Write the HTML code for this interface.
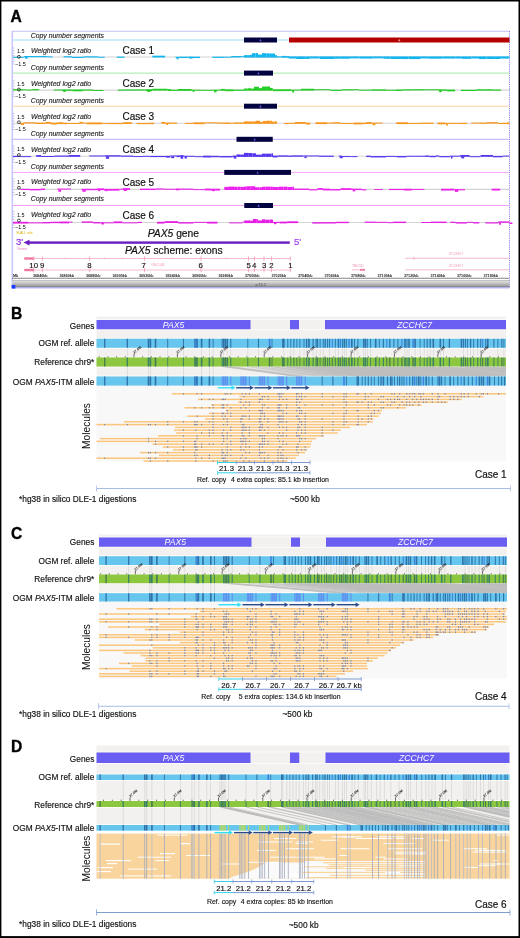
<!DOCTYPE html>
<html><head><meta charset="utf-8"><style>
html,body{margin:0;padding:0;background:#fff;}
body{width:520px;height:938px;overflow:hidden;position:relative;}
svg{display:block;font-family:"Liberation Sans",sans-serif;will-change:transform;}
.frame{position:absolute;left:0;top:0;width:520px;height:938px;box-sizing:border-box;border-style:solid;border-color:#000;border-width:1.5px 1.5px 2px 1.5px;pointer-events:none;}
</style></head><body>
<svg width="520" height="938" viewBox="0 0 520 938" font-family="Liberation Sans, sans-serif">
<rect x="0" y="0" width="520" height="938" fill="#fff"/>
<text x="10.60" y="22.30" font-size="15.6" fill="#000" text-anchor="start" font-weight="bold" stroke="#000" stroke-width="0.35">A</text>
<line x1="12.50" y1="31.30" x2="509.50" y2="31.30" stroke="#c4c4f4" stroke-width="1" />
<line x1="509.50" y1="31.00" x2="509.50" y2="288.00" stroke="#7a7af0" stroke-width="0.9" stroke-dasharray="1.2,1"/>
<rect x="11.50" y="31.00" width="1.60" height="257.00" fill="#c8c8ff" />
<text x="30.70" y="37.70" font-size="6.9" fill="#222" text-anchor="start" font-weight="normal" font-style="italic"  stroke="#222" stroke-width="0.124">Copy number segments</text>
<line x1="13.00" y1="40.00" x2="509.50" y2="40.00" stroke="#9fdcf7" stroke-width="1" />
<rect x="244.00" y="37.50" width="33.00" height="5.00" fill="#03033f" />
<path d="M259.30,41.20 L261.70,41.20 L260.50,38.80 Z" fill="#6a5ae0"/>
<rect x="289.00" y="37.50" width="220.50" height="5.00" fill="#b50000" />
<path d="M398.05,41.20 L400.45,41.20 L399.25,38.80 Z" fill="#e89a9a"/>
<text x="16.90" y="53.20" font-size="5.4" fill="#000" text-anchor="start" font-weight="normal" >1.5</text>
<text x="31.00" y="53.40" font-size="7" fill="#222" text-anchor="start" font-weight="normal" font-style="italic"  stroke="#222" stroke-width="0.126">Weighted log2 ratio</text>
<text x="122.50" y="53.80" font-size="10" fill="#111" text-anchor="start" font-weight="normal"  stroke="#111" stroke-width="0.180">Case 1</text>
<text x="15.00" y="65.50" font-size="5.4" fill="#000" text-anchor="start" font-weight="normal" >−1.5</text>
<line x1="12.60" y1="48.00" x2="14.40" y2="48.00" stroke="#b0b0d8" stroke-width="0.8" />
<line x1="12.60" y1="50.50" x2="14.40" y2="50.50" stroke="#b0b0d8" stroke-width="0.8" />
<line x1="12.60" y1="53.00" x2="14.40" y2="53.00" stroke="#b0b0d8" stroke-width="0.8" />
<line x1="12.60" y1="55.50" x2="14.40" y2="55.50" stroke="#b0b0d8" stroke-width="0.8" />
<line x1="12.60" y1="59.00" x2="14.40" y2="59.00" stroke="#b0b0d8" stroke-width="0.8" />
<line x1="12.60" y1="61.50" x2="14.40" y2="61.50" stroke="#b0b0d8" stroke-width="0.8" />
<line x1="12.60" y1="64.00" x2="14.40" y2="64.00" stroke="#b0b0d8" stroke-width="0.8" />
<line x1="13.00" y1="57.00" x2="509.50" y2="57.00" stroke="#d4d4d4" stroke-width="1.1" />
<rect x="13.00" y="56.77" width="11.10" height="1.00" fill="#12b5ee" />
<rect x="24.10" y="56.00" width="13.09" height="1.20" fill="#12b5ee" />
<rect x="25.10" y="57.00" width="2.44" height="1.75" fill="#12b5ee" />
<rect x="37.19" y="55.96" width="10.07" height="1.20" fill="#12b5ee" />
<rect x="47.25" y="56.40" width="5.37" height="1.00" fill="#12b5ee" />
<rect x="63.65" y="56.14" width="3.02" height="1.20" fill="#12b5ee" />
<rect x="66.67" y="56.23" width="5.16" height="1.20" fill="#12b5ee" />
<rect x="71.83" y="56.80" width="11.81" height="1.20" fill="#12b5ee" />
<rect x="83.64" y="56.28" width="14.62" height="1.20" fill="#12b5ee" />
<rect x="98.26" y="56.79" width="6.43" height="1.00" fill="#12b5ee" />
<rect x="116.89" y="56.58" width="7.62" height="1.20" fill="#12b5ee" />
<rect x="152.34" y="55.67" width="12.75" height="1.80" fill="#12b5ee" />
<rect x="175.61" y="56.81" width="3.61" height="1.20" fill="#12b5ee" />
<rect x="176.61" y="57.00" width="1.99" height="2.32" fill="#12b5ee" />
<rect x="179.22" y="56.65" width="9.01" height="1.40" fill="#12b5ee" />
<rect x="188.23" y="56.57" width="4.40" height="1.40" fill="#12b5ee" />
<rect x="189.23" y="57.00" width="3.39" height="1.59" fill="#12b5ee" />
<rect x="192.63" y="56.68" width="7.43" height="1.40" fill="#12b5ee" />
<rect x="212.20" y="56.67" width="11.92" height="1.20" fill="#12b5ee" />
<rect x="224.11" y="56.70" width="7.02" height="1.00" fill="#12b5ee" />
<rect x="231.13" y="56.06" width="9.94" height="1.40" fill="#12b5ee" />
<rect x="241.07" y="56.10" width="2.93" height="1.00" fill="#12b5ee" />
<rect x="277.00" y="56.32" width="4.73" height="1.20" fill="#12b5ee" />
<rect x="281.73" y="55.92" width="4.94" height="1.80" fill="#12b5ee" />
<rect x="286.67" y="56.12" width="2.33" height="1.80" fill="#12b5ee" />
<rect x="289.00" y="56.40" width="7.13" height="2.12" fill="#12b5ee" />
<rect x="296.13" y="56.40" width="9.11" height="2.62" fill="#12b5ee" />
<rect x="305.24" y="56.40" width="4.46" height="2.56" fill="#12b5ee" />
<rect x="309.70" y="56.40" width="9.91" height="2.04" fill="#12b5ee" />
<rect x="319.62" y="56.40" width="15.18" height="2.59" fill="#12b5ee" />
<rect x="334.80" y="56.40" width="5.34" height="2.29" fill="#12b5ee" />
<rect x="340.14" y="56.40" width="9.70" height="2.34" fill="#12b5ee" />
<rect x="349.84" y="56.40" width="9.54" height="1.95" fill="#12b5ee" />
<rect x="359.38" y="56.40" width="13.34" height="2.18" fill="#12b5ee" />
<rect x="372.71" y="56.40" width="10.64" height="1.93" fill="#12b5ee" />
<rect x="383.35" y="56.40" width="6.97" height="2.35" fill="#12b5ee" />
<rect x="390.32" y="56.40" width="11.69" height="2.57" fill="#12b5ee" />
<rect x="402.01" y="56.40" width="6.44" height="2.68" fill="#12b5ee" />
<rect x="408.46" y="56.40" width="12.31" height="2.67" fill="#12b5ee" />
<rect x="420.76" y="56.40" width="7.42" height="2.04" fill="#12b5ee" />
<rect x="428.18" y="56.40" width="14.07" height="2.28" fill="#12b5ee" />
<rect x="442.26" y="56.40" width="13.06" height="2.16" fill="#12b5ee" />
<rect x="455.32" y="56.40" width="6.56" height="2.13" fill="#12b5ee" />
<rect x="461.87" y="56.40" width="9.50" height="2.44" fill="#12b5ee" />
<rect x="471.38" y="56.40" width="7.64" height="2.12" fill="#12b5ee" />
<rect x="479.01" y="56.40" width="7.49" height="2.65" fill="#12b5ee" />
<rect x="486.51" y="56.40" width="8.31" height="2.64" fill="#12b5ee" />
<rect x="494.82" y="56.40" width="5.24" height="2.59" fill="#12b5ee" />
<rect x="500.06" y="56.40" width="8.85" height="2.19" fill="#12b5ee" />
<rect x="508.91" y="56.40" width="0.59" height="2.01" fill="#12b5ee" />
<rect x="244.00" y="55.15" width="5.93" height="2.45" fill="#12b5ee" />
<rect x="249.93" y="54.82" width="2.07" height="2.78" fill="#12b5ee" />
<rect x="252.00" y="53.21" width="3.49" height="4.39" fill="#12b5ee" />
<rect x="255.49" y="53.04" width="2.51" height="4.56" fill="#12b5ee" />
<rect x="258.00" y="54.58" width="4.00" height="3.02" fill="#12b5ee" />
<rect x="262.00" y="53.18" width="4.31" height="4.42" fill="#12b5ee" />
<rect x="266.31" y="53.37" width="3.56" height="4.23" fill="#12b5ee" />
<rect x="269.87" y="53.51" width="5.13" height="4.09" fill="#12b5ee" />
<rect x="275.00" y="55.15" width="2.00" height="2.45" fill="#12b5ee" />
<circle cx="18.9" cy="56.80" r="1.45" fill="none" stroke="#222" stroke-width="0.8"/>
<text x="30.70" y="70.44" font-size="6.9" fill="#222" text-anchor="start" font-weight="normal" font-style="italic"  stroke="#222" stroke-width="0.124">Copy number segments</text>
<line x1="13.00" y1="73.10" x2="509.50" y2="73.10" stroke="#a6eaa6" stroke-width="1" />
<rect x="244.00" y="70.60" width="29.00" height="5.00" fill="#03033f" />
<path d="M257.30,74.30 L259.70,74.30 L258.50,71.90 Z" fill="#6a5ae0"/>
<text x="16.90" y="85.94" font-size="5.4" fill="#000" text-anchor="start" font-weight="normal" >1.5</text>
<text x="31.00" y="86.14" font-size="7" fill="#222" text-anchor="start" font-weight="normal" font-style="italic"  stroke="#222" stroke-width="0.126">Weighted log2 ratio</text>
<text x="122.50" y="86.90" font-size="10" fill="#111" text-anchor="start" font-weight="normal"  stroke="#111" stroke-width="0.180">Case 2</text>
<text x="15.00" y="98.24" font-size="5.4" fill="#000" text-anchor="start" font-weight="normal" >−1.5</text>
<line x1="12.60" y1="80.74" x2="14.40" y2="80.74" stroke="#b0b0d8" stroke-width="0.8" />
<line x1="12.60" y1="83.24" x2="14.40" y2="83.24" stroke="#b0b0d8" stroke-width="0.8" />
<line x1="12.60" y1="85.74" x2="14.40" y2="85.74" stroke="#b0b0d8" stroke-width="0.8" />
<line x1="12.60" y1="88.24" x2="14.40" y2="88.24" stroke="#b0b0d8" stroke-width="0.8" />
<line x1="12.60" y1="91.74" x2="14.40" y2="91.74" stroke="#b0b0d8" stroke-width="0.8" />
<line x1="12.60" y1="94.24" x2="14.40" y2="94.24" stroke="#b0b0d8" stroke-width="0.8" />
<line x1="12.60" y1="96.74" x2="14.40" y2="96.74" stroke="#b0b0d8" stroke-width="0.8" />
<line x1="13.00" y1="90.10" x2="509.50" y2="90.10" stroke="#d4d4d4" stroke-width="1.1" />
<rect x="13.00" y="89.21" width="10.62" height="1.20" fill="#22cc22" />
<rect x="23.62" y="89.35" width="3.54" height="1.00" fill="#22cc22" />
<rect x="27.17" y="89.58" width="4.44" height="1.00" fill="#22cc22" />
<rect x="31.61" y="89.11" width="7.56" height="1.20" fill="#22cc22" />
<rect x="53.91" y="89.52" width="8.27" height="1.00" fill="#22cc22" />
<rect x="62.18" y="89.44" width="10.11" height="1.40" fill="#22cc22" />
<rect x="63.18" y="90.10" width="2.59" height="1.84" fill="#22cc22" />
<rect x="72.30" y="89.49" width="10.55" height="1.80" fill="#22cc22" />
<rect x="82.85" y="89.47" width="10.33" height="1.20" fill="#22cc22" />
<rect x="93.18" y="90.02" width="10.33" height="1.00" fill="#22cc22" />
<rect x="118.13" y="89.60" width="4.40" height="1.20" fill="#22cc22" />
<rect x="122.53" y="89.44" width="14.39" height="1.20" fill="#22cc22" />
<rect x="136.92" y="89.40" width="9.23" height="1.20" fill="#22cc22" />
<rect x="146.16" y="89.20" width="6.38" height="1.80" fill="#22cc22" />
<rect x="147.16" y="90.10" width="3.39" height="1.81" fill="#22cc22" />
<rect x="152.54" y="88.77" width="15.08" height="1.80" fill="#22cc22" />
<rect x="167.62" y="89.10" width="3.52" height="1.80" fill="#22cc22" />
<rect x="171.14" y="89.75" width="6.56" height="1.20" fill="#22cc22" />
<rect x="177.70" y="89.01" width="13.97" height="1.80" fill="#22cc22" />
<rect x="191.67" y="89.69" width="9.17" height="1.00" fill="#22cc22" />
<rect x="192.67" y="90.10" width="1.75" height="1.78" fill="#22cc22" />
<rect x="200.84" y="89.81" width="12.20" height="1.00" fill="#22cc22" />
<rect x="213.04" y="89.68" width="7.69" height="1.00" fill="#22cc22" />
<rect x="214.04" y="90.10" width="2.61" height="2.19" fill="#22cc22" />
<rect x="220.74" y="88.92" width="4.40" height="1.80" fill="#22cc22" />
<rect x="225.14" y="89.39" width="8.56" height="1.80" fill="#22cc22" />
<rect x="233.70" y="89.66" width="10.30" height="1.20" fill="#22cc22" />
<rect x="273.00" y="89.33" width="13.13" height="1.80" fill="#22cc22" />
<rect x="286.13" y="89.24" width="4.85" height="1.80" fill="#22cc22" />
<rect x="290.98" y="89.64" width="9.99" height="1.00" fill="#22cc22" />
<rect x="291.98" y="90.10" width="1.96" height="2.32" fill="#22cc22" />
<rect x="300.98" y="88.77" width="13.29" height="1.80" fill="#22cc22" />
<rect x="314.27" y="89.19" width="15.98" height="1.00" fill="#22cc22" />
<rect x="330.25" y="89.69" width="11.39" height="1.20" fill="#22cc22" />
<rect x="341.64" y="89.21" width="12.18" height="1.20" fill="#22cc22" />
<rect x="353.82" y="89.19" width="5.10" height="1.00" fill="#22cc22" />
<rect x="358.91" y="89.66" width="12.69" height="1.00" fill="#22cc22" />
<rect x="371.60" y="89.34" width="14.42" height="1.40" fill="#22cc22" />
<rect x="386.02" y="89.74" width="9.36" height="1.00" fill="#22cc22" />
<rect x="395.39" y="89.56" width="6.83" height="1.40" fill="#22cc22" />
<rect x="402.22" y="89.29" width="10.21" height="1.20" fill="#22cc22" />
<rect x="412.43" y="89.17" width="12.76" height="1.20" fill="#22cc22" />
<rect x="425.19" y="89.27" width="8.89" height="1.00" fill="#22cc22" />
<rect x="434.08" y="89.23" width="4.11" height="1.00" fill="#22cc22" />
<rect x="438.19" y="89.37" width="8.90" height="1.40" fill="#22cc22" />
<rect x="439.19" y="90.10" width="2.56" height="2.04" fill="#22cc22" />
<rect x="447.09" y="89.60" width="8.00" height="1.80" fill="#22cc22" />
<rect x="460.99" y="89.79" width="15.65" height="1.20" fill="#22cc22" />
<rect x="476.63" y="89.21" width="7.89" height="1.40" fill="#22cc22" />
<rect x="484.52" y="89.27" width="7.92" height="1.40" fill="#22cc22" />
<rect x="492.43" y="89.52" width="8.63" height="1.20" fill="#22cc22" />
<rect x="509.21" y="88.79" width="0.29" height="1.80" fill="#22cc22" />
<rect x="244.00" y="88.54" width="3.72" height="2.16" fill="#22cc22" />
<rect x="247.72" y="88.28" width="3.55" height="2.42" fill="#22cc22" />
<rect x="251.27" y="88.59" width="2.73" height="2.11" fill="#22cc22" />
<rect x="254.00" y="86.75" width="4.12" height="3.95" fill="#22cc22" />
<rect x="258.12" y="86.81" width="0.88" height="3.89" fill="#22cc22" />
<rect x="259.00" y="88.12" width="3.00" height="2.58" fill="#22cc22" />
<rect x="262.00" y="86.57" width="4.14" height="4.13" fill="#22cc22" />
<rect x="266.14" y="86.44" width="2.89" height="4.26" fill="#22cc22" />
<rect x="269.03" y="86.51" width="0.97" height="4.19" fill="#22cc22" />
<rect x="270.00" y="87.90" width="2.62" height="2.80" fill="#22cc22" />
<rect x="272.62" y="87.97" width="0.38" height="2.73" fill="#22cc22" />
<circle cx="18.9" cy="89.54" r="1.45" fill="none" stroke="#222" stroke-width="0.8"/>
<text x="30.70" y="103.18" font-size="6.9" fill="#222" text-anchor="start" font-weight="normal" font-style="italic"  stroke="#222" stroke-width="0.124">Copy number segments</text>
<line x1="13.00" y1="106.20" x2="509.50" y2="106.20" stroke="#fad2a0" stroke-width="1" />
<rect x="244.00" y="103.70" width="33.00" height="5.00" fill="#03033f" />
<path d="M259.30,107.40 L261.70,107.40 L260.50,105.00 Z" fill="#6a5ae0"/>
<text x="16.90" y="118.68" font-size="5.4" fill="#000" text-anchor="start" font-weight="normal" >1.5</text>
<text x="31.00" y="118.88" font-size="7" fill="#222" text-anchor="start" font-weight="normal" font-style="italic"  stroke="#222" stroke-width="0.126">Weighted log2 ratio</text>
<text x="122.50" y="120.00" font-size="10" fill="#111" text-anchor="start" font-weight="normal"  stroke="#111" stroke-width="0.180">Case 3</text>
<text x="15.00" y="130.98" font-size="5.4" fill="#000" text-anchor="start" font-weight="normal" >−1.5</text>
<line x1="12.60" y1="113.48" x2="14.40" y2="113.48" stroke="#b0b0d8" stroke-width="0.8" />
<line x1="12.60" y1="115.98" x2="14.40" y2="115.98" stroke="#b0b0d8" stroke-width="0.8" />
<line x1="12.60" y1="118.48" x2="14.40" y2="118.48" stroke="#b0b0d8" stroke-width="0.8" />
<line x1="12.60" y1="120.98" x2="14.40" y2="120.98" stroke="#b0b0d8" stroke-width="0.8" />
<line x1="12.60" y1="124.48" x2="14.40" y2="124.48" stroke="#b0b0d8" stroke-width="0.8" />
<line x1="12.60" y1="126.98" x2="14.40" y2="126.98" stroke="#b0b0d8" stroke-width="0.8" />
<line x1="12.60" y1="129.48" x2="14.40" y2="129.48" stroke="#b0b0d8" stroke-width="0.8" />
<line x1="13.00" y1="123.20" x2="509.50" y2="123.20" stroke="#d4d4d4" stroke-width="1.1" />
<rect x="20.11" y="122.91" width="3.28" height="1.20" fill="#f7961a" />
<rect x="21.11" y="123.20" width="2.84" height="1.79" fill="#f7961a" />
<rect x="23.39" y="122.30" width="11.77" height="1.20" fill="#f7961a" />
<rect x="35.16" y="122.61" width="10.47" height="1.40" fill="#f7961a" />
<rect x="45.63" y="121.91" width="5.40" height="1.80" fill="#f7961a" />
<rect x="51.03" y="122.70" width="6.13" height="1.80" fill="#f7961a" />
<rect x="57.16" y="122.26" width="6.52" height="1.80" fill="#f7961a" />
<rect x="63.68" y="122.80" width="3.43" height="1.40" fill="#f7961a" />
<rect x="67.11" y="122.97" width="12.31" height="1.00" fill="#f7961a" />
<rect x="79.42" y="121.90" width="3.70" height="1.80" fill="#f7961a" />
<rect x="83.12" y="122.65" width="3.62" height="1.00" fill="#f7961a" />
<rect x="86.74" y="122.48" width="15.35" height="1.80" fill="#f7961a" />
<rect x="102.10" y="122.96" width="6.04" height="1.00" fill="#f7961a" />
<rect x="108.13" y="122.92" width="14.98" height="1.20" fill="#f7961a" />
<rect x="123.11" y="122.23" width="8.74" height="1.80" fill="#f7961a" />
<rect x="136.57" y="122.95" width="12.83" height="1.20" fill="#f7961a" />
<rect x="149.40" y="122.75" width="4.80" height="1.40" fill="#f7961a" />
<rect x="161.27" y="121.93" width="4.07" height="1.80" fill="#f7961a" />
<rect x="165.34" y="122.59" width="11.66" height="1.20" fill="#f7961a" />
<rect x="166.34" y="123.20" width="1.90" height="1.79" fill="#f7961a" />
<rect x="184.86" y="122.93" width="8.47" height="1.00" fill="#f7961a" />
<rect x="193.33" y="122.37" width="11.50" height="1.80" fill="#f7961a" />
<rect x="204.83" y="122.27" width="11.94" height="1.00" fill="#f7961a" />
<rect x="216.77" y="122.49" width="6.48" height="1.20" fill="#f7961a" />
<rect x="223.25" y="122.50" width="6.98" height="1.40" fill="#f7961a" />
<rect x="230.23" y="122.75" width="3.83" height="1.00" fill="#f7961a" />
<rect x="234.06" y="122.44" width="9.94" height="1.40" fill="#f7961a" />
<rect x="284.29" y="122.90" width="10.60" height="1.00" fill="#f7961a" />
<rect x="294.89" y="121.98" width="10.88" height="1.80" fill="#f7961a" />
<rect x="305.77" y="122.67" width="4.54" height="1.80" fill="#f7961a" />
<rect x="315.54" y="122.28" width="11.68" height="1.80" fill="#f7961a" />
<rect x="327.22" y="122.63" width="4.35" height="1.00" fill="#f7961a" />
<rect x="331.57" y="122.26" width="3.01" height="1.40" fill="#f7961a" />
<rect x="334.58" y="122.23" width="5.80" height="1.40" fill="#f7961a" />
<rect x="340.38" y="122.98" width="13.21" height="1.00" fill="#f7961a" />
<rect x="353.59" y="122.60" width="8.21" height="1.80" fill="#f7961a" />
<rect x="361.80" y="122.73" width="4.22" height="1.40" fill="#f7961a" />
<rect x="366.02" y="122.14" width="5.59" height="1.80" fill="#f7961a" />
<rect x="371.61" y="122.59" width="11.10" height="1.00" fill="#f7961a" />
<rect x="372.61" y="123.20" width="2.71" height="2.12" fill="#f7961a" />
<rect x="396.29" y="122.31" width="11.81" height="1.80" fill="#f7961a" />
<rect x="408.10" y="122.96" width="11.98" height="1.00" fill="#f7961a" />
<rect x="420.08" y="122.68" width="13.38" height="1.20" fill="#f7961a" />
<rect x="437.47" y="122.53" width="7.63" height="1.80" fill="#f7961a" />
<rect x="445.10" y="122.89" width="15.08" height="1.00" fill="#f7961a" />
<rect x="446.10" y="123.20" width="1.68" height="2.46" fill="#f7961a" />
<rect x="460.18" y="122.87" width="6.91" height="1.20" fill="#f7961a" />
<rect x="471.28" y="122.63" width="7.45" height="1.00" fill="#f7961a" />
<rect x="478.72" y="122.63" width="7.91" height="1.20" fill="#f7961a" />
<rect x="486.64" y="122.15" width="10.98" height="1.40" fill="#f7961a" />
<rect x="497.61" y="122.97" width="4.30" height="1.00" fill="#f7961a" />
<rect x="501.91" y="122.84" width="5.18" height="1.20" fill="#f7961a" />
<rect x="507.09" y="122.43" width="2.41" height="1.80" fill="#f7961a" />
<rect x="244.00" y="121.39" width="3.99" height="2.41" fill="#f7961a" />
<rect x="247.99" y="121.50" width="5.67" height="2.30" fill="#f7961a" />
<rect x="253.66" y="121.35" width="2.34" height="2.45" fill="#f7961a" />
<rect x="256.00" y="120.76" width="4.00" height="3.04" fill="#f7961a" />
<rect x="260.00" y="121.89" width="2.61" height="1.91" fill="#f7961a" />
<rect x="262.61" y="121.65" width="0.39" height="2.15" fill="#f7961a" />
<rect x="263.00" y="120.95" width="3.14" height="2.85" fill="#f7961a" />
<rect x="266.14" y="120.73" width="4.58" height="3.07" fill="#f7961a" />
<rect x="270.72" y="120.69" width="1.28" height="3.11" fill="#f7961a" />
<rect x="272.00" y="121.61" width="2.71" height="2.19" fill="#f7961a" />
<rect x="274.71" y="121.37" width="2.29" height="2.43" fill="#f7961a" />
<circle cx="18.9" cy="122.28" r="1.45" fill="none" stroke="#222" stroke-width="0.8"/>
<text x="30.70" y="135.92" font-size="6.9" fill="#222" text-anchor="start" font-weight="normal" font-style="italic"  stroke="#222" stroke-width="0.124">Copy number segments</text>
<line x1="13.00" y1="139.30" x2="509.50" y2="139.30" stroke="#beb0fa" stroke-width="1" />
<rect x="236.50" y="136.80" width="36.25" height="5.00" fill="#03033f" />
<path d="M253.43,140.50 L255.82,140.50 L254.62,138.10 Z" fill="#6a5ae0"/>
<text x="16.90" y="151.42" font-size="5.4" fill="#000" text-anchor="start" font-weight="normal" >1.5</text>
<text x="31.00" y="151.62" font-size="7" fill="#222" text-anchor="start" font-weight="normal" font-style="italic"  stroke="#222" stroke-width="0.126">Weighted log2 ratio</text>
<text x="122.50" y="153.10" font-size="10" fill="#111" text-anchor="start" font-weight="normal"  stroke="#111" stroke-width="0.180">Case 4</text>
<text x="15.00" y="163.72" font-size="5.4" fill="#000" text-anchor="start" font-weight="normal" >−1.5</text>
<line x1="12.60" y1="146.22" x2="14.40" y2="146.22" stroke="#b0b0d8" stroke-width="0.8" />
<line x1="12.60" y1="148.72" x2="14.40" y2="148.72" stroke="#b0b0d8" stroke-width="0.8" />
<line x1="12.60" y1="151.22" x2="14.40" y2="151.22" stroke="#b0b0d8" stroke-width="0.8" />
<line x1="12.60" y1="153.72" x2="14.40" y2="153.72" stroke="#b0b0d8" stroke-width="0.8" />
<line x1="12.60" y1="157.22" x2="14.40" y2="157.22" stroke="#b0b0d8" stroke-width="0.8" />
<line x1="12.60" y1="159.72" x2="14.40" y2="159.72" stroke="#b0b0d8" stroke-width="0.8" />
<line x1="12.60" y1="162.22" x2="14.40" y2="162.22" stroke="#b0b0d8" stroke-width="0.8" />
<line x1="13.00" y1="156.30" x2="509.50" y2="156.30" stroke="#d4d4d4" stroke-width="1.1" />
<rect x="13.00" y="155.83" width="7.14" height="1.20" fill="#5836f0" />
<rect x="20.14" y="156.11" width="11.00" height="1.00" fill="#5836f0" />
<rect x="36.17" y="155.04" width="4.98" height="1.80" fill="#5836f0" />
<rect x="41.15" y="155.99" width="13.61" height="1.00" fill="#5836f0" />
<rect x="54.76" y="155.54" width="13.58" height="1.20" fill="#5836f0" />
<rect x="68.35" y="155.03" width="11.85" height="1.80" fill="#5836f0" />
<rect x="89.25" y="155.47" width="15.74" height="1.00" fill="#5836f0" />
<rect x="105.00" y="155.21" width="15.52" height="1.40" fill="#5836f0" />
<rect x="106.00" y="156.30" width="3.12" height="2.50" fill="#5836f0" />
<rect x="120.51" y="155.56" width="12.76" height="1.20" fill="#5836f0" />
<rect x="133.27" y="156.06" width="9.48" height="1.00" fill="#5836f0" />
<rect x="142.76" y="155.82" width="7.38" height="1.00" fill="#5836f0" />
<rect x="150.14" y="155.90" width="15.82" height="1.20" fill="#5836f0" />
<rect x="165.96" y="155.84" width="4.25" height="1.80" fill="#5836f0" />
<rect x="170.20" y="155.47" width="6.19" height="1.00" fill="#5836f0" />
<rect x="171.20" y="156.30" width="3.03" height="1.86" fill="#5836f0" />
<rect x="176.39" y="155.36" width="3.21" height="1.80" fill="#5836f0" />
<rect x="179.60" y="155.12" width="4.02" height="1.80" fill="#5836f0" />
<rect x="180.60" y="156.30" width="2.54" height="2.46" fill="#5836f0" />
<rect x="183.62" y="155.77" width="10.78" height="1.00" fill="#5836f0" />
<rect x="184.62" y="156.30" width="2.29" height="2.28" fill="#5836f0" />
<rect x="194.40" y="156.16" width="8.65" height="1.00" fill="#5836f0" />
<rect x="203.05" y="155.68" width="8.48" height="1.80" fill="#5836f0" />
<rect x="211.53" y="155.83" width="7.92" height="1.40" fill="#5836f0" />
<rect x="219.45" y="156.02" width="13.15" height="1.40" fill="#5836f0" />
<rect x="232.61" y="155.57" width="3.89" height="1.40" fill="#5836f0" />
<rect x="233.61" y="156.30" width="2.77" height="2.27" fill="#5836f0" />
<rect x="272.75" y="155.62" width="4.94" height="1.80" fill="#5836f0" />
<rect x="277.69" y="155.36" width="10.79" height="1.40" fill="#5836f0" />
<rect x="288.48" y="155.54" width="3.40" height="1.40" fill="#5836f0" />
<rect x="291.88" y="155.34" width="11.50" height="1.40" fill="#5836f0" />
<rect x="303.38" y="155.43" width="15.67" height="1.00" fill="#5836f0" />
<rect x="304.38" y="156.30" width="2.30" height="1.80" fill="#5836f0" />
<rect x="319.06" y="155.65" width="14.78" height="1.20" fill="#5836f0" />
<rect x="338.67" y="155.56" width="3.16" height="1.00" fill="#5836f0" />
<rect x="339.67" y="156.30" width="3.04" height="1.92" fill="#5836f0" />
<rect x="341.83" y="156.06" width="9.55" height="1.00" fill="#5836f0" />
<rect x="351.39" y="156.15" width="6.10" height="1.00" fill="#5836f0" />
<rect x="366.20" y="155.66" width="4.60" height="1.40" fill="#5836f0" />
<rect x="370.81" y="156.04" width="15.18" height="1.40" fill="#5836f0" />
<rect x="385.99" y="155.93" width="10.68" height="1.00" fill="#5836f0" />
<rect x="396.67" y="155.98" width="9.87" height="1.40" fill="#5836f0" />
<rect x="406.55" y="155.76" width="7.85" height="1.00" fill="#5836f0" />
<rect x="414.40" y="155.76" width="10.36" height="1.00" fill="#5836f0" />
<rect x="424.75" y="155.49" width="4.52" height="1.40" fill="#5836f0" />
<rect x="429.27" y="155.82" width="6.58" height="1.40" fill="#5836f0" />
<rect x="435.86" y="155.40" width="3.32" height="1.20" fill="#5836f0" />
<rect x="439.18" y="156.07" width="10.70" height="1.20" fill="#5836f0" />
<rect x="449.88" y="155.67" width="10.35" height="1.00" fill="#5836f0" />
<rect x="450.88" y="156.30" width="1.59" height="2.32" fill="#5836f0" />
<rect x="460.23" y="154.99" width="9.43" height="1.80" fill="#5836f0" />
<rect x="461.23" y="156.30" width="2.94" height="2.11" fill="#5836f0" />
<rect x="469.66" y="156.20" width="10.96" height="1.00" fill="#5836f0" />
<rect x="480.61" y="154.99" width="12.35" height="1.80" fill="#5836f0" />
<rect x="492.96" y="155.91" width="9.82" height="1.40" fill="#5836f0" />
<rect x="502.78" y="155.62" width="6.72" height="1.00" fill="#5836f0" />
<rect x="236.50" y="154.42" width="3.63" height="2.48" fill="#5836f0" />
<rect x="240.13" y="154.56" width="3.87" height="2.34" fill="#5836f0" />
<rect x="244.00" y="152.88" width="4.80" height="4.02" fill="#5836f0" />
<rect x="248.80" y="153.04" width="3.60" height="3.86" fill="#5836f0" />
<rect x="252.40" y="153.27" width="3.60" height="3.63" fill="#5836f0" />
<rect x="256.00" y="154.63" width="5.98" height="2.27" fill="#5836f0" />
<rect x="261.98" y="154.69" width="0.02" height="2.21" fill="#5836f0" />
<rect x="262.00" y="153.65" width="3.88" height="3.25" fill="#5836f0" />
<rect x="265.88" y="153.67" width="5.70" height="3.23" fill="#5836f0" />
<rect x="271.58" y="153.28" width="1.42" height="3.62" fill="#5836f0" />
<circle cx="18.9" cy="155.02" r="1.45" fill="none" stroke="#222" stroke-width="0.8"/>
<text x="30.70" y="168.66" font-size="6.9" fill="#222" text-anchor="start" font-weight="normal" font-style="italic"  stroke="#222" stroke-width="0.124">Copy number segments</text>
<line x1="13.00" y1="172.40" x2="509.50" y2="172.40" stroke="#f6a6f6" stroke-width="1" />
<rect x="224.25" y="169.90" width="66.75" height="5.00" fill="#03033f" />
<path d="M256.43,173.60 L258.82,173.60 L257.62,171.20 Z" fill="#6a5ae0"/>
<text x="16.90" y="184.16" font-size="5.4" fill="#000" text-anchor="start" font-weight="normal" >1.5</text>
<text x="31.00" y="184.36" font-size="7" fill="#222" text-anchor="start" font-weight="normal" font-style="italic"  stroke="#222" stroke-width="0.126">Weighted log2 ratio</text>
<text x="122.50" y="186.20" font-size="10" fill="#111" text-anchor="start" font-weight="normal"  stroke="#111" stroke-width="0.180">Case 5</text>
<text x="15.00" y="196.46" font-size="5.4" fill="#000" text-anchor="start" font-weight="normal" >−1.5</text>
<line x1="12.60" y1="178.96" x2="14.40" y2="178.96" stroke="#b0b0d8" stroke-width="0.8" />
<line x1="12.60" y1="181.46" x2="14.40" y2="181.46" stroke="#b0b0d8" stroke-width="0.8" />
<line x1="12.60" y1="183.96" x2="14.40" y2="183.96" stroke="#b0b0d8" stroke-width="0.8" />
<line x1="12.60" y1="186.46" x2="14.40" y2="186.46" stroke="#b0b0d8" stroke-width="0.8" />
<line x1="12.60" y1="189.96" x2="14.40" y2="189.96" stroke="#b0b0d8" stroke-width="0.8" />
<line x1="12.60" y1="192.46" x2="14.40" y2="192.46" stroke="#b0b0d8" stroke-width="0.8" />
<line x1="12.60" y1="194.96" x2="14.40" y2="194.96" stroke="#b0b0d8" stroke-width="0.8" />
<line x1="13.00" y1="189.40" x2="509.50" y2="189.40" stroke="#d4d4d4" stroke-width="1.1" />
<rect x="20.47" y="188.80" width="8.64" height="1.20" fill="#ee22ee" />
<rect x="29.11" y="188.96" width="11.61" height="1.40" fill="#ee22ee" />
<rect x="40.72" y="188.57" width="4.40" height="1.40" fill="#ee22ee" />
<rect x="57.35" y="188.55" width="13.57" height="1.00" fill="#ee22ee" />
<rect x="58.35" y="189.40" width="2.76" height="2.34" fill="#ee22ee" />
<rect x="81.49" y="188.82" width="15.64" height="1.40" fill="#ee22ee" />
<rect x="82.49" y="189.40" width="3.22" height="2.38" fill="#ee22ee" />
<rect x="97.13" y="188.35" width="7.06" height="1.80" fill="#ee22ee" />
<rect x="98.13" y="189.40" width="2.10" height="1.68" fill="#ee22ee" />
<rect x="104.18" y="188.86" width="15.26" height="1.80" fill="#ee22ee" />
<rect x="105.18" y="189.40" width="2.33" height="1.73" fill="#ee22ee" />
<rect x="119.45" y="188.71" width="3.35" height="1.00" fill="#ee22ee" />
<rect x="122.80" y="188.12" width="7.20" height="1.80" fill="#ee22ee" />
<rect x="123.80" y="189.40" width="3.04" height="1.61" fill="#ee22ee" />
<rect x="139.99" y="188.64" width="15.83" height="1.40" fill="#ee22ee" />
<rect x="155.82" y="188.39" width="8.90" height="1.20" fill="#ee22ee" />
<rect x="164.72" y="188.74" width="11.24" height="1.00" fill="#ee22ee" />
<rect x="175.96" y="188.47" width="3.70" height="1.80" fill="#ee22ee" />
<rect x="179.66" y="188.58" width="13.37" height="1.20" fill="#ee22ee" />
<rect x="193.03" y="189.13" width="6.33" height="1.00" fill="#ee22ee" />
<rect x="199.36" y="189.11" width="5.64" height="1.00" fill="#ee22ee" />
<rect x="205.00" y="188.63" width="6.04" height="1.80" fill="#ee22ee" />
<rect x="211.04" y="188.77" width="9.03" height="1.80" fill="#ee22ee" />
<rect x="212.04" y="189.40" width="2.66" height="1.75" fill="#ee22ee" />
<rect x="294.00" y="188.55" width="14.95" height="1.40" fill="#ee22ee" />
<rect x="308.95" y="189.23" width="8.46" height="1.20" fill="#ee22ee" />
<rect x="317.41" y="188.08" width="5.53" height="1.80" fill="#ee22ee" />
<rect x="322.94" y="188.65" width="7.06" height="1.80" fill="#ee22ee" />
<rect x="330.01" y="189.07" width="10.69" height="1.40" fill="#ee22ee" />
<rect x="340.70" y="188.19" width="10.99" height="1.80" fill="#ee22ee" />
<rect x="351.68" y="188.67" width="10.01" height="1.40" fill="#ee22ee" />
<rect x="352.68" y="189.40" width="2.57" height="1.98" fill="#ee22ee" />
<rect x="361.69" y="189.23" width="4.55" height="1.20" fill="#ee22ee" />
<rect x="374.44" y="189.03" width="8.43" height="1.00" fill="#ee22ee" />
<rect x="388.93" y="188.87" width="15.10" height="1.20" fill="#ee22ee" />
<rect x="404.03" y="188.73" width="7.85" height="1.80" fill="#ee22ee" />
<rect x="411.88" y="188.93" width="12.45" height="1.00" fill="#ee22ee" />
<rect x="441.02" y="188.77" width="8.96" height="1.80" fill="#ee22ee" />
<rect x="449.98" y="188.68" width="3.97" height="1.80" fill="#ee22ee" />
<rect x="453.95" y="189.12" width="10.98" height="1.20" fill="#ee22ee" />
<rect x="454.95" y="189.40" width="3.27" height="2.49" fill="#ee22ee" />
<rect x="491.63" y="188.71" width="8.57" height="1.80" fill="#ee22ee" />
<rect x="224.25" y="186.96" width="3.84" height="3.04" fill="#ee22ee" />
<rect x="228.09" y="186.60" width="2.96" height="3.40" fill="#ee22ee" />
<rect x="231.06" y="186.57" width="3.02" height="3.43" fill="#ee22ee" />
<rect x="234.07" y="186.79" width="3.46" height="3.21" fill="#ee22ee" />
<rect x="237.53" y="186.71" width="3.20" height="3.29" fill="#ee22ee" />
<rect x="240.73" y="186.92" width="3.27" height="3.08" fill="#ee22ee" />
<rect x="244.00" y="186.53" width="2.82" height="3.47" fill="#ee22ee" />
<rect x="246.82" y="186.24" width="3.98" height="3.76" fill="#ee22ee" />
<rect x="250.80" y="186.20" width="4.20" height="3.80" fill="#ee22ee" />
<rect x="255.00" y="187.24" width="4.46" height="2.76" fill="#ee22ee" />
<rect x="259.46" y="187.28" width="2.54" height="2.72" fill="#ee22ee" />
<rect x="262.00" y="186.76" width="3.21" height="3.24" fill="#ee22ee" />
<rect x="265.21" y="186.62" width="5.01" height="3.38" fill="#ee22ee" />
<rect x="270.22" y="186.64" width="2.66" height="3.36" fill="#ee22ee" />
<rect x="272.88" y="186.97" width="5.89" height="3.03" fill="#ee22ee" />
<rect x="278.77" y="186.70" width="4.72" height="3.30" fill="#ee22ee" />
<rect x="283.49" y="186.64" width="4.02" height="3.36" fill="#ee22ee" />
<rect x="287.50" y="186.96" width="4.70" height="3.04" fill="#ee22ee" />
<rect x="292.20" y="186.70" width="1.80" height="3.30" fill="#ee22ee" />
<circle cx="18.9" cy="187.76" r="1.45" fill="none" stroke="#222" stroke-width="0.8"/>
<text x="30.70" y="201.40" font-size="6.9" fill="#222" text-anchor="start" font-weight="normal" font-style="italic"  stroke="#222" stroke-width="0.124">Copy number segments</text>
<line x1="13.00" y1="205.50" x2="509.50" y2="205.50" stroke="#f3a3f3" stroke-width="1" />
<rect x="244.25" y="203.00" width="28.75" height="5.00" fill="#03033f" />
<path d="M257.43,206.70 L259.82,206.70 L258.62,204.30 Z" fill="#6a5ae0"/>
<text x="16.90" y="216.90" font-size="5.4" fill="#000" text-anchor="start" font-weight="normal" >1.5</text>
<text x="31.00" y="217.10" font-size="7" fill="#222" text-anchor="start" font-weight="normal" font-style="italic"  stroke="#222" stroke-width="0.126">Weighted log2 ratio</text>
<text x="122.50" y="219.30" font-size="10" fill="#111" text-anchor="start" font-weight="normal"  stroke="#111" stroke-width="0.180">Case 6</text>
<text x="15.00" y="229.20" font-size="5.4" fill="#000" text-anchor="start" font-weight="normal" >−1.5</text>
<line x1="12.60" y1="211.70" x2="14.40" y2="211.70" stroke="#b0b0d8" stroke-width="0.8" />
<line x1="12.60" y1="214.20" x2="14.40" y2="214.20" stroke="#b0b0d8" stroke-width="0.8" />
<line x1="12.60" y1="216.70" x2="14.40" y2="216.70" stroke="#b0b0d8" stroke-width="0.8" />
<line x1="12.60" y1="219.20" x2="14.40" y2="219.20" stroke="#b0b0d8" stroke-width="0.8" />
<line x1="12.60" y1="222.70" x2="14.40" y2="222.70" stroke="#b0b0d8" stroke-width="0.8" />
<line x1="12.60" y1="225.20" x2="14.40" y2="225.20" stroke="#b0b0d8" stroke-width="0.8" />
<line x1="12.60" y1="227.70" x2="14.40" y2="227.70" stroke="#b0b0d8" stroke-width="0.8" />
<line x1="13.00" y1="222.50" x2="509.50" y2="222.50" stroke="#d4d4d4" stroke-width="1.1" />
<rect x="13.00" y="221.78" width="15.33" height="1.80" fill="#e41ee4" />
<rect x="28.33" y="222.38" width="13.84" height="1.00" fill="#e41ee4" />
<rect x="42.17" y="222.00" width="7.78" height="1.40" fill="#e41ee4" />
<rect x="49.95" y="221.76" width="9.21" height="1.40" fill="#e41ee4" />
<rect x="59.16" y="221.53" width="9.98" height="1.80" fill="#e41ee4" />
<rect x="69.14" y="221.65" width="3.21" height="1.00" fill="#e41ee4" />
<rect x="81.64" y="221.42" width="11.51" height="1.40" fill="#e41ee4" />
<rect x="93.16" y="222.05" width="7.17" height="1.40" fill="#e41ee4" />
<rect x="100.33" y="222.35" width="13.13" height="1.00" fill="#e41ee4" />
<rect x="101.33" y="222.50" width="2.53" height="1.97" fill="#e41ee4" />
<rect x="113.46" y="221.40" width="8.76" height="1.80" fill="#e41ee4" />
<rect x="122.22" y="222.34" width="15.61" height="1.00" fill="#e41ee4" />
<rect x="137.83" y="221.82" width="3.95" height="1.20" fill="#e41ee4" />
<rect x="157.06" y="221.76" width="7.45" height="1.80" fill="#e41ee4" />
<rect x="164.51" y="221.18" width="13.79" height="1.80" fill="#e41ee4" />
<rect x="178.30" y="222.15" width="15.10" height="1.40" fill="#e41ee4" />
<rect x="193.40" y="221.86" width="13.69" height="1.00" fill="#e41ee4" />
<rect x="207.09" y="221.74" width="10.41" height="1.80" fill="#e41ee4" />
<rect x="229.30" y="222.40" width="13.22" height="1.00" fill="#e41ee4" />
<rect x="242.53" y="221.59" width="1.72" height="1.00" fill="#e41ee4" />
<rect x="273.00" y="221.84" width="6.83" height="1.20" fill="#e41ee4" />
<rect x="274.00" y="222.50" width="2.41" height="1.66" fill="#e41ee4" />
<rect x="279.83" y="221.61" width="7.32" height="1.80" fill="#e41ee4" />
<rect x="287.15" y="221.31" width="11.05" height="1.80" fill="#e41ee4" />
<rect x="312.25" y="222.18" width="8.69" height="1.40" fill="#e41ee4" />
<rect x="320.94" y="222.12" width="15.22" height="1.40" fill="#e41ee4" />
<rect x="336.16" y="221.76" width="12.72" height="1.40" fill="#e41ee4" />
<rect x="364.67" y="221.63" width="11.89" height="1.20" fill="#e41ee4" />
<rect x="376.55" y="221.81" width="10.98" height="1.00" fill="#e41ee4" />
<rect x="387.53" y="222.17" width="5.52" height="1.00" fill="#e41ee4" />
<rect x="393.05" y="221.65" width="13.12" height="1.40" fill="#e41ee4" />
<rect x="421.31" y="222.02" width="9.49" height="1.00" fill="#e41ee4" />
<rect x="430.81" y="221.63" width="15.90" height="1.40" fill="#e41ee4" />
<rect x="450.13" y="221.73" width="5.49" height="1.20" fill="#e41ee4" />
<rect x="455.62" y="222.16" width="11.25" height="1.40" fill="#e41ee4" />
<rect x="466.87" y="221.79" width="6.32" height="1.00" fill="#e41ee4" />
<rect x="473.19" y="222.10" width="6.13" height="1.40" fill="#e41ee4" />
<rect x="485.34" y="222.30" width="12.71" height="1.20" fill="#e41ee4" />
<rect x="498.05" y="221.38" width="10.45" height="1.40" fill="#e41ee4" />
<rect x="499.05" y="222.50" width="1.79" height="2.24" fill="#e41ee4" />
<rect x="508.50" y="221.37" width="1.00" height="1.80" fill="#e41ee4" />
<rect x="509.50" y="222.50" width="2.89" height="1.50" fill="#e41ee4" />
<rect x="244.25" y="220.49" width="5.81" height="2.61" fill="#e41ee4" />
<rect x="250.06" y="220.62" width="2.94" height="2.48" fill="#e41ee4" />
<rect x="253.00" y="218.93" width="3.25" height="4.17" fill="#e41ee4" />
<rect x="256.25" y="219.12" width="1.75" height="3.98" fill="#e41ee4" />
<rect x="258.00" y="220.45" width="4.00" height="2.65" fill="#e41ee4" />
<rect x="262.00" y="219.29" width="3.20" height="3.81" fill="#e41ee4" />
<rect x="265.20" y="219.71" width="4.47" height="3.39" fill="#e41ee4" />
<rect x="269.67" y="219.56" width="3.33" height="3.54" fill="#e41ee4" />
<rect x="273.00" y="219.64" width="0.00" height="3.46" fill="#e41ee4" />
<circle cx="18.9" cy="220.50" r="1.45" fill="none" stroke="#222" stroke-width="0.8"/>
<text x="16.50" y="233.50" font-size="3.5" fill="#e0b000" text-anchor="start" font-weight="normal" >B-ALL seit</text>
<text x="16.00" y="245.20" font-size="9.5" fill="#8a2be2" text-anchor="start" font-weight="normal"  stroke="#8a2be2" stroke-width="0.171">3'</text>
<text x="17.00" y="250.00" font-size="3.5" fill="#e080c0" text-anchor="start" font-weight="normal" >Genes</text>
<path d="M23.5,242.6 L29.5,239.8 L29.5,245.4 Z" fill="#6a1fc0"/>
<rect x="28.00" y="241.40" width="261.80" height="2.40" fill="#6a1fc0" />
<text x="294.00" y="245.20" font-size="9.5" fill="#a040f0" text-anchor="start" font-weight="normal"  stroke="#a040f0" stroke-width="0.171">5'</text>
<text x="147.70" y="237.20" font-size="10.3" fill="#111" text-anchor="start" font-weight="normal"  stroke="#111" stroke-width="0.185"><tspan font-style="italic">PAX5</tspan> gene</text>
<text x="125.00" y="254.30" font-size="10.3" fill="#111" text-anchor="start" font-weight="normal"  stroke="#111" stroke-width="0.185"><tspan font-style="italic">PAX5</tspan> scheme: exons</text>
<line x1="24.00" y1="258.50" x2="291.00" y2="258.50" stroke="#f6b4cc" stroke-width="0.9" />
<line x1="24.00" y1="270.00" x2="291.00" y2="270.00" stroke="#f6b4cc" stroke-width="0.9" />
<rect x="24.30" y="257.30" width="9.50" height="2.40" fill="#f07aa2" />
<rect x="24.30" y="268.80" width="9.50" height="2.40" fill="#f07aa2" />
<line x1="33.80" y1="256.30" x2="33.80" y2="260.70" stroke="#f08cb0" stroke-width="0.7" />
<line x1="33.80" y1="260.70" x2="33.80" y2="268.00" stroke="#fbd8e4" stroke-width="0.6" />
<line x1="33.80" y1="268.00" x2="33.80" y2="272.20" stroke="#f08cb0" stroke-width="0.7" />
<line x1="42.30" y1="256.30" x2="42.30" y2="260.70" stroke="#f08cb0" stroke-width="0.7" />
<line x1="42.30" y1="260.70" x2="42.30" y2="268.00" stroke="#fbd8e4" stroke-width="0.6" />
<line x1="42.30" y1="268.00" x2="42.30" y2="272.20" stroke="#f08cb0" stroke-width="0.7" />
<line x1="89.70" y1="256.30" x2="89.70" y2="260.70" stroke="#f08cb0" stroke-width="0.7" />
<line x1="89.70" y1="260.70" x2="89.70" y2="268.00" stroke="#fbd8e4" stroke-width="0.6" />
<line x1="89.70" y1="268.00" x2="89.70" y2="272.20" stroke="#f08cb0" stroke-width="0.7" />
<line x1="144.50" y1="256.30" x2="144.50" y2="260.70" stroke="#f08cb0" stroke-width="0.7" />
<line x1="144.50" y1="260.70" x2="144.50" y2="268.00" stroke="#fbd8e4" stroke-width="0.6" />
<line x1="144.50" y1="268.00" x2="144.50" y2="272.20" stroke="#f08cb0" stroke-width="0.7" />
<line x1="201.00" y1="256.30" x2="201.00" y2="260.70" stroke="#f08cb0" stroke-width="0.7" />
<line x1="201.00" y1="260.70" x2="201.00" y2="268.00" stroke="#fbd8e4" stroke-width="0.6" />
<line x1="201.00" y1="268.00" x2="201.00" y2="272.20" stroke="#f08cb0" stroke-width="0.7" />
<line x1="248.50" y1="256.30" x2="248.50" y2="260.70" stroke="#f08cb0" stroke-width="0.7" />
<line x1="248.50" y1="260.70" x2="248.50" y2="268.00" stroke="#fbd8e4" stroke-width="0.6" />
<line x1="248.50" y1="268.00" x2="248.50" y2="272.20" stroke="#f08cb0" stroke-width="0.7" />
<line x1="254.50" y1="256.30" x2="254.50" y2="260.70" stroke="#f08cb0" stroke-width="0.7" />
<line x1="254.50" y1="260.70" x2="254.50" y2="268.00" stroke="#fbd8e4" stroke-width="0.6" />
<line x1="254.50" y1="268.00" x2="254.50" y2="272.20" stroke="#f08cb0" stroke-width="0.7" />
<line x1="264.00" y1="256.30" x2="264.00" y2="260.70" stroke="#f08cb0" stroke-width="0.7" />
<line x1="264.00" y1="260.70" x2="264.00" y2="268.00" stroke="#fbd8e4" stroke-width="0.6" />
<line x1="264.00" y1="268.00" x2="264.00" y2="272.20" stroke="#f08cb0" stroke-width="0.7" />
<line x1="271.50" y1="256.30" x2="271.50" y2="260.70" stroke="#f08cb0" stroke-width="0.7" />
<line x1="271.50" y1="260.70" x2="271.50" y2="268.00" stroke="#fbd8e4" stroke-width="0.6" />
<line x1="271.50" y1="268.00" x2="271.50" y2="272.20" stroke="#f08cb0" stroke-width="0.7" />
<line x1="290.30" y1="256.30" x2="290.30" y2="260.70" stroke="#f08cb0" stroke-width="0.7" />
<line x1="290.30" y1="260.70" x2="290.30" y2="268.00" stroke="#fbd8e4" stroke-width="0.6" />
<line x1="290.30" y1="268.00" x2="290.30" y2="272.20" stroke="#f08cb0" stroke-width="0.7" />
<text x="151.50" y="266.00" font-size="3.2" fill="#f4a0bc" text-anchor="start" font-weight="normal" >PAX5-AS</text>
<line x1="65.40" y1="257.30" x2="65.40" y2="259.70" stroke="#f6b4cc" stroke-width="0.6" />
<line x1="104.70" y1="257.30" x2="104.70" y2="259.70" stroke="#f6b4cc" stroke-width="0.6" />
<line x1="122.00" y1="257.30" x2="122.00" y2="259.70" stroke="#f6b4cc" stroke-width="0.6" />
<line x1="172.00" y1="257.30" x2="172.00" y2="259.70" stroke="#f6b4cc" stroke-width="0.6" />
<line x1="226.00" y1="257.30" x2="226.00" y2="259.70" stroke="#f6b4cc" stroke-width="0.6" />
<text x="29.30" y="267.50" font-size="7.8" fill="#111" text-anchor="start" font-weight="normal"  stroke="#111" stroke-width="0.140">10</text>
<text x="39.90" y="267.50" font-size="7.8" fill="#111" text-anchor="start" font-weight="normal"  stroke="#111" stroke-width="0.140">9</text>
<text x="87.30" y="267.50" font-size="7.8" fill="#111" text-anchor="start" font-weight="normal"  stroke="#111" stroke-width="0.140">8</text>
<text x="141.50" y="267.50" font-size="7.8" fill="#111" text-anchor="start" font-weight="normal"  stroke="#111" stroke-width="0.140">7</text>
<text x="198.60" y="267.50" font-size="7.8" fill="#111" text-anchor="start" font-weight="normal"  stroke="#111" stroke-width="0.140">6</text>
<text x="246.60" y="267.50" font-size="7.8" fill="#111" text-anchor="start" font-weight="normal"  stroke="#111" stroke-width="0.140">5</text>
<text x="251.90" y="267.50" font-size="7.8" fill="#111" text-anchor="start" font-weight="normal"  stroke="#111" stroke-width="0.140">4</text>
<text x="262.10" y="267.50" font-size="7.8" fill="#111" text-anchor="start" font-weight="normal"  stroke="#111" stroke-width="0.140">3</text>
<text x="269.20" y="267.50" font-size="7.8" fill="#111" text-anchor="start" font-weight="normal"  stroke="#111" stroke-width="0.140">2</text>
<text x="288.20" y="267.50" font-size="7.8" fill="#111" text-anchor="start" font-weight="normal"  stroke="#111" stroke-width="0.140">1</text>
<text x="449.00" y="255.00" font-size="3.5" fill="#f090b0" text-anchor="start" font-weight="normal" >ZCCHC7</text>
<text x="449.00" y="266.50" font-size="3.5" fill="#f090b0" text-anchor="start" font-weight="normal" >ZCCHC7</text>
<text x="352.00" y="266.50" font-size="3.5" fill="#f090b0" text-anchor="start" font-weight="normal" >TBC1D</text>
<line x1="405.00" y1="258.30" x2="509.00" y2="258.30" stroke="#f4a8c0" stroke-width="0.8" />
<line x1="414.00" y1="256.80" x2="414.00" y2="259.80" stroke="#f090b0" stroke-width="0.7" />
<line x1="405.00" y1="269.80" x2="509.00" y2="269.80" stroke="#f4a8c0" stroke-width="0.8" />
<line x1="352.00" y1="269.80" x2="365.00" y2="269.80" stroke="#f4a8c0" stroke-width="0.8" />
<rect x="360.00" y="268.90" width="5.00" height="1.90" fill="#f080a8" />
<text x="13.00" y="277.00" font-size="3.7" fill="#222" text-anchor="start" font-weight="bold" >Mb</text>
<text x="33.00" y="277.00" font-size="3.7" fill="#222" text-anchor="start" font-weight="bold" >36840kb</text>
<text x="59.50" y="277.00" font-size="3.7" fill="#222" text-anchor="start" font-weight="bold" >36860kb</text>
<text x="86.00" y="277.00" font-size="3.7" fill="#222" text-anchor="start" font-weight="bold" >36880kb</text>
<text x="112.50" y="277.00" font-size="3.7" fill="#222" text-anchor="start" font-weight="bold" >36900kb</text>
<text x="139.00" y="277.00" font-size="3.7" fill="#222" text-anchor="start" font-weight="bold" >36920kb</text>
<text x="165.50" y="277.00" font-size="3.7" fill="#222" text-anchor="start" font-weight="bold" >36940kb</text>
<text x="192.00" y="277.00" font-size="3.7" fill="#222" text-anchor="start" font-weight="bold" >36960kb</text>
<text x="218.50" y="277.00" font-size="3.7" fill="#222" text-anchor="start" font-weight="bold" >36980kb</text>
<text x="245.00" y="277.00" font-size="3.7" fill="#222" text-anchor="start" font-weight="bold" >37000kb</text>
<text x="271.50" y="277.00" font-size="3.7" fill="#222" text-anchor="start" font-weight="bold" >37020kb</text>
<text x="298.00" y="277.00" font-size="3.7" fill="#222" text-anchor="start" font-weight="bold" >37040kb</text>
<text x="324.50" y="277.00" font-size="3.7" fill="#222" text-anchor="start" font-weight="bold" >37060kb</text>
<text x="351.00" y="277.00" font-size="3.7" fill="#222" text-anchor="start" font-weight="bold" >37080kb</text>
<text x="377.50" y="277.00" font-size="3.7" fill="#222" text-anchor="start" font-weight="bold" >37100kb</text>
<text x="404.00" y="277.00" font-size="3.7" fill="#222" text-anchor="start" font-weight="bold" >37120kb</text>
<text x="430.50" y="277.00" font-size="3.7" fill="#222" text-anchor="start" font-weight="bold" >37140kb</text>
<text x="457.00" y="277.00" font-size="3.7" fill="#222" text-anchor="start" font-weight="bold" >37160kb</text>
<text x="483.50" y="277.00" font-size="3.7" fill="#222" text-anchor="start" font-weight="bold" >37180kb</text>
<line x1="12.50" y1="278.30" x2="509.00" y2="278.30" stroke="#222" stroke-width="1.1" stroke-dasharray="1.1,0.9"/>
<defs><linearGradient id="gbar" x1="0" y1="280.5" x2="0" y2="287.5" gradientUnits="userSpaceOnUse"><stop offset="0" stop-color="#8a8a8a"/><stop offset="0.1" stop-color="#dadada"/><stop offset="0.3" stop-color="#d0d0d0"/><stop offset="0.5" stop-color="#b6b6b6"/><stop offset="0.78" stop-color="#a4a4a4"/><stop offset="0.9" stop-color="#7c7c7c"/><stop offset="1" stop-color="#9a9a9a"/></linearGradient></defs>
<rect x="12.50" y="280.50" width="497.00" height="7.00" fill="url(#gbar)" />
<rect x="12.50" y="287.20" width="497.00" height="1.20" fill="#a8a8f2" />
<rect x="11.60" y="285.00" width="3.80" height="3.60" fill="#1a3cff" />
<text x="255.50" y="286.20" font-size="4.3" fill="#555" text-anchor="start" font-weight="normal" >p13.2</text>
<text x="10.90" y="318.90" font-size="15.6" fill="#000" text-anchor="start" font-weight="bold" stroke="#000" stroke-width="0.35">B</text>
<rect x="96.50" y="316.50" width="409.50" height="69.25" fill="#f3f1ef" />
<rect x="126.95" y="347.75" width="0.70" height="9.75" fill="#d6d6d6" />
<rect x="148.15" y="347.75" width="0.70" height="9.75" fill="#d6d6d6" />
<rect x="150.05" y="347.75" width="0.70" height="9.75" fill="#d6d6d6" />
<rect x="167.35" y="347.75" width="0.70" height="9.75" fill="#d6d6d6" />
<rect x="183.05" y="347.75" width="0.70" height="9.75" fill="#d6d6d6" />
<rect x="201.25" y="347.75" width="0.70" height="9.75" fill="#d6d6d6" />
<rect x="209.05" y="347.75" width="0.70" height="9.75" fill="#d6d6d6" />
<rect x="212.75" y="347.75" width="0.70" height="9.75" fill="#d6d6d6" />
<rect x="223.25" y="347.75" width="0.70" height="9.75" fill="#d6d6d6" />
<rect x="226.85" y="347.75" width="0.70" height="9.75" fill="#d6d6d6" />
<rect x="230.45" y="347.75" width="0.70" height="9.75" fill="#d6d6d6" />
<rect x="247.45" y="347.75" width="0.70" height="9.75" fill="#d6d6d6" />
<rect x="258.15" y="347.75" width="0.70" height="9.75" fill="#d6d6d6" />
<rect x="283.45" y="347.75" width="0.70" height="9.75" fill="#d6d6d6" />
<rect x="290.45" y="347.75" width="0.70" height="9.75" fill="#d6d6d6" />
<rect x="293.55" y="347.75" width="0.70" height="9.75" fill="#d6d6d6" />
<rect x="299.55" y="347.75" width="0.70" height="9.75" fill="#d6d6d6" />
<rect x="303.65" y="347.75" width="0.70" height="9.75" fill="#d6d6d6" />
<rect x="306.25" y="347.75" width="0.70" height="9.75" fill="#d6d6d6" />
<rect x="312.75" y="347.75" width="0.70" height="9.75" fill="#d6d6d6" />
<rect x="315.75" y="347.75" width="0.70" height="9.75" fill="#d6d6d6" />
<rect x="319.75" y="347.75" width="0.70" height="9.75" fill="#d6d6d6" />
<rect x="322.85" y="347.75" width="0.70" height="9.75" fill="#d6d6d6" />
<rect x="329.25" y="347.75" width="0.70" height="9.75" fill="#d6d6d6" />
<rect x="334.95" y="347.75" width="0.70" height="9.75" fill="#d6d6d6" />
<rect x="337.95" y="347.75" width="0.70" height="9.75" fill="#d6d6d6" />
<rect x="342.05" y="347.75" width="0.70" height="9.75" fill="#d6d6d6" />
<rect x="344.05" y="347.75" width="0.70" height="9.75" fill="#d6d6d6" />
<rect x="346.05" y="347.75" width="0.70" height="9.75" fill="#d6d6d6" />
<rect x="354.15" y="347.75" width="0.70" height="9.75" fill="#d6d6d6" />
<rect x="357.55" y="347.75" width="0.70" height="9.75" fill="#d6d6d6" />
<rect x="363.25" y="347.75" width="0.70" height="9.75" fill="#d6d6d6" />
<rect x="364.85" y="347.75" width="0.70" height="9.75" fill="#d6d6d6" />
<rect x="366.85" y="347.75" width="0.70" height="9.75" fill="#d6d6d6" />
<rect x="370.25" y="347.75" width="0.70" height="9.75" fill="#d6d6d6" />
<rect x="404.65" y="347.75" width="0.70" height="9.75" fill="#d6d6d6" />
<rect x="406.65" y="347.75" width="0.70" height="9.75" fill="#d6d6d6" />
<rect x="408.65" y="347.75" width="0.70" height="9.75" fill="#d6d6d6" />
<rect x="414.75" y="347.75" width="0.70" height="9.75" fill="#d6d6d6" />
<rect x="419.75" y="347.75" width="0.70" height="9.75" fill="#d6d6d6" />
<rect x="423.85" y="347.75" width="0.70" height="9.75" fill="#d6d6d6" />
<rect x="426.85" y="347.75" width="0.70" height="9.75" fill="#d6d6d6" />
<rect x="429.85" y="347.75" width="0.70" height="9.75" fill="#d6d6d6" />
<rect x="432.95" y="347.75" width="0.70" height="9.75" fill="#d6d6d6" />
<rect x="439.95" y="347.75" width="0.70" height="9.75" fill="#d6d6d6" />
<rect x="443.05" y="347.75" width="0.70" height="9.75" fill="#d6d6d6" />
<rect x="463.25" y="347.75" width="0.70" height="9.75" fill="#d6d6d6" />
<rect x="467.25" y="347.75" width="0.70" height="9.75" fill="#d6d6d6" />
<rect x="470.25" y="347.75" width="0.70" height="9.75" fill="#d6d6d6" />
<rect x="473.35" y="347.75" width="0.70" height="9.75" fill="#d6d6d6" />
<rect x="477.35" y="347.75" width="0.70" height="9.75" fill="#d6d6d6" />
<rect x="480.35" y="347.75" width="0.70" height="9.75" fill="#d6d6d6" />
<rect x="497.55" y="347.75" width="0.70" height="9.75" fill="#d6d6d6" />
<rect x="503.55" y="347.75" width="0.70" height="9.75" fill="#d6d6d6" />
<rect x="96.50" y="319.00" width="409.50" height="0.90" fill="#fdfcfb" />
<rect x="96.50" y="329.35" width="409.50" height="0.90" fill="#fdfcfb" />
<rect x="96.50" y="337.75" width="409.50" height="0.90" fill="#fdfcfb" />
<rect x="96.50" y="347.85" width="409.50" height="0.90" fill="#fdfcfb" />
<rect x="96.50" y="356.50" width="409.50" height="0.90" fill="#fdfcfb" />
<rect x="96.50" y="366.60" width="409.50" height="0.90" fill="#fdfcfb" />
<rect x="96.50" y="375.50" width="409.50" height="0.90" fill="#fdfcfb" />
<rect x="96.50" y="385.85" width="409.50" height="0.90" fill="#fdfcfb" />
<rect x="96.50" y="320.00" width="154.00" height="9.25" fill="#6a5ef2" />
<rect x="290.00" y="320.00" width="9.00" height="9.25" fill="#6a5ef2" />
<rect x="325.00" y="320.00" width="181.00" height="9.25" fill="#6a5ef2" />
<text x="173.50" y="327.73" font-size="8.6" fill="#fff" text-anchor="middle" font-weight="normal" font-style="italic" >PAX5</text>
<text x="414.50" y="327.73" font-size="8.6" fill="#fff" text-anchor="middle" font-weight="normal" font-style="italic" >ZCCHC7</text>
<rect x="96.50" y="338.75" width="409.50" height="9.00" fill="#66c6ee" />
<rect x="104.05" y="338.75" width="1.30" height="9.00" fill="#2f72aa" />
<rect x="126.65" y="338.75" width="1.30" height="9.00" fill="#2f72aa" />
<rect x="147.70" y="338.75" width="1.60" height="9.00" fill="#2f72aa" />
<rect x="149.60" y="338.75" width="1.60" height="9.00" fill="#2f72aa" />
<rect x="154.70" y="338.75" width="1.60" height="9.00" fill="#2f72aa" />
<rect x="167.25" y="338.75" width="0.90" height="9.00" fill="#2f72aa" />
<rect x="182.90" y="338.75" width="1.00" height="9.00" fill="#2f72aa" />
<rect x="194.25" y="338.75" width="0.90" height="9.00" fill="#2f72aa" />
<rect x="195.15" y="338.75" width="1.30" height="9.00" fill="#3f7fe0" />
<rect x="196.20" y="338.75" width="1.60" height="9.00" fill="#2f72aa" />
<rect x="200.80" y="338.75" width="1.60" height="9.00" fill="#2f72aa" />
<rect x="208.60" y="338.75" width="1.60" height="9.00" fill="#2f72aa" />
<rect x="212.65" y="338.75" width="0.90" height="9.00" fill="#2f72aa" />
<rect x="221.70" y="338.75" width="1.00" height="9.00" fill="#2f72aa" />
<rect x="222.95" y="338.75" width="1.30" height="9.00" fill="#2f72aa" />
<rect x="224.40" y="338.75" width="1.60" height="9.00" fill="#2f72aa" />
<rect x="226.40" y="338.75" width="1.60" height="9.00" fill="#2f72aa" />
<rect x="230.25" y="338.75" width="1.10" height="9.00" fill="#2f72aa" />
<rect x="247.35" y="338.75" width="0.90" height="9.00" fill="#2f72aa" />
<rect x="257.95" y="338.75" width="1.10" height="9.00" fill="#2f72aa" />
<rect x="268.80" y="338.75" width="1.60" height="9.00" fill="#3f7fe0" />
<rect x="271.55" y="338.75" width="0.90" height="9.00" fill="#2f72aa" />
<rect x="282.15" y="338.75" width="1.10" height="9.00" fill="#2f72aa" />
<rect x="283.00" y="338.75" width="1.60" height="9.00" fill="#2f72aa" />
<rect x="287.35" y="338.75" width="0.90" height="9.00" fill="#2f72aa" />
<rect x="290.35" y="338.75" width="0.90" height="9.00" fill="#2f72aa" />
<rect x="293.35" y="338.75" width="1.10" height="9.00" fill="#2f72aa" />
<rect x="296.45" y="338.75" width="0.90" height="9.00" fill="#2f72aa" />
<rect x="299.45" y="338.75" width="0.90" height="9.00" fill="#2f72aa" />
<rect x="303.55" y="338.75" width="0.90" height="9.00" fill="#2f72aa" />
<rect x="305.95" y="338.75" width="1.30" height="9.00" fill="#2f72aa" />
<rect x="308.20" y="338.75" width="1.60" height="9.00" fill="#2f72aa" />
<rect x="312.55" y="338.75" width="1.10" height="9.00" fill="#2f72aa" />
<rect x="315.55" y="338.75" width="1.10" height="9.00" fill="#2f72aa" />
<rect x="316.85" y="338.75" width="1.30" height="9.00" fill="#2f72aa" />
<rect x="319.65" y="338.75" width="0.90" height="9.00" fill="#2f72aa" />
<rect x="322.75" y="338.75" width="0.90" height="9.00" fill="#2f72aa" />
<rect x="324.55" y="338.75" width="1.30" height="9.00" fill="#2f72aa" />
<rect x="327.10" y="338.75" width="1.00" height="9.00" fill="#2f72aa" />
<rect x="329.10" y="338.75" width="1.00" height="9.00" fill="#2f72aa" />
<rect x="331.80" y="338.75" width="1.00" height="9.00" fill="#3f7fe0" />
<rect x="334.80" y="338.75" width="1.00" height="9.00" fill="#2f72aa" />
<rect x="337.65" y="338.75" width="1.30" height="9.00" fill="#2f72aa" />
<rect x="339.65" y="338.75" width="1.30" height="9.00" fill="#3f7fe0" />
<rect x="341.95" y="338.75" width="0.90" height="9.00" fill="#2f72aa" />
<rect x="343.60" y="338.75" width="1.60" height="9.00" fill="#2f72aa" />
<rect x="345.95" y="338.75" width="0.90" height="9.00" fill="#2f72aa" />
<rect x="348.35" y="338.75" width="1.30" height="9.00" fill="#3f7fe0" />
<rect x="351.00" y="338.75" width="1.60" height="9.00" fill="#2f72aa" />
<rect x="354.05" y="338.75" width="0.90" height="9.00" fill="#2f72aa" />
<rect x="357.40" y="338.75" width="1.00" height="9.00" fill="#2f72aa" />
<rect x="363.05" y="338.75" width="1.10" height="9.00" fill="#2f72aa" />
<rect x="364.40" y="338.75" width="1.60" height="9.00" fill="#2f72aa" />
<rect x="366.65" y="338.75" width="1.10" height="9.00" fill="#2f72aa" />
<rect x="370.15" y="338.75" width="0.90" height="9.00" fill="#2f72aa" />
<rect x="374.90" y="338.75" width="1.60" height="9.00" fill="#2f72aa" />
<rect x="378.85" y="338.75" width="0.90" height="9.00" fill="#2f72aa" />
<rect x="382.85" y="338.75" width="1.10" height="9.00" fill="#2f72aa" />
<rect x="386.30" y="338.75" width="1.00" height="9.00" fill="#3f7fe0" />
<rect x="389.15" y="338.75" width="1.30" height="9.00" fill="#2f72aa" />
<rect x="393.40" y="338.75" width="1.00" height="9.00" fill="#2f72aa" />
<rect x="397.40" y="338.75" width="1.00" height="9.00" fill="#2f72aa" />
<rect x="401.35" y="338.75" width="1.10" height="9.00" fill="#3f7fe0" />
<rect x="404.20" y="338.75" width="1.60" height="9.00" fill="#2f72aa" />
<rect x="406.50" y="338.75" width="1.00" height="9.00" fill="#2f72aa" />
<rect x="408.20" y="338.75" width="1.60" height="9.00" fill="#2f72aa" />
<rect x="412.45" y="338.75" width="1.30" height="9.00" fill="#3f7fe0" />
<rect x="414.30" y="338.75" width="1.60" height="9.00" fill="#2f72aa" />
<rect x="419.65" y="338.75" width="0.90" height="9.00" fill="#2f72aa" />
<rect x="423.75" y="338.75" width="0.90" height="9.00" fill="#2f72aa" />
<rect x="426.65" y="338.75" width="1.10" height="9.00" fill="#2f72aa" />
<rect x="429.55" y="338.75" width="1.30" height="9.00" fill="#2f72aa" />
<rect x="432.50" y="338.75" width="1.60" height="9.00" fill="#2f72aa" />
<rect x="439.50" y="338.75" width="1.60" height="9.00" fill="#2f72aa" />
<rect x="442.95" y="338.75" width="0.90" height="9.00" fill="#2f72aa" />
<rect x="448.75" y="338.75" width="1.30" height="9.00" fill="#2f72aa" />
<rect x="460.70" y="338.75" width="1.60" height="9.00" fill="#2f72aa" />
<rect x="463.05" y="338.75" width="1.10" height="9.00" fill="#2f72aa" />
<rect x="465.10" y="338.75" width="1.00" height="9.00" fill="#2f72aa" />
<rect x="467.15" y="338.75" width="0.90" height="9.00" fill="#2f72aa" />
<rect x="469.95" y="338.75" width="1.30" height="9.00" fill="#2f72aa" />
<rect x="473.25" y="338.75" width="0.90" height="9.00" fill="#2f72aa" />
<rect x="477.15" y="338.75" width="1.10" height="9.00" fill="#2f72aa" />
<rect x="480.20" y="338.75" width="1.00" height="9.00" fill="#2f72aa" />
<rect x="482.20" y="338.75" width="1.00" height="9.00" fill="#3f7fe0" />
<rect x="485.25" y="338.75" width="1.10" height="9.00" fill="#2f72aa" />
<rect x="487.00" y="338.75" width="1.60" height="9.00" fill="#2f72aa" />
<rect x="493.40" y="338.75" width="1.00" height="9.00" fill="#2f72aa" />
<rect x="497.45" y="338.75" width="0.90" height="9.00" fill="#2f72aa" />
<rect x="501.35" y="338.75" width="1.10" height="9.00" fill="#2f72aa" />
<rect x="503.45" y="338.75" width="0.90" height="9.00" fill="#2f72aa" />
<line x1="99.28" y1="356.20" x2="99.28" y2="357.50" stroke="#333" stroke-width="0.7" />
<line x1="107.96" y1="356.20" x2="107.96" y2="357.50" stroke="#333" stroke-width="0.7" />
<line x1="116.64" y1="356.20" x2="116.64" y2="357.50" stroke="#333" stroke-width="0.7" />
<line x1="125.32" y1="356.20" x2="125.32" y2="357.50" stroke="#333" stroke-width="0.7" />
<line x1="134.00" y1="354.00" x2="134.00" y2="357.50" stroke="#333" stroke-width="0.7" />
<text x="134.20" y="353.90" font-size="3.5" fill="#222" font-weight="bold" transform="rotate(-40 134.20 353.90)">37.0M</text>
<line x1="142.68" y1="356.20" x2="142.68" y2="357.50" stroke="#333" stroke-width="0.7" />
<line x1="151.36" y1="356.20" x2="151.36" y2="357.50" stroke="#333" stroke-width="0.7" />
<line x1="160.04" y1="356.20" x2="160.04" y2="357.50" stroke="#333" stroke-width="0.7" />
<line x1="168.72" y1="356.20" x2="168.72" y2="357.50" stroke="#333" stroke-width="0.7" />
<line x1="177.40" y1="354.00" x2="177.40" y2="357.50" stroke="#333" stroke-width="0.7" />
<text x="177.60" y="353.90" font-size="3.5" fill="#222" font-weight="bold" transform="rotate(-40 177.60 353.90)">37.0M</text>
<line x1="186.08" y1="356.20" x2="186.08" y2="357.50" stroke="#333" stroke-width="0.7" />
<line x1="194.76" y1="356.20" x2="194.76" y2="357.50" stroke="#333" stroke-width="0.7" />
<line x1="203.44" y1="356.20" x2="203.44" y2="357.50" stroke="#333" stroke-width="0.7" />
<line x1="212.12" y1="356.20" x2="212.12" y2="357.50" stroke="#333" stroke-width="0.7" />
<line x1="220.80" y1="354.00" x2="220.80" y2="357.50" stroke="#333" stroke-width="0.7" />
<text x="221.00" y="353.90" font-size="3.5" fill="#222" font-weight="bold" transform="rotate(-40 221.00 353.90)">37.0M</text>
<line x1="229.48" y1="356.20" x2="229.48" y2="357.50" stroke="#333" stroke-width="0.7" />
<line x1="238.16" y1="356.20" x2="238.16" y2="357.50" stroke="#333" stroke-width="0.7" />
<line x1="246.84" y1="356.20" x2="246.84" y2="357.50" stroke="#333" stroke-width="0.7" />
<line x1="255.52" y1="356.20" x2="255.52" y2="357.50" stroke="#333" stroke-width="0.7" />
<line x1="264.20" y1="354.00" x2="264.20" y2="357.50" stroke="#333" stroke-width="0.7" />
<text x="264.40" y="353.90" font-size="3.5" fill="#222" font-weight="bold" transform="rotate(-40 264.40 353.90)">37.0M</text>
<line x1="272.88" y1="356.20" x2="272.88" y2="357.50" stroke="#333" stroke-width="0.7" />
<line x1="281.56" y1="356.20" x2="281.56" y2="357.50" stroke="#333" stroke-width="0.7" />
<line x1="290.24" y1="356.20" x2="290.24" y2="357.50" stroke="#333" stroke-width="0.7" />
<line x1="298.92" y1="356.20" x2="298.92" y2="357.50" stroke="#333" stroke-width="0.7" />
<line x1="307.60" y1="354.00" x2="307.60" y2="357.50" stroke="#333" stroke-width="0.7" />
<text x="307.80" y="353.90" font-size="3.5" fill="#222" font-weight="bold" transform="rotate(-40 307.80 353.90)">37.0M</text>
<line x1="316.28" y1="356.20" x2="316.28" y2="357.50" stroke="#333" stroke-width="0.7" />
<line x1="324.96" y1="356.20" x2="324.96" y2="357.50" stroke="#333" stroke-width="0.7" />
<line x1="333.64" y1="356.20" x2="333.64" y2="357.50" stroke="#333" stroke-width="0.7" />
<line x1="342.32" y1="356.20" x2="342.32" y2="357.50" stroke="#333" stroke-width="0.7" />
<line x1="351.00" y1="354.00" x2="351.00" y2="357.50" stroke="#333" stroke-width="0.7" />
<text x="351.20" y="353.90" font-size="3.5" fill="#222" font-weight="bold" transform="rotate(-40 351.20 353.90)">37.0M</text>
<line x1="359.68" y1="356.20" x2="359.68" y2="357.50" stroke="#333" stroke-width="0.7" />
<line x1="368.36" y1="356.20" x2="368.36" y2="357.50" stroke="#333" stroke-width="0.7" />
<line x1="377.04" y1="356.20" x2="377.04" y2="357.50" stroke="#333" stroke-width="0.7" />
<line x1="385.72" y1="356.20" x2="385.72" y2="357.50" stroke="#333" stroke-width="0.7" />
<line x1="394.40" y1="354.00" x2="394.40" y2="357.50" stroke="#333" stroke-width="0.7" />
<text x="394.60" y="353.90" font-size="3.5" fill="#222" font-weight="bold" transform="rotate(-40 394.60 353.90)">37.0M</text>
<line x1="403.08" y1="356.20" x2="403.08" y2="357.50" stroke="#333" stroke-width="0.7" />
<line x1="411.76" y1="356.20" x2="411.76" y2="357.50" stroke="#333" stroke-width="0.7" />
<line x1="420.44" y1="356.20" x2="420.44" y2="357.50" stroke="#333" stroke-width="0.7" />
<line x1="429.12" y1="356.20" x2="429.12" y2="357.50" stroke="#333" stroke-width="0.7" />
<line x1="437.80" y1="354.00" x2="437.80" y2="357.50" stroke="#333" stroke-width="0.7" />
<text x="438.00" y="353.90" font-size="3.5" fill="#222" font-weight="bold" transform="rotate(-40 438.00 353.90)">37.0M</text>
<line x1="446.48" y1="356.20" x2="446.48" y2="357.50" stroke="#333" stroke-width="0.7" />
<line x1="455.16" y1="356.20" x2="455.16" y2="357.50" stroke="#333" stroke-width="0.7" />
<line x1="463.84" y1="356.20" x2="463.84" y2="357.50" stroke="#333" stroke-width="0.7" />
<line x1="472.52" y1="356.20" x2="472.52" y2="357.50" stroke="#333" stroke-width="0.7" />
<line x1="481.20" y1="354.00" x2="481.20" y2="357.50" stroke="#333" stroke-width="0.7" />
<text x="481.40" y="353.90" font-size="3.5" fill="#222" font-weight="bold" transform="rotate(-40 481.40 353.90)">37.0M</text>
<line x1="489.88" y1="356.20" x2="489.88" y2="357.50" stroke="#333" stroke-width="0.7" />
<line x1="498.56" y1="356.20" x2="498.56" y2="357.50" stroke="#333" stroke-width="0.7" />
<rect x="96.50" y="357.50" width="409.50" height="9.00" fill="#8dc63f" />
<rect x="104.05" y="357.50" width="1.30" height="9.00" fill="#467a50" />
<rect x="126.65" y="357.50" width="1.30" height="9.00" fill="#3a8264" />
<rect x="147.70" y="357.50" width="1.60" height="9.00" fill="#3a8264" />
<rect x="149.60" y="357.50" width="1.60" height="9.00" fill="#3a8264" />
<rect x="154.70" y="357.50" width="1.60" height="9.00" fill="#467a50" />
<rect x="167.25" y="357.50" width="0.90" height="9.00" fill="#3a8264" />
<rect x="182.90" y="357.50" width="1.00" height="9.00" fill="#3a8264" />
<rect x="194.25" y="357.50" width="0.90" height="9.00" fill="#3a8264" />
<rect x="195.15" y="357.50" width="1.30" height="9.00" fill="#467a50" />
<rect x="196.20" y="357.50" width="1.60" height="9.00" fill="#3a8264" />
<rect x="200.80" y="357.50" width="1.60" height="9.00" fill="#3a8264" />
<rect x="208.60" y="357.50" width="1.60" height="9.00" fill="#3a8264" />
<rect x="212.65" y="357.50" width="0.90" height="9.00" fill="#3a8264" />
<rect x="221.70" y="357.50" width="1.00" height="9.00" fill="#3a8264" />
<rect x="222.95" y="357.50" width="1.30" height="9.00" fill="#3a8264" />
<rect x="224.40" y="357.50" width="1.60" height="9.00" fill="#467a50" />
<rect x="226.40" y="357.50" width="1.60" height="9.00" fill="#3a8264" />
<rect x="230.25" y="357.50" width="1.10" height="9.00" fill="#3a8264" />
<rect x="247.35" y="357.50" width="0.90" height="9.00" fill="#3a8264" />
<rect x="257.95" y="357.50" width="1.10" height="9.00" fill="#3a8264" />
<rect x="268.80" y="357.50" width="1.60" height="9.00" fill="#467a50" />
<rect x="271.55" y="357.50" width="0.90" height="9.00" fill="#467a50" />
<rect x="282.15" y="357.50" width="1.10" height="9.00" fill="#467a50" />
<rect x="283.00" y="357.50" width="1.60" height="9.00" fill="#3a8264" />
<rect x="287.35" y="357.50" width="0.90" height="9.00" fill="#3a8264" />
<rect x="290.35" y="357.50" width="0.90" height="9.00" fill="#3a8264" />
<rect x="293.35" y="357.50" width="1.10" height="9.00" fill="#3a8264" />
<rect x="296.45" y="357.50" width="0.90" height="9.00" fill="#467a50" />
<rect x="299.45" y="357.50" width="0.90" height="9.00" fill="#3a8264" />
<rect x="303.55" y="357.50" width="0.90" height="9.00" fill="#3a8264" />
<rect x="305.95" y="357.50" width="1.30" height="9.00" fill="#3a8264" />
<rect x="308.20" y="357.50" width="1.60" height="9.00" fill="#3a8264" />
<rect x="312.55" y="357.50" width="1.10" height="9.00" fill="#3a8264" />
<rect x="315.55" y="357.50" width="1.10" height="9.00" fill="#3a8264" />
<rect x="316.85" y="357.50" width="1.30" height="9.00" fill="#467a50" />
<rect x="319.65" y="357.50" width="0.90" height="9.00" fill="#3a8264" />
<rect x="322.75" y="357.50" width="0.90" height="9.00" fill="#3a8264" />
<rect x="324.55" y="357.50" width="1.30" height="9.00" fill="#467a50" />
<rect x="327.10" y="357.50" width="1.00" height="9.00" fill="#3a8264" />
<rect x="329.10" y="357.50" width="1.00" height="9.00" fill="#3a8264" />
<rect x="331.80" y="357.50" width="1.00" height="9.00" fill="#467a50" />
<rect x="334.80" y="357.50" width="1.00" height="9.00" fill="#3a8264" />
<rect x="337.65" y="357.50" width="1.30" height="9.00" fill="#3a8264" />
<rect x="339.65" y="357.50" width="1.30" height="9.00" fill="#467a50" />
<rect x="341.95" y="357.50" width="0.90" height="9.00" fill="#3a8264" />
<rect x="343.60" y="357.50" width="1.60" height="9.00" fill="#3a8264" />
<rect x="345.95" y="357.50" width="0.90" height="9.00" fill="#3a8264" />
<rect x="348.35" y="357.50" width="1.30" height="9.00" fill="#467a50" />
<rect x="351.00" y="357.50" width="1.60" height="9.00" fill="#3a8264" />
<rect x="354.05" y="357.50" width="0.90" height="9.00" fill="#3a8264" />
<rect x="357.40" y="357.50" width="1.00" height="9.00" fill="#3a8264" />
<rect x="363.05" y="357.50" width="1.10" height="9.00" fill="#3a8264" />
<rect x="364.40" y="357.50" width="1.60" height="9.00" fill="#3a8264" />
<rect x="366.65" y="357.50" width="1.10" height="9.00" fill="#3a8264" />
<rect x="370.15" y="357.50" width="0.90" height="9.00" fill="#3a8264" />
<rect x="374.90" y="357.50" width="1.60" height="9.00" fill="#3a8264" />
<rect x="378.85" y="357.50" width="0.90" height="9.00" fill="#3a8264" />
<rect x="382.85" y="357.50" width="1.10" height="9.00" fill="#3a8264" />
<rect x="386.30" y="357.50" width="1.00" height="9.00" fill="#467a50" />
<rect x="389.15" y="357.50" width="1.30" height="9.00" fill="#467a50" />
<rect x="393.40" y="357.50" width="1.00" height="9.00" fill="#467a50" />
<rect x="397.40" y="357.50" width="1.00" height="9.00" fill="#3a8264" />
<rect x="401.35" y="357.50" width="1.10" height="9.00" fill="#467a50" />
<rect x="404.20" y="357.50" width="1.60" height="9.00" fill="#3a8264" />
<rect x="406.50" y="357.50" width="1.00" height="9.00" fill="#3a8264" />
<rect x="408.20" y="357.50" width="1.60" height="9.00" fill="#3a8264" />
<rect x="412.45" y="357.50" width="1.30" height="9.00" fill="#467a50" />
<rect x="414.30" y="357.50" width="1.60" height="9.00" fill="#3a8264" />
<rect x="419.65" y="357.50" width="0.90" height="9.00" fill="#3a8264" />
<rect x="423.75" y="357.50" width="0.90" height="9.00" fill="#3a8264" />
<rect x="426.65" y="357.50" width="1.10" height="9.00" fill="#3a8264" />
<rect x="429.55" y="357.50" width="1.30" height="9.00" fill="#3a8264" />
<rect x="432.50" y="357.50" width="1.60" height="9.00" fill="#3a8264" />
<rect x="439.50" y="357.50" width="1.60" height="9.00" fill="#3a8264" />
<rect x="442.95" y="357.50" width="0.90" height="9.00" fill="#3a8264" />
<rect x="448.75" y="357.50" width="1.30" height="9.00" fill="#3a8264" />
<rect x="460.70" y="357.50" width="1.60" height="9.00" fill="#3a8264" />
<rect x="463.05" y="357.50" width="1.10" height="9.00" fill="#3a8264" />
<rect x="465.10" y="357.50" width="1.00" height="9.00" fill="#467a50" />
<rect x="467.15" y="357.50" width="0.90" height="9.00" fill="#3a8264" />
<rect x="469.95" y="357.50" width="1.30" height="9.00" fill="#3a8264" />
<rect x="473.25" y="357.50" width="0.90" height="9.00" fill="#3a8264" />
<rect x="477.15" y="357.50" width="1.10" height="9.00" fill="#3a8264" />
<rect x="480.20" y="357.50" width="1.00" height="9.00" fill="#3a8264" />
<rect x="482.20" y="357.50" width="1.00" height="9.00" fill="#467a50" />
<rect x="485.25" y="357.50" width="1.10" height="9.00" fill="#3a8264" />
<rect x="487.00" y="357.50" width="1.60" height="9.00" fill="#3a8264" />
<rect x="493.40" y="357.50" width="1.00" height="9.00" fill="#3a8264" />
<rect x="497.45" y="357.50" width="0.90" height="9.00" fill="#3a8264" />
<rect x="501.35" y="357.50" width="1.10" height="9.00" fill="#467a50" />
<rect x="503.45" y="357.50" width="0.90" height="9.00" fill="#3a8264" />
<defs><linearGradient id="wgB" x1="222.00" y1="0" x2="340.00" y2="0" gradientUnits="userSpaceOnUse"><stop offset="0" stop-color="#eeeeee"/><stop offset="1" stop-color="#c6c6c6"/></linearGradient></defs>
<path d="M222.00,367.30 L506.00,367.30 L506.00,375.70 L300.00,375.70 Z" fill="url(#wgB)"/>
<clipPath id="cpB"><rect x="96.5" y="366.5" width="409.5" height="10.0"/></clipPath>
<g clip-path="url(#cpB)">
<rect x="126.95" y="366.50" width="0.70" height="10.00" fill="#d6d6d6" />
<rect x="148.15" y="366.50" width="0.70" height="10.00" fill="#d6d6d6" />
<rect x="150.05" y="366.50" width="0.70" height="10.00" fill="#d6d6d6" />
<rect x="167.35" y="366.50" width="0.70" height="10.00" fill="#d6d6d6" />
<rect x="183.05" y="366.50" width="0.70" height="10.00" fill="#d6d6d6" />
<rect x="201.25" y="366.50" width="0.70" height="10.00" fill="#d6d6d6" />
<rect x="209.05" y="366.50" width="0.70" height="10.00" fill="#d6d6d6" />
<rect x="212.75" y="366.50" width="0.70" height="10.00" fill="#d6d6d6" />
<line x1="222.20" y1="366.50" x2="296.60" y2="376.50" stroke="#bdbdbd" stroke-width="0.6" />
<line x1="223.60" y1="366.50" x2="298.00" y2="376.50" stroke="#bdbdbd" stroke-width="0.6" />
<line x1="225.20" y1="366.50" x2="299.60" y2="376.50" stroke="#bdbdbd" stroke-width="0.6" />
<line x1="227.20" y1="366.50" x2="301.60" y2="376.50" stroke="#bdbdbd" stroke-width="0.6" />
<line x1="230.80" y1="366.50" x2="305.20" y2="376.50" stroke="#bdbdbd" stroke-width="0.6" />
<line x1="247.80" y1="366.50" x2="322.20" y2="376.50" stroke="#bdbdbd" stroke-width="0.6" />
<line x1="258.50" y1="366.50" x2="332.90" y2="376.50" stroke="#bdbdbd" stroke-width="0.6" />
<line x1="269.60" y1="366.50" x2="344.00" y2="376.50" stroke="#bdbdbd" stroke-width="0.6" />
<line x1="272.00" y1="366.50" x2="346.40" y2="376.50" stroke="#bdbdbd" stroke-width="0.6" />
<line x1="282.70" y1="366.50" x2="357.10" y2="376.50" stroke="#bdbdbd" stroke-width="0.6" />
<line x1="283.80" y1="366.50" x2="358.20" y2="376.50" stroke="#bdbdbd" stroke-width="0.6" />
<line x1="287.80" y1="366.50" x2="362.20" y2="376.50" stroke="#bdbdbd" stroke-width="0.6" />
<line x1="290.80" y1="366.50" x2="365.20" y2="376.50" stroke="#bdbdbd" stroke-width="0.6" />
<line x1="293.90" y1="366.50" x2="368.30" y2="376.50" stroke="#bdbdbd" stroke-width="0.6" />
<line x1="296.90" y1="366.50" x2="371.30" y2="376.50" stroke="#bdbdbd" stroke-width="0.6" />
<line x1="299.90" y1="366.50" x2="374.30" y2="376.50" stroke="#bdbdbd" stroke-width="0.6" />
<line x1="304.00" y1="366.50" x2="378.40" y2="376.50" stroke="#bdbdbd" stroke-width="0.6" />
<line x1="306.60" y1="366.50" x2="381.00" y2="376.50" stroke="#bdbdbd" stroke-width="0.6" />
<line x1="309.00" y1="366.50" x2="383.40" y2="376.50" stroke="#bdbdbd" stroke-width="0.6" />
<line x1="313.10" y1="366.50" x2="387.50" y2="376.50" stroke="#bdbdbd" stroke-width="0.6" />
<line x1="316.10" y1="366.50" x2="390.50" y2="376.50" stroke="#bdbdbd" stroke-width="0.6" />
<line x1="317.50" y1="366.50" x2="391.90" y2="376.50" stroke="#bdbdbd" stroke-width="0.6" />
<line x1="320.10" y1="366.50" x2="394.50" y2="376.50" stroke="#bdbdbd" stroke-width="0.6" />
<line x1="323.20" y1="366.50" x2="397.60" y2="376.50" stroke="#bdbdbd" stroke-width="0.6" />
<line x1="325.20" y1="366.50" x2="399.60" y2="376.50" stroke="#bdbdbd" stroke-width="0.6" />
<line x1="327.60" y1="366.50" x2="402.00" y2="376.50" stroke="#bdbdbd" stroke-width="0.6" />
<line x1="329.60" y1="366.50" x2="404.00" y2="376.50" stroke="#bdbdbd" stroke-width="0.6" />
<line x1="332.30" y1="366.50" x2="406.70" y2="376.50" stroke="#bdbdbd" stroke-width="0.6" />
<line x1="335.30" y1="366.50" x2="409.70" y2="376.50" stroke="#bdbdbd" stroke-width="0.6" />
<line x1="338.30" y1="366.50" x2="412.70" y2="376.50" stroke="#bdbdbd" stroke-width="0.6" />
<line x1="340.30" y1="366.50" x2="414.70" y2="376.50" stroke="#bdbdbd" stroke-width="0.6" />
<line x1="342.40" y1="366.50" x2="416.80" y2="376.50" stroke="#bdbdbd" stroke-width="0.6" />
<line x1="344.40" y1="366.50" x2="418.80" y2="376.50" stroke="#bdbdbd" stroke-width="0.6" />
<line x1="346.40" y1="366.50" x2="420.80" y2="376.50" stroke="#bdbdbd" stroke-width="0.6" />
<line x1="349.00" y1="366.50" x2="423.40" y2="376.50" stroke="#bdbdbd" stroke-width="0.6" />
<line x1="351.80" y1="366.50" x2="426.20" y2="376.50" stroke="#bdbdbd" stroke-width="0.6" />
<line x1="354.50" y1="366.50" x2="428.90" y2="376.50" stroke="#bdbdbd" stroke-width="0.6" />
<line x1="357.90" y1="366.50" x2="432.30" y2="376.50" stroke="#bdbdbd" stroke-width="0.6" />
<line x1="363.60" y1="366.50" x2="438.00" y2="376.50" stroke="#bdbdbd" stroke-width="0.6" />
<line x1="365.20" y1="366.50" x2="439.60" y2="376.50" stroke="#bdbdbd" stroke-width="0.6" />
<line x1="367.20" y1="366.50" x2="441.60" y2="376.50" stroke="#bdbdbd" stroke-width="0.6" />
<line x1="370.60" y1="366.50" x2="445.00" y2="376.50" stroke="#bdbdbd" stroke-width="0.6" />
<line x1="375.70" y1="366.50" x2="450.10" y2="376.50" stroke="#bdbdbd" stroke-width="0.6" />
<line x1="379.30" y1="366.50" x2="453.70" y2="376.50" stroke="#bdbdbd" stroke-width="0.6" />
<line x1="383.40" y1="366.50" x2="457.80" y2="376.50" stroke="#bdbdbd" stroke-width="0.6" />
<line x1="386.80" y1="366.50" x2="461.20" y2="376.50" stroke="#bdbdbd" stroke-width="0.6" />
<line x1="389.80" y1="366.50" x2="464.20" y2="376.50" stroke="#bdbdbd" stroke-width="0.6" />
<line x1="393.90" y1="366.50" x2="468.30" y2="376.50" stroke="#bdbdbd" stroke-width="0.6" />
<line x1="397.90" y1="366.50" x2="472.30" y2="376.50" stroke="#bdbdbd" stroke-width="0.6" />
<line x1="401.90" y1="366.50" x2="476.30" y2="376.50" stroke="#bdbdbd" stroke-width="0.6" />
<line x1="405.00" y1="366.50" x2="479.40" y2="376.50" stroke="#bdbdbd" stroke-width="0.6" />
<line x1="407.00" y1="366.50" x2="481.40" y2="376.50" stroke="#bdbdbd" stroke-width="0.6" />
<line x1="409.00" y1="366.50" x2="483.40" y2="376.50" stroke="#bdbdbd" stroke-width="0.6" />
<line x1="413.10" y1="366.50" x2="487.50" y2="376.50" stroke="#bdbdbd" stroke-width="0.6" />
<line x1="415.10" y1="366.50" x2="489.50" y2="376.50" stroke="#bdbdbd" stroke-width="0.6" />
<line x1="420.10" y1="366.50" x2="494.50" y2="376.50" stroke="#bdbdbd" stroke-width="0.6" />
<line x1="424.20" y1="366.50" x2="498.60" y2="376.50" stroke="#bdbdbd" stroke-width="0.6" />
<line x1="427.20" y1="366.50" x2="501.60" y2="376.50" stroke="#bdbdbd" stroke-width="0.6" />
<line x1="430.20" y1="366.50" x2="504.60" y2="376.50" stroke="#bdbdbd" stroke-width="0.6" />
<line x1="433.30" y1="366.50" x2="507.70" y2="376.50" stroke="#bdbdbd" stroke-width="0.6" />
<line x1="440.30" y1="366.50" x2="514.70" y2="376.50" stroke="#bdbdbd" stroke-width="0.6" />
<line x1="443.40" y1="366.50" x2="517.80" y2="376.50" stroke="#bdbdbd" stroke-width="0.6" />
<line x1="449.40" y1="366.50" x2="523.80" y2="376.50" stroke="#bdbdbd" stroke-width="0.6" />
<line x1="461.50" y1="366.50" x2="535.90" y2="376.50" stroke="#bdbdbd" stroke-width="0.6" />
<line x1="463.60" y1="366.50" x2="538.00" y2="376.50" stroke="#bdbdbd" stroke-width="0.6" />
<line x1="465.60" y1="366.50" x2="540.00" y2="376.50" stroke="#bdbdbd" stroke-width="0.6" />
<line x1="467.60" y1="366.50" x2="542.00" y2="376.50" stroke="#bdbdbd" stroke-width="0.6" />
<line x1="470.60" y1="366.50" x2="545.00" y2="376.50" stroke="#bdbdbd" stroke-width="0.6" />
<line x1="473.70" y1="366.50" x2="548.10" y2="376.50" stroke="#bdbdbd" stroke-width="0.6" />
<line x1="477.70" y1="366.50" x2="552.10" y2="376.50" stroke="#bdbdbd" stroke-width="0.6" />
<line x1="480.70" y1="366.50" x2="555.10" y2="376.50" stroke="#bdbdbd" stroke-width="0.6" />
<line x1="482.70" y1="366.50" x2="557.10" y2="376.50" stroke="#bdbdbd" stroke-width="0.6" />
<line x1="485.80" y1="366.50" x2="560.20" y2="376.50" stroke="#bdbdbd" stroke-width="0.6" />
<line x1="487.80" y1="366.50" x2="562.20" y2="376.50" stroke="#bdbdbd" stroke-width="0.6" />
<line x1="493.90" y1="366.50" x2="568.30" y2="376.50" stroke="#bdbdbd" stroke-width="0.6" />
<line x1="497.90" y1="366.50" x2="572.30" y2="376.50" stroke="#bdbdbd" stroke-width="0.6" />
<line x1="501.90" y1="366.50" x2="576.30" y2="376.50" stroke="#bdbdbd" stroke-width="0.6" />
<line x1="503.90" y1="366.50" x2="578.30" y2="376.50" stroke="#bdbdbd" stroke-width="0.6" />
</g>
<rect x="96.50" y="376.50" width="409.50" height="9.25" fill="#66c6ee" />
<rect x="104.05" y="376.50" width="1.30" height="9.25" fill="#2f72aa" />
<rect x="126.65" y="376.50" width="1.30" height="9.25" fill="#2f72aa" />
<rect x="147.70" y="376.50" width="1.60" height="9.25" fill="#2f72aa" />
<rect x="149.60" y="376.50" width="1.60" height="9.25" fill="#2f72aa" />
<rect x="154.70" y="376.50" width="1.60" height="9.25" fill="#2f72aa" />
<rect x="167.25" y="376.50" width="0.90" height="9.25" fill="#2f72aa" />
<rect x="182.90" y="376.50" width="1.00" height="9.25" fill="#2f72aa" />
<rect x="194.25" y="376.50" width="0.90" height="9.25" fill="#2f72aa" />
<rect x="195.15" y="376.50" width="1.30" height="9.25" fill="#3f7fe0" />
<rect x="196.20" y="376.50" width="1.60" height="9.25" fill="#2f72aa" />
<rect x="200.80" y="376.50" width="1.60" height="9.25" fill="#2f72aa" />
<rect x="208.60" y="376.50" width="1.60" height="9.25" fill="#2f72aa" />
<rect x="212.65" y="376.50" width="0.90" height="9.25" fill="#2f72aa" />
<rect x="221.70" y="376.50" width="1.00" height="9.25" fill="#5f8ff0" />
<rect x="222.95" y="376.50" width="1.30" height="9.25" fill="#5f8ff0" />
<rect x="224.40" y="376.50" width="1.60" height="9.25" fill="#5f8ff0" />
<rect x="226.40" y="376.50" width="1.60" height="9.25" fill="#5f8ff0" />
<rect x="230.25" y="376.50" width="1.10" height="9.25" fill="#5f8ff0" />
<rect x="240.30" y="376.50" width="1.00" height="9.25" fill="#5f8ff0" />
<rect x="241.55" y="376.50" width="1.30" height="9.25" fill="#5f8ff0" />
<rect x="243.00" y="376.50" width="1.60" height="9.25" fill="#5f8ff0" />
<rect x="245.00" y="376.50" width="1.60" height="9.25" fill="#5f8ff0" />
<rect x="248.85" y="376.50" width="1.10" height="9.25" fill="#5f8ff0" />
<rect x="258.90" y="376.50" width="1.00" height="9.25" fill="#5f8ff0" />
<rect x="260.15" y="376.50" width="1.30" height="9.25" fill="#5f8ff0" />
<rect x="261.60" y="376.50" width="1.60" height="9.25" fill="#5f8ff0" />
<rect x="263.60" y="376.50" width="1.60" height="9.25" fill="#5f8ff0" />
<rect x="267.45" y="376.50" width="1.10" height="9.25" fill="#5f8ff0" />
<rect x="277.50" y="376.50" width="1.00" height="9.25" fill="#5f8ff0" />
<rect x="278.75" y="376.50" width="1.30" height="9.25" fill="#5f8ff0" />
<rect x="280.20" y="376.50" width="1.60" height="9.25" fill="#5f8ff0" />
<rect x="282.20" y="376.50" width="1.60" height="9.25" fill="#5f8ff0" />
<rect x="286.05" y="376.50" width="1.10" height="9.25" fill="#5f8ff0" />
<rect x="296.10" y="376.50" width="1.00" height="9.25" fill="#5f8ff0" />
<rect x="297.35" y="376.50" width="1.30" height="9.25" fill="#5f8ff0" />
<rect x="298.80" y="376.50" width="1.60" height="9.25" fill="#5f8ff0" />
<rect x="300.80" y="376.50" width="1.60" height="9.25" fill="#5f8ff0" />
<rect x="304.65" y="376.50" width="1.10" height="9.25" fill="#5f8ff0" />
<rect x="321.75" y="376.50" width="0.90" height="9.25" fill="#2f72aa" />
<rect x="332.35" y="376.50" width="1.10" height="9.25" fill="#2f72aa" />
<rect x="343.20" y="376.50" width="1.60" height="9.25" fill="#3f7fe0" />
<rect x="345.95" y="376.50" width="0.90" height="9.25" fill="#2f72aa" />
<rect x="356.55" y="376.50" width="1.10" height="9.25" fill="#2f72aa" />
<rect x="357.40" y="376.50" width="1.60" height="9.25" fill="#2f72aa" />
<rect x="361.75" y="376.50" width="0.90" height="9.25" fill="#2f72aa" />
<rect x="364.75" y="376.50" width="0.90" height="9.25" fill="#2f72aa" />
<rect x="367.75" y="376.50" width="1.10" height="9.25" fill="#2f72aa" />
<rect x="370.85" y="376.50" width="0.90" height="9.25" fill="#2f72aa" />
<rect x="373.85" y="376.50" width="0.90" height="9.25" fill="#2f72aa" />
<rect x="377.95" y="376.50" width="0.90" height="9.25" fill="#2f72aa" />
<rect x="380.35" y="376.50" width="1.30" height="9.25" fill="#2f72aa" />
<rect x="382.60" y="376.50" width="1.60" height="9.25" fill="#2f72aa" />
<rect x="386.95" y="376.50" width="1.10" height="9.25" fill="#2f72aa" />
<rect x="389.95" y="376.50" width="1.10" height="9.25" fill="#2f72aa" />
<rect x="391.25" y="376.50" width="1.30" height="9.25" fill="#2f72aa" />
<rect x="394.05" y="376.50" width="0.90" height="9.25" fill="#2f72aa" />
<rect x="397.15" y="376.50" width="0.90" height="9.25" fill="#2f72aa" />
<rect x="398.95" y="376.50" width="1.30" height="9.25" fill="#2f72aa" />
<rect x="401.50" y="376.50" width="1.00" height="9.25" fill="#2f72aa" />
<rect x="403.50" y="376.50" width="1.00" height="9.25" fill="#2f72aa" />
<rect x="406.20" y="376.50" width="1.00" height="9.25" fill="#3f7fe0" />
<rect x="409.20" y="376.50" width="1.00" height="9.25" fill="#2f72aa" />
<rect x="412.05" y="376.50" width="1.30" height="9.25" fill="#2f72aa" />
<rect x="414.05" y="376.50" width="1.30" height="9.25" fill="#3f7fe0" />
<rect x="416.35" y="376.50" width="0.90" height="9.25" fill="#2f72aa" />
<rect x="418.00" y="376.50" width="1.60" height="9.25" fill="#2f72aa" />
<rect x="420.35" y="376.50" width="0.90" height="9.25" fill="#2f72aa" />
<rect x="422.75" y="376.50" width="1.30" height="9.25" fill="#3f7fe0" />
<rect x="425.40" y="376.50" width="1.60" height="9.25" fill="#2f72aa" />
<rect x="428.45" y="376.50" width="0.90" height="9.25" fill="#2f72aa" />
<rect x="431.80" y="376.50" width="1.00" height="9.25" fill="#2f72aa" />
<rect x="437.45" y="376.50" width="1.10" height="9.25" fill="#2f72aa" />
<rect x="438.80" y="376.50" width="1.60" height="9.25" fill="#2f72aa" />
<rect x="441.05" y="376.50" width="1.10" height="9.25" fill="#2f72aa" />
<rect x="444.55" y="376.50" width="0.90" height="9.25" fill="#2f72aa" />
<rect x="449.30" y="376.50" width="1.60" height="9.25" fill="#2f72aa" />
<rect x="453.25" y="376.50" width="0.90" height="9.25" fill="#2f72aa" />
<rect x="457.25" y="376.50" width="1.10" height="9.25" fill="#2f72aa" />
<rect x="460.70" y="376.50" width="1.00" height="9.25" fill="#3f7fe0" />
<rect x="463.55" y="376.50" width="1.30" height="9.25" fill="#2f72aa" />
<rect x="467.80" y="376.50" width="1.00" height="9.25" fill="#2f72aa" />
<rect x="471.80" y="376.50" width="1.00" height="9.25" fill="#2f72aa" />
<rect x="475.75" y="376.50" width="1.10" height="9.25" fill="#3f7fe0" />
<rect x="478.60" y="376.50" width="1.60" height="9.25" fill="#2f72aa" />
<rect x="480.90" y="376.50" width="1.00" height="9.25" fill="#2f72aa" />
<rect x="482.60" y="376.50" width="1.60" height="9.25" fill="#2f72aa" />
<rect x="486.85" y="376.50" width="1.30" height="9.25" fill="#3f7fe0" />
<rect x="488.70" y="376.50" width="1.60" height="9.25" fill="#2f72aa" />
<rect x="494.05" y="376.50" width="0.90" height="9.25" fill="#2f72aa" />
<rect x="498.15" y="376.50" width="0.90" height="9.25" fill="#2f72aa" />
<rect x="501.05" y="376.50" width="1.10" height="9.25" fill="#2f72aa" />
<rect x="503.95" y="376.50" width="1.30" height="9.25" fill="#2f72aa" />
<rect x="96.50" y="385.75" width="409.50" height="75.75" fill="#f8f8f8" />
<rect x="172.00" y="393.05" width="334.00" height="1.50" fill="#fbc67c" />
<rect x="182.80" y="393.15" width="1.20" height="1.30" fill="#7a84a8" />
<rect x="196.40" y="393.15" width="1.20" height="1.30" fill="#7a84a8" />
<rect x="201.00" y="393.15" width="1.20" height="1.30" fill="#7a84a8" />
<rect x="224.60" y="393.15" width="1.20" height="1.30" fill="#7a84a8" />
<rect x="226.60" y="393.15" width="1.20" height="1.30" fill="#7a84a8" />
<rect x="230.20" y="393.15" width="1.20" height="1.30" fill="#7a84a8" />
<rect x="241.60" y="393.15" width="1.20" height="1.30" fill="#7a84a8" />
<rect x="245.20" y="393.15" width="1.20" height="1.30" fill="#7a84a8" />
<rect x="248.80" y="393.15" width="1.20" height="1.30" fill="#7a84a8" />
<rect x="258.80" y="393.15" width="1.20" height="1.30" fill="#7a84a8" />
<rect x="277.40" y="393.15" width="1.20" height="1.30" fill="#7a84a8" />
<rect x="278.80" y="393.15" width="1.20" height="1.30" fill="#7a84a8" />
<rect x="280.40" y="393.15" width="1.20" height="1.30" fill="#7a84a8" />
<rect x="282.40" y="393.15" width="1.20" height="1.30" fill="#7a84a8" />
<rect x="296.00" y="393.15" width="1.20" height="1.30" fill="#7a84a8" />
<rect x="297.40" y="393.15" width="1.20" height="1.30" fill="#7a84a8" />
<rect x="301.00" y="393.15" width="1.20" height="1.30" fill="#7a84a8" />
<rect x="321.60" y="393.15" width="1.20" height="1.30" fill="#7a84a8" />
<rect x="343.40" y="393.15" width="1.20" height="1.30" fill="#7a84a8" />
<rect x="345.80" y="393.15" width="1.20" height="1.30" fill="#7a84a8" />
<rect x="356.50" y="393.15" width="1.20" height="1.30" fill="#7a84a8" />
<rect x="357.60" y="393.15" width="1.20" height="1.30" fill="#7a84a8" />
<rect x="364.60" y="393.15" width="1.20" height="1.30" fill="#7a84a8" />
<rect x="370.70" y="393.15" width="1.20" height="1.30" fill="#7a84a8" />
<rect x="391.30" y="393.15" width="1.20" height="1.30" fill="#7a84a8" />
<rect x="393.90" y="393.15" width="1.20" height="1.30" fill="#7a84a8" />
<rect x="399.00" y="393.15" width="1.20" height="1.30" fill="#7a84a8" />
<rect x="406.10" y="393.15" width="1.20" height="1.30" fill="#7a84a8" />
<rect x="409.10" y="393.15" width="1.20" height="1.30" fill="#7a84a8" />
<rect x="412.10" y="393.15" width="1.20" height="1.30" fill="#7a84a8" />
<rect x="414.10" y="393.15" width="1.20" height="1.30" fill="#7a84a8" />
<rect x="418.20" y="393.15" width="1.20" height="1.30" fill="#7a84a8" />
<rect x="420.20" y="393.15" width="1.20" height="1.30" fill="#7a84a8" />
<rect x="422.80" y="393.15" width="1.20" height="1.30" fill="#7a84a8" />
<rect x="431.70" y="393.15" width="1.20" height="1.30" fill="#7a84a8" />
<rect x="437.40" y="393.15" width="1.20" height="1.30" fill="#7a84a8" />
<rect x="444.40" y="393.15" width="1.20" height="1.30" fill="#7a84a8" />
<rect x="460.60" y="393.15" width="1.20" height="1.30" fill="#7a84a8" />
<rect x="463.60" y="393.15" width="1.20" height="1.30" fill="#7a84a8" />
<rect x="467.70" y="393.15" width="1.20" height="1.30" fill="#7a84a8" />
<rect x="475.70" y="393.15" width="1.20" height="1.30" fill="#7a84a8" />
<rect x="480.80" y="393.15" width="1.20" height="1.30" fill="#7a84a8" />
<rect x="482.80" y="393.15" width="1.20" height="1.30" fill="#7a84a8" />
<rect x="486.90" y="393.15" width="1.20" height="1.30" fill="#7a84a8" />
<rect x="498.00" y="393.15" width="1.20" height="1.30" fill="#7a84a8" />
<rect x="239.30" y="395.85" width="244.20" height="1.50" fill="#fbc67c" />
<rect x="243.20" y="395.95" width="1.20" height="1.30" fill="#7a84a8" />
<rect x="261.80" y="395.95" width="1.20" height="1.30" fill="#7a84a8" />
<rect x="263.80" y="395.95" width="1.20" height="1.30" fill="#7a84a8" />
<rect x="267.40" y="395.95" width="1.20" height="1.30" fill="#7a84a8" />
<rect x="278.80" y="395.95" width="1.20" height="1.30" fill="#7a84a8" />
<rect x="280.40" y="395.95" width="1.20" height="1.30" fill="#7a84a8" />
<rect x="296.00" y="395.95" width="1.20" height="1.30" fill="#7a84a8" />
<rect x="299.00" y="395.95" width="1.20" height="1.30" fill="#7a84a8" />
<rect x="301.00" y="395.95" width="1.20" height="1.30" fill="#7a84a8" />
<rect x="304.60" y="395.95" width="1.20" height="1.30" fill="#7a84a8" />
<rect x="321.60" y="395.95" width="1.20" height="1.30" fill="#7a84a8" />
<rect x="332.30" y="395.95" width="1.20" height="1.30" fill="#7a84a8" />
<rect x="343.40" y="395.95" width="1.20" height="1.30" fill="#7a84a8" />
<rect x="345.80" y="395.95" width="1.20" height="1.30" fill="#7a84a8" />
<rect x="364.60" y="395.95" width="1.20" height="1.30" fill="#7a84a8" />
<rect x="367.70" y="395.95" width="1.20" height="1.30" fill="#7a84a8" />
<rect x="380.40" y="395.95" width="1.20" height="1.30" fill="#7a84a8" />
<rect x="382.80" y="395.95" width="1.20" height="1.30" fill="#7a84a8" />
<rect x="397.00" y="395.95" width="1.20" height="1.30" fill="#7a84a8" />
<rect x="403.40" y="395.95" width="1.20" height="1.30" fill="#7a84a8" />
<rect x="409.10" y="395.95" width="1.20" height="1.30" fill="#7a84a8" />
<rect x="414.10" y="395.95" width="1.20" height="1.30" fill="#7a84a8" />
<rect x="420.20" y="395.95" width="1.20" height="1.30" fill="#7a84a8" />
<rect x="437.40" y="395.95" width="1.20" height="1.30" fill="#7a84a8" />
<rect x="439.00" y="395.95" width="1.20" height="1.30" fill="#7a84a8" />
<rect x="449.50" y="395.95" width="1.20" height="1.30" fill="#7a84a8" />
<rect x="453.10" y="395.95" width="1.20" height="1.30" fill="#7a84a8" />
<rect x="457.20" y="395.95" width="1.20" height="1.30" fill="#7a84a8" />
<rect x="460.60" y="395.95" width="1.20" height="1.30" fill="#7a84a8" />
<rect x="463.60" y="395.95" width="1.20" height="1.30" fill="#7a84a8" />
<rect x="467.70" y="395.95" width="1.20" height="1.30" fill="#7a84a8" />
<rect x="478.80" y="395.95" width="1.20" height="1.30" fill="#7a84a8" />
<rect x="198.00" y="398.65" width="263.60" height="1.50" fill="#fbc67c" />
<rect x="201.00" y="398.75" width="1.20" height="1.30" fill="#7a84a8" />
<rect x="208.80" y="398.75" width="1.20" height="1.30" fill="#7a84a8" />
<rect x="212.50" y="398.75" width="1.20" height="1.30" fill="#7a84a8" />
<rect x="221.60" y="398.75" width="1.20" height="1.30" fill="#7a84a8" />
<rect x="223.00" y="398.75" width="1.20" height="1.30" fill="#7a84a8" />
<rect x="224.60" y="398.75" width="1.20" height="1.30" fill="#7a84a8" />
<rect x="240.20" y="398.75" width="1.20" height="1.30" fill="#7a84a8" />
<rect x="258.80" y="398.75" width="1.20" height="1.30" fill="#7a84a8" />
<rect x="260.20" y="398.75" width="1.20" height="1.30" fill="#7a84a8" />
<rect x="261.80" y="398.75" width="1.20" height="1.30" fill="#7a84a8" />
<rect x="267.40" y="398.75" width="1.20" height="1.30" fill="#7a84a8" />
<rect x="278.80" y="398.75" width="1.20" height="1.30" fill="#7a84a8" />
<rect x="282.40" y="398.75" width="1.20" height="1.30" fill="#7a84a8" />
<rect x="286.00" y="398.75" width="1.20" height="1.30" fill="#7a84a8" />
<rect x="296.00" y="398.75" width="1.20" height="1.30" fill="#7a84a8" />
<rect x="297.40" y="398.75" width="1.20" height="1.30" fill="#7a84a8" />
<rect x="301.00" y="398.75" width="1.20" height="1.30" fill="#7a84a8" />
<rect x="343.40" y="398.75" width="1.20" height="1.30" fill="#7a84a8" />
<rect x="364.60" y="398.75" width="1.20" height="1.30" fill="#7a84a8" />
<rect x="377.80" y="398.75" width="1.20" height="1.30" fill="#7a84a8" />
<rect x="386.90" y="398.75" width="1.20" height="1.30" fill="#7a84a8" />
<rect x="389.90" y="398.75" width="1.20" height="1.30" fill="#7a84a8" />
<rect x="393.90" y="398.75" width="1.20" height="1.30" fill="#7a84a8" />
<rect x="397.00" y="398.75" width="1.20" height="1.30" fill="#7a84a8" />
<rect x="399.00" y="398.75" width="1.20" height="1.30" fill="#7a84a8" />
<rect x="406.10" y="398.75" width="1.20" height="1.30" fill="#7a84a8" />
<rect x="412.10" y="398.75" width="1.20" height="1.30" fill="#7a84a8" />
<rect x="416.20" y="398.75" width="1.20" height="1.30" fill="#7a84a8" />
<rect x="420.20" y="398.75" width="1.20" height="1.30" fill="#7a84a8" />
<rect x="422.80" y="398.75" width="1.20" height="1.30" fill="#7a84a8" />
<rect x="425.60" y="398.75" width="1.20" height="1.30" fill="#7a84a8" />
<rect x="428.30" y="398.75" width="1.20" height="1.30" fill="#7a84a8" />
<rect x="431.70" y="398.75" width="1.20" height="1.30" fill="#7a84a8" />
<rect x="437.40" y="398.75" width="1.20" height="1.30" fill="#7a84a8" />
<rect x="449.50" y="398.75" width="1.20" height="1.30" fill="#7a84a8" />
<rect x="453.10" y="398.75" width="1.20" height="1.30" fill="#7a84a8" />
<rect x="457.20" y="398.75" width="1.20" height="1.30" fill="#7a84a8" />
<rect x="238.00" y="401.45" width="209.90" height="1.50" fill="#fbc67c" />
<rect x="240.20" y="401.55" width="1.20" height="1.30" fill="#7a84a8" />
<rect x="245.20" y="401.55" width="1.20" height="1.30" fill="#7a84a8" />
<rect x="248.80" y="401.55" width="1.20" height="1.30" fill="#7a84a8" />
<rect x="258.80" y="401.55" width="1.20" height="1.30" fill="#7a84a8" />
<rect x="296.00" y="401.55" width="1.20" height="1.30" fill="#7a84a8" />
<rect x="299.00" y="401.55" width="1.20" height="1.30" fill="#7a84a8" />
<rect x="343.40" y="401.55" width="1.20" height="1.30" fill="#7a84a8" />
<rect x="345.80" y="401.55" width="1.20" height="1.30" fill="#7a84a8" />
<rect x="356.50" y="401.55" width="1.20" height="1.30" fill="#7a84a8" />
<rect x="357.60" y="401.55" width="1.20" height="1.30" fill="#7a84a8" />
<rect x="361.60" y="401.55" width="1.20" height="1.30" fill="#7a84a8" />
<rect x="367.70" y="401.55" width="1.20" height="1.30" fill="#7a84a8" />
<rect x="370.70" y="401.55" width="1.20" height="1.30" fill="#7a84a8" />
<rect x="380.40" y="401.55" width="1.20" height="1.30" fill="#7a84a8" />
<rect x="382.80" y="401.55" width="1.20" height="1.30" fill="#7a84a8" />
<rect x="391.30" y="401.55" width="1.20" height="1.30" fill="#7a84a8" />
<rect x="393.90" y="401.55" width="1.20" height="1.30" fill="#7a84a8" />
<rect x="401.40" y="401.55" width="1.20" height="1.30" fill="#7a84a8" />
<rect x="406.10" y="401.55" width="1.20" height="1.30" fill="#7a84a8" />
<rect x="409.10" y="401.55" width="1.20" height="1.30" fill="#7a84a8" />
<rect x="414.10" y="401.55" width="1.20" height="1.30" fill="#7a84a8" />
<rect x="418.20" y="401.55" width="1.20" height="1.30" fill="#7a84a8" />
<rect x="422.80" y="401.55" width="1.20" height="1.30" fill="#7a84a8" />
<rect x="425.60" y="401.55" width="1.20" height="1.30" fill="#7a84a8" />
<rect x="431.70" y="401.55" width="1.20" height="1.30" fill="#7a84a8" />
<rect x="437.40" y="401.55" width="1.20" height="1.30" fill="#7a84a8" />
<rect x="441.00" y="401.55" width="1.20" height="1.30" fill="#7a84a8" />
<rect x="444.40" y="401.55" width="1.20" height="1.30" fill="#7a84a8" />
<rect x="211.00" y="404.25" width="210.40" height="1.50" fill="#fbc67c" />
<rect x="212.50" y="404.35" width="1.20" height="1.30" fill="#7a84a8" />
<rect x="221.60" y="404.35" width="1.20" height="1.30" fill="#7a84a8" />
<rect x="223.00" y="404.35" width="1.20" height="1.30" fill="#7a84a8" />
<rect x="226.60" y="404.35" width="1.20" height="1.30" fill="#7a84a8" />
<rect x="243.20" y="404.35" width="1.20" height="1.30" fill="#7a84a8" />
<rect x="248.80" y="404.35" width="1.20" height="1.30" fill="#7a84a8" />
<rect x="261.80" y="404.35" width="1.20" height="1.30" fill="#7a84a8" />
<rect x="263.80" y="404.35" width="1.20" height="1.30" fill="#7a84a8" />
<rect x="277.40" y="404.35" width="1.20" height="1.30" fill="#7a84a8" />
<rect x="278.80" y="404.35" width="1.20" height="1.30" fill="#7a84a8" />
<rect x="280.40" y="404.35" width="1.20" height="1.30" fill="#7a84a8" />
<rect x="286.00" y="404.35" width="1.20" height="1.30" fill="#7a84a8" />
<rect x="296.00" y="404.35" width="1.20" height="1.30" fill="#7a84a8" />
<rect x="304.60" y="404.35" width="1.20" height="1.30" fill="#7a84a8" />
<rect x="321.60" y="404.35" width="1.20" height="1.30" fill="#7a84a8" />
<rect x="332.30" y="404.35" width="1.20" height="1.30" fill="#7a84a8" />
<rect x="345.80" y="404.35" width="1.20" height="1.30" fill="#7a84a8" />
<rect x="367.70" y="404.35" width="1.20" height="1.30" fill="#7a84a8" />
<rect x="373.70" y="404.35" width="1.20" height="1.30" fill="#7a84a8" />
<rect x="386.90" y="404.35" width="1.20" height="1.30" fill="#7a84a8" />
<rect x="389.90" y="404.35" width="1.20" height="1.30" fill="#7a84a8" />
<rect x="399.00" y="404.35" width="1.20" height="1.30" fill="#7a84a8" />
<rect x="403.40" y="404.35" width="1.20" height="1.30" fill="#7a84a8" />
<rect x="406.10" y="404.35" width="1.20" height="1.30" fill="#7a84a8" />
<rect x="409.10" y="404.35" width="1.20" height="1.30" fill="#7a84a8" />
<rect x="412.10" y="404.35" width="1.20" height="1.30" fill="#7a84a8" />
<rect x="418.20" y="404.35" width="1.20" height="1.30" fill="#7a84a8" />
<rect x="184.50" y="407.05" width="221.50" height="1.50" fill="#fbc67c" />
<rect x="194.10" y="407.15" width="1.20" height="1.30" fill="#7a84a8" />
<rect x="201.00" y="407.15" width="1.20" height="1.30" fill="#7a84a8" />
<rect x="208.80" y="407.15" width="1.20" height="1.30" fill="#7a84a8" />
<rect x="212.50" y="407.15" width="1.20" height="1.30" fill="#7a84a8" />
<rect x="221.60" y="407.15" width="1.20" height="1.30" fill="#7a84a8" />
<rect x="223.00" y="407.15" width="1.20" height="1.30" fill="#7a84a8" />
<rect x="230.20" y="407.15" width="1.20" height="1.30" fill="#7a84a8" />
<rect x="240.20" y="407.15" width="1.20" height="1.30" fill="#7a84a8" />
<rect x="245.20" y="407.15" width="1.20" height="1.30" fill="#7a84a8" />
<rect x="261.80" y="407.15" width="1.20" height="1.30" fill="#7a84a8" />
<rect x="267.40" y="407.15" width="1.20" height="1.30" fill="#7a84a8" />
<rect x="277.40" y="407.15" width="1.20" height="1.30" fill="#7a84a8" />
<rect x="278.80" y="407.15" width="1.20" height="1.30" fill="#7a84a8" />
<rect x="286.00" y="407.15" width="1.20" height="1.30" fill="#7a84a8" />
<rect x="297.40" y="407.15" width="1.20" height="1.30" fill="#7a84a8" />
<rect x="299.00" y="407.15" width="1.20" height="1.30" fill="#7a84a8" />
<rect x="343.40" y="407.15" width="1.20" height="1.30" fill="#7a84a8" />
<rect x="367.70" y="407.15" width="1.20" height="1.30" fill="#7a84a8" />
<rect x="380.40" y="407.15" width="1.20" height="1.30" fill="#7a84a8" />
<rect x="382.80" y="407.15" width="1.20" height="1.30" fill="#7a84a8" />
<rect x="397.00" y="407.15" width="1.20" height="1.30" fill="#7a84a8" />
<rect x="225.80" y="409.85" width="156.20" height="1.50" fill="#fbc67c" />
<rect x="226.60" y="409.95" width="1.20" height="1.30" fill="#7a84a8" />
<rect x="248.80" y="409.95" width="1.20" height="1.30" fill="#7a84a8" />
<rect x="258.80" y="409.95" width="1.20" height="1.30" fill="#7a84a8" />
<rect x="260.20" y="409.95" width="1.20" height="1.30" fill="#7a84a8" />
<rect x="261.80" y="409.95" width="1.20" height="1.30" fill="#7a84a8" />
<rect x="277.40" y="409.95" width="1.20" height="1.30" fill="#7a84a8" />
<rect x="278.80" y="409.95" width="1.20" height="1.30" fill="#7a84a8" />
<rect x="280.40" y="409.95" width="1.20" height="1.30" fill="#7a84a8" />
<rect x="282.40" y="409.95" width="1.20" height="1.30" fill="#7a84a8" />
<rect x="296.00" y="409.95" width="1.20" height="1.30" fill="#7a84a8" />
<rect x="299.00" y="409.95" width="1.20" height="1.30" fill="#7a84a8" />
<rect x="301.00" y="409.95" width="1.20" height="1.30" fill="#7a84a8" />
<rect x="345.80" y="409.95" width="1.20" height="1.30" fill="#7a84a8" />
<rect x="356.50" y="409.95" width="1.20" height="1.30" fill="#7a84a8" />
<rect x="357.60" y="409.95" width="1.20" height="1.30" fill="#7a84a8" />
<rect x="373.70" y="409.95" width="1.20" height="1.30" fill="#7a84a8" />
<rect x="377.80" y="409.95" width="1.20" height="1.30" fill="#7a84a8" />
<rect x="209.00" y="412.65" width="172.00" height="1.50" fill="#fbc67c" />
<rect x="212.50" y="412.75" width="1.20" height="1.30" fill="#7a84a8" />
<rect x="221.60" y="412.75" width="1.20" height="1.30" fill="#7a84a8" />
<rect x="223.00" y="412.75" width="1.20" height="1.30" fill="#7a84a8" />
<rect x="226.60" y="412.75" width="1.20" height="1.30" fill="#7a84a8" />
<rect x="230.20" y="412.75" width="1.20" height="1.30" fill="#7a84a8" />
<rect x="260.20" y="412.75" width="1.20" height="1.30" fill="#7a84a8" />
<rect x="261.80" y="412.75" width="1.20" height="1.30" fill="#7a84a8" />
<rect x="263.80" y="412.75" width="1.20" height="1.30" fill="#7a84a8" />
<rect x="282.40" y="412.75" width="1.20" height="1.30" fill="#7a84a8" />
<rect x="286.00" y="412.75" width="1.20" height="1.30" fill="#7a84a8" />
<rect x="299.00" y="412.75" width="1.20" height="1.30" fill="#7a84a8" />
<rect x="301.00" y="412.75" width="1.20" height="1.30" fill="#7a84a8" />
<rect x="304.60" y="412.75" width="1.20" height="1.30" fill="#7a84a8" />
<rect x="332.30" y="412.75" width="1.20" height="1.30" fill="#7a84a8" />
<rect x="343.40" y="412.75" width="1.20" height="1.30" fill="#7a84a8" />
<rect x="345.80" y="412.75" width="1.20" height="1.30" fill="#7a84a8" />
<rect x="370.70" y="412.75" width="1.20" height="1.30" fill="#7a84a8" />
<rect x="373.70" y="412.75" width="1.20" height="1.30" fill="#7a84a8" />
<rect x="187.30" y="415.45" width="191.50" height="1.50" fill="#fbc67c" />
<rect x="196.40" y="415.55" width="1.20" height="1.30" fill="#7a84a8" />
<rect x="212.50" y="415.55" width="1.20" height="1.30" fill="#7a84a8" />
<rect x="221.60" y="415.55" width="1.20" height="1.30" fill="#7a84a8" />
<rect x="224.60" y="415.55" width="1.20" height="1.30" fill="#7a84a8" />
<rect x="230.20" y="415.55" width="1.20" height="1.30" fill="#7a84a8" />
<rect x="241.60" y="415.55" width="1.20" height="1.30" fill="#7a84a8" />
<rect x="243.20" y="415.55" width="1.20" height="1.30" fill="#7a84a8" />
<rect x="245.20" y="415.55" width="1.20" height="1.30" fill="#7a84a8" />
<rect x="248.80" y="415.55" width="1.20" height="1.30" fill="#7a84a8" />
<rect x="260.20" y="415.55" width="1.20" height="1.30" fill="#7a84a8" />
<rect x="263.80" y="415.55" width="1.20" height="1.30" fill="#7a84a8" />
<rect x="277.40" y="415.55" width="1.20" height="1.30" fill="#7a84a8" />
<rect x="278.80" y="415.55" width="1.20" height="1.30" fill="#7a84a8" />
<rect x="280.40" y="415.55" width="1.20" height="1.30" fill="#7a84a8" />
<rect x="282.40" y="415.55" width="1.20" height="1.30" fill="#7a84a8" />
<rect x="296.00" y="415.55" width="1.20" height="1.30" fill="#7a84a8" />
<rect x="297.40" y="415.55" width="1.20" height="1.30" fill="#7a84a8" />
<rect x="304.60" y="415.55" width="1.20" height="1.30" fill="#7a84a8" />
<rect x="343.40" y="415.55" width="1.20" height="1.30" fill="#7a84a8" />
<rect x="357.60" y="415.55" width="1.20" height="1.30" fill="#7a84a8" />
<rect x="367.70" y="415.55" width="1.20" height="1.30" fill="#7a84a8" />
<rect x="370.70" y="415.55" width="1.20" height="1.30" fill="#7a84a8" />
<rect x="205.00" y="418.25" width="168.50" height="1.50" fill="#fbc67c" />
<rect x="212.50" y="418.35" width="1.20" height="1.30" fill="#7a84a8" />
<rect x="223.00" y="418.35" width="1.20" height="1.30" fill="#7a84a8" />
<rect x="226.60" y="418.35" width="1.20" height="1.30" fill="#7a84a8" />
<rect x="240.20" y="418.35" width="1.20" height="1.30" fill="#7a84a8" />
<rect x="241.60" y="418.35" width="1.20" height="1.30" fill="#7a84a8" />
<rect x="248.80" y="418.35" width="1.20" height="1.30" fill="#7a84a8" />
<rect x="258.80" y="418.35" width="1.20" height="1.30" fill="#7a84a8" />
<rect x="260.20" y="418.35" width="1.20" height="1.30" fill="#7a84a8" />
<rect x="263.80" y="418.35" width="1.20" height="1.30" fill="#7a84a8" />
<rect x="267.40" y="418.35" width="1.20" height="1.30" fill="#7a84a8" />
<rect x="277.40" y="418.35" width="1.20" height="1.30" fill="#7a84a8" />
<rect x="278.80" y="418.35" width="1.20" height="1.30" fill="#7a84a8" />
<rect x="280.40" y="418.35" width="1.20" height="1.30" fill="#7a84a8" />
<rect x="282.40" y="418.35" width="1.20" height="1.30" fill="#7a84a8" />
<rect x="297.40" y="418.35" width="1.20" height="1.30" fill="#7a84a8" />
<rect x="299.00" y="418.35" width="1.20" height="1.30" fill="#7a84a8" />
<rect x="304.60" y="418.35" width="1.20" height="1.30" fill="#7a84a8" />
<rect x="321.60" y="418.35" width="1.20" height="1.30" fill="#7a84a8" />
<rect x="343.40" y="418.35" width="1.20" height="1.30" fill="#7a84a8" />
<rect x="357.60" y="418.35" width="1.20" height="1.30" fill="#7a84a8" />
<rect x="361.60" y="418.35" width="1.20" height="1.30" fill="#7a84a8" />
<rect x="367.70" y="418.35" width="1.20" height="1.30" fill="#7a84a8" />
<rect x="370.70" y="418.35" width="1.20" height="1.30" fill="#7a84a8" />
<rect x="123.80" y="421.05" width="248.90" height="1.50" fill="#fbc67c" />
<rect x="167.10" y="421.15" width="1.20" height="1.30" fill="#7a84a8" />
<rect x="182.80" y="421.15" width="1.20" height="1.30" fill="#7a84a8" />
<rect x="194.10" y="421.15" width="1.20" height="1.30" fill="#7a84a8" />
<rect x="196.40" y="421.15" width="1.20" height="1.30" fill="#7a84a8" />
<rect x="208.80" y="421.15" width="1.20" height="1.30" fill="#7a84a8" />
<rect x="212.50" y="421.15" width="1.20" height="1.30" fill="#7a84a8" />
<rect x="226.60" y="421.15" width="1.20" height="1.30" fill="#7a84a8" />
<rect x="240.20" y="421.15" width="1.20" height="1.30" fill="#7a84a8" />
<rect x="258.80" y="421.15" width="1.20" height="1.30" fill="#7a84a8" />
<rect x="260.20" y="421.15" width="1.20" height="1.30" fill="#7a84a8" />
<rect x="267.40" y="421.15" width="1.20" height="1.30" fill="#7a84a8" />
<rect x="278.80" y="421.15" width="1.20" height="1.30" fill="#7a84a8" />
<rect x="280.40" y="421.15" width="1.20" height="1.30" fill="#7a84a8" />
<rect x="282.40" y="421.15" width="1.20" height="1.30" fill="#7a84a8" />
<rect x="286.00" y="421.15" width="1.20" height="1.30" fill="#7a84a8" />
<rect x="299.00" y="421.15" width="1.20" height="1.30" fill="#7a84a8" />
<rect x="301.00" y="421.15" width="1.20" height="1.30" fill="#7a84a8" />
<rect x="304.60" y="421.15" width="1.20" height="1.30" fill="#7a84a8" />
<rect x="332.30" y="421.15" width="1.20" height="1.30" fill="#7a84a8" />
<rect x="343.40" y="421.15" width="1.20" height="1.30" fill="#7a84a8" />
<rect x="345.80" y="421.15" width="1.20" height="1.30" fill="#7a84a8" />
<rect x="357.60" y="421.15" width="1.20" height="1.30" fill="#7a84a8" />
<rect x="367.70" y="421.15" width="1.20" height="1.30" fill="#7a84a8" />
<rect x="96.50" y="423.85" width="270.50" height="1.50" fill="#fbc67c" />
<rect x="104.10" y="423.95" width="1.20" height="1.30" fill="#7a84a8" />
<rect x="126.70" y="423.95" width="1.20" height="1.30" fill="#7a84a8" />
<rect x="147.90" y="423.95" width="1.20" height="1.30" fill="#7a84a8" />
<rect x="149.80" y="423.95" width="1.20" height="1.30" fill="#7a84a8" />
<rect x="154.90" y="423.95" width="1.20" height="1.30" fill="#7a84a8" />
<rect x="167.10" y="423.95" width="1.20" height="1.30" fill="#7a84a8" />
<rect x="194.10" y="423.95" width="1.20" height="1.30" fill="#7a84a8" />
<rect x="195.20" y="423.95" width="1.20" height="1.30" fill="#7a84a8" />
<rect x="196.40" y="423.95" width="1.20" height="1.30" fill="#7a84a8" />
<rect x="201.00" y="423.95" width="1.20" height="1.30" fill="#7a84a8" />
<rect x="212.50" y="423.95" width="1.20" height="1.30" fill="#7a84a8" />
<rect x="223.00" y="423.95" width="1.20" height="1.30" fill="#7a84a8" />
<rect x="226.60" y="423.95" width="1.20" height="1.30" fill="#7a84a8" />
<rect x="241.60" y="423.95" width="1.20" height="1.30" fill="#7a84a8" />
<rect x="243.20" y="423.95" width="1.20" height="1.30" fill="#7a84a8" />
<rect x="260.20" y="423.95" width="1.20" height="1.30" fill="#7a84a8" />
<rect x="261.80" y="423.95" width="1.20" height="1.30" fill="#7a84a8" />
<rect x="277.40" y="423.95" width="1.20" height="1.30" fill="#7a84a8" />
<rect x="297.40" y="423.95" width="1.20" height="1.30" fill="#7a84a8" />
<rect x="301.00" y="423.95" width="1.20" height="1.30" fill="#7a84a8" />
<rect x="304.60" y="423.95" width="1.20" height="1.30" fill="#7a84a8" />
<rect x="332.30" y="423.95" width="1.20" height="1.30" fill="#7a84a8" />
<rect x="343.40" y="423.95" width="1.20" height="1.30" fill="#7a84a8" />
<rect x="356.50" y="423.95" width="1.20" height="1.30" fill="#7a84a8" />
<rect x="357.60" y="423.95" width="1.20" height="1.30" fill="#7a84a8" />
<rect x="175.00" y="426.65" width="175.00" height="1.50" fill="#fbc67c" />
<rect x="212.50" y="426.75" width="1.20" height="1.30" fill="#7a84a8" />
<rect x="230.20" y="426.75" width="1.20" height="1.30" fill="#7a84a8" />
<rect x="241.60" y="426.75" width="1.20" height="1.30" fill="#7a84a8" />
<rect x="243.20" y="426.75" width="1.20" height="1.30" fill="#7a84a8" />
<rect x="245.20" y="426.75" width="1.20" height="1.30" fill="#7a84a8" />
<rect x="248.80" y="426.75" width="1.20" height="1.30" fill="#7a84a8" />
<rect x="258.80" y="426.75" width="1.20" height="1.30" fill="#7a84a8" />
<rect x="260.20" y="426.75" width="1.20" height="1.30" fill="#7a84a8" />
<rect x="261.80" y="426.75" width="1.20" height="1.30" fill="#7a84a8" />
<rect x="267.40" y="426.75" width="1.20" height="1.30" fill="#7a84a8" />
<rect x="278.80" y="426.75" width="1.20" height="1.30" fill="#7a84a8" />
<rect x="282.40" y="426.75" width="1.20" height="1.30" fill="#7a84a8" />
<rect x="286.00" y="426.75" width="1.20" height="1.30" fill="#7a84a8" />
<rect x="297.40" y="426.75" width="1.20" height="1.30" fill="#7a84a8" />
<rect x="299.00" y="426.75" width="1.20" height="1.30" fill="#7a84a8" />
<rect x="304.60" y="426.75" width="1.20" height="1.30" fill="#7a84a8" />
<rect x="321.60" y="426.75" width="1.20" height="1.30" fill="#7a84a8" />
<rect x="174.00" y="429.45" width="166.80" height="1.50" fill="#fbc67c" />
<rect x="182.80" y="429.55" width="1.20" height="1.30" fill="#7a84a8" />
<rect x="195.20" y="429.55" width="1.20" height="1.30" fill="#7a84a8" />
<rect x="208.80" y="429.55" width="1.20" height="1.30" fill="#7a84a8" />
<rect x="212.50" y="429.55" width="1.20" height="1.30" fill="#7a84a8" />
<rect x="223.00" y="429.55" width="1.20" height="1.30" fill="#7a84a8" />
<rect x="230.20" y="429.55" width="1.20" height="1.30" fill="#7a84a8" />
<rect x="241.60" y="429.55" width="1.20" height="1.30" fill="#7a84a8" />
<rect x="243.20" y="429.55" width="1.20" height="1.30" fill="#7a84a8" />
<rect x="245.20" y="429.55" width="1.20" height="1.30" fill="#7a84a8" />
<rect x="248.80" y="429.55" width="1.20" height="1.30" fill="#7a84a8" />
<rect x="258.80" y="429.55" width="1.20" height="1.30" fill="#7a84a8" />
<rect x="260.20" y="429.55" width="1.20" height="1.30" fill="#7a84a8" />
<rect x="263.80" y="429.55" width="1.20" height="1.30" fill="#7a84a8" />
<rect x="286.00" y="429.55" width="1.20" height="1.30" fill="#7a84a8" />
<rect x="297.40" y="429.55" width="1.20" height="1.30" fill="#7a84a8" />
<rect x="301.00" y="429.55" width="1.20" height="1.30" fill="#7a84a8" />
<rect x="304.60" y="429.55" width="1.20" height="1.30" fill="#7a84a8" />
<rect x="321.60" y="429.55" width="1.20" height="1.30" fill="#7a84a8" />
<rect x="332.30" y="429.55" width="1.20" height="1.30" fill="#7a84a8" />
<rect x="176.00" y="432.25" width="161.80" height="1.50" fill="#fbc67c" />
<rect x="201.00" y="432.35" width="1.20" height="1.30" fill="#7a84a8" />
<rect x="208.80" y="432.35" width="1.20" height="1.30" fill="#7a84a8" />
<rect x="212.50" y="432.35" width="1.20" height="1.30" fill="#7a84a8" />
<rect x="221.60" y="432.35" width="1.20" height="1.30" fill="#7a84a8" />
<rect x="226.60" y="432.35" width="1.20" height="1.30" fill="#7a84a8" />
<rect x="241.60" y="432.35" width="1.20" height="1.30" fill="#7a84a8" />
<rect x="248.80" y="432.35" width="1.20" height="1.30" fill="#7a84a8" />
<rect x="267.40" y="432.35" width="1.20" height="1.30" fill="#7a84a8" />
<rect x="278.80" y="432.35" width="1.20" height="1.30" fill="#7a84a8" />
<rect x="282.40" y="432.35" width="1.20" height="1.30" fill="#7a84a8" />
<rect x="296.00" y="432.35" width="1.20" height="1.30" fill="#7a84a8" />
<rect x="301.00" y="432.35" width="1.20" height="1.30" fill="#7a84a8" />
<rect x="304.60" y="432.35" width="1.20" height="1.30" fill="#7a84a8" />
<rect x="321.60" y="432.35" width="1.20" height="1.30" fill="#7a84a8" />
<rect x="158.00" y="435.05" width="166.00" height="1.50" fill="#fbc67c" />
<rect x="182.80" y="435.15" width="1.20" height="1.30" fill="#7a84a8" />
<rect x="196.40" y="435.15" width="1.20" height="1.30" fill="#7a84a8" />
<rect x="208.80" y="435.15" width="1.20" height="1.30" fill="#7a84a8" />
<rect x="221.60" y="435.15" width="1.20" height="1.30" fill="#7a84a8" />
<rect x="223.00" y="435.15" width="1.20" height="1.30" fill="#7a84a8" />
<rect x="226.60" y="435.15" width="1.20" height="1.30" fill="#7a84a8" />
<rect x="230.20" y="435.15" width="1.20" height="1.30" fill="#7a84a8" />
<rect x="241.60" y="435.15" width="1.20" height="1.30" fill="#7a84a8" />
<rect x="243.20" y="435.15" width="1.20" height="1.30" fill="#7a84a8" />
<rect x="248.80" y="435.15" width="1.20" height="1.30" fill="#7a84a8" />
<rect x="258.80" y="435.15" width="1.20" height="1.30" fill="#7a84a8" />
<rect x="260.20" y="435.15" width="1.20" height="1.30" fill="#7a84a8" />
<rect x="261.80" y="435.15" width="1.20" height="1.30" fill="#7a84a8" />
<rect x="263.80" y="435.15" width="1.20" height="1.30" fill="#7a84a8" />
<rect x="277.40" y="435.15" width="1.20" height="1.30" fill="#7a84a8" />
<rect x="280.40" y="435.15" width="1.20" height="1.30" fill="#7a84a8" />
<rect x="282.40" y="435.15" width="1.20" height="1.30" fill="#7a84a8" />
<rect x="286.00" y="435.15" width="1.20" height="1.30" fill="#7a84a8" />
<rect x="296.00" y="435.15" width="1.20" height="1.30" fill="#7a84a8" />
<rect x="297.40" y="435.15" width="1.20" height="1.30" fill="#7a84a8" />
<rect x="299.00" y="435.15" width="1.20" height="1.30" fill="#7a84a8" />
<rect x="321.60" y="435.15" width="1.20" height="1.30" fill="#7a84a8" />
<rect x="100.00" y="437.85" width="215.80" height="1.50" fill="#fbc67c" />
<rect x="147.90" y="437.95" width="1.20" height="1.30" fill="#7a84a8" />
<rect x="196.40" y="437.95" width="1.20" height="1.30" fill="#7a84a8" />
<rect x="223.00" y="437.95" width="1.20" height="1.30" fill="#7a84a8" />
<rect x="226.60" y="437.95" width="1.20" height="1.30" fill="#7a84a8" />
<rect x="240.20" y="437.95" width="1.20" height="1.30" fill="#7a84a8" />
<rect x="243.20" y="437.95" width="1.20" height="1.30" fill="#7a84a8" />
<rect x="245.20" y="437.95" width="1.20" height="1.30" fill="#7a84a8" />
<rect x="261.80" y="437.95" width="1.20" height="1.30" fill="#7a84a8" />
<rect x="263.80" y="437.95" width="1.20" height="1.30" fill="#7a84a8" />
<rect x="277.40" y="437.95" width="1.20" height="1.30" fill="#7a84a8" />
<rect x="299.00" y="437.95" width="1.20" height="1.30" fill="#7a84a8" />
<rect x="301.00" y="437.95" width="1.20" height="1.30" fill="#7a84a8" />
<rect x="304.60" y="437.95" width="1.20" height="1.30" fill="#7a84a8" />
<rect x="96.50" y="440.65" width="215.50" height="1.50" fill="#fbc67c" />
<rect x="147.90" y="440.75" width="1.20" height="1.30" fill="#7a84a8" />
<rect x="154.90" y="440.75" width="1.20" height="1.30" fill="#7a84a8" />
<rect x="167.10" y="440.75" width="1.20" height="1.30" fill="#7a84a8" />
<rect x="182.80" y="440.75" width="1.20" height="1.30" fill="#7a84a8" />
<rect x="194.10" y="440.75" width="1.20" height="1.30" fill="#7a84a8" />
<rect x="195.20" y="440.75" width="1.20" height="1.30" fill="#7a84a8" />
<rect x="223.00" y="440.75" width="1.20" height="1.30" fill="#7a84a8" />
<rect x="230.20" y="440.75" width="1.20" height="1.30" fill="#7a84a8" />
<rect x="240.20" y="440.75" width="1.20" height="1.30" fill="#7a84a8" />
<rect x="241.60" y="440.75" width="1.20" height="1.30" fill="#7a84a8" />
<rect x="243.20" y="440.75" width="1.20" height="1.30" fill="#7a84a8" />
<rect x="245.20" y="440.75" width="1.20" height="1.30" fill="#7a84a8" />
<rect x="248.80" y="440.75" width="1.20" height="1.30" fill="#7a84a8" />
<rect x="261.80" y="440.75" width="1.20" height="1.30" fill="#7a84a8" />
<rect x="263.80" y="440.75" width="1.20" height="1.30" fill="#7a84a8" />
<rect x="267.40" y="440.75" width="1.20" height="1.30" fill="#7a84a8" />
<rect x="278.80" y="440.75" width="1.20" height="1.30" fill="#7a84a8" />
<rect x="282.40" y="440.75" width="1.20" height="1.30" fill="#7a84a8" />
<rect x="299.00" y="440.75" width="1.20" height="1.30" fill="#7a84a8" />
<rect x="152.70" y="443.45" width="158.30" height="1.50" fill="#fbc67c" />
<rect x="154.90" y="443.55" width="1.20" height="1.30" fill="#7a84a8" />
<rect x="194.10" y="443.55" width="1.20" height="1.30" fill="#7a84a8" />
<rect x="195.20" y="443.55" width="1.20" height="1.30" fill="#7a84a8" />
<rect x="201.00" y="443.55" width="1.20" height="1.30" fill="#7a84a8" />
<rect x="208.80" y="443.55" width="1.20" height="1.30" fill="#7a84a8" />
<rect x="212.50" y="443.55" width="1.20" height="1.30" fill="#7a84a8" />
<rect x="221.60" y="443.55" width="1.20" height="1.30" fill="#7a84a8" />
<rect x="226.60" y="443.55" width="1.20" height="1.30" fill="#7a84a8" />
<rect x="230.20" y="443.55" width="1.20" height="1.30" fill="#7a84a8" />
<rect x="241.60" y="443.55" width="1.20" height="1.30" fill="#7a84a8" />
<rect x="245.20" y="443.55" width="1.20" height="1.30" fill="#7a84a8" />
<rect x="258.80" y="443.55" width="1.20" height="1.30" fill="#7a84a8" />
<rect x="260.20" y="443.55" width="1.20" height="1.30" fill="#7a84a8" />
<rect x="261.80" y="443.55" width="1.20" height="1.30" fill="#7a84a8" />
<rect x="263.80" y="443.55" width="1.20" height="1.30" fill="#7a84a8" />
<rect x="267.40" y="443.55" width="1.20" height="1.30" fill="#7a84a8" />
<rect x="282.40" y="443.55" width="1.20" height="1.30" fill="#7a84a8" />
<rect x="286.00" y="443.55" width="1.20" height="1.30" fill="#7a84a8" />
<rect x="297.40" y="443.55" width="1.20" height="1.30" fill="#7a84a8" />
<rect x="162.70" y="446.25" width="147.70" height="1.50" fill="#fbc67c" />
<rect x="167.10" y="446.35" width="1.20" height="1.30" fill="#7a84a8" />
<rect x="182.80" y="446.35" width="1.20" height="1.30" fill="#7a84a8" />
<rect x="194.10" y="446.35" width="1.20" height="1.30" fill="#7a84a8" />
<rect x="195.20" y="446.35" width="1.20" height="1.30" fill="#7a84a8" />
<rect x="196.40" y="446.35" width="1.20" height="1.30" fill="#7a84a8" />
<rect x="201.00" y="446.35" width="1.20" height="1.30" fill="#7a84a8" />
<rect x="226.60" y="446.35" width="1.20" height="1.30" fill="#7a84a8" />
<rect x="240.20" y="446.35" width="1.20" height="1.30" fill="#7a84a8" />
<rect x="245.20" y="446.35" width="1.20" height="1.30" fill="#7a84a8" />
<rect x="248.80" y="446.35" width="1.20" height="1.30" fill="#7a84a8" />
<rect x="258.80" y="446.35" width="1.20" height="1.30" fill="#7a84a8" />
<rect x="261.80" y="446.35" width="1.20" height="1.30" fill="#7a84a8" />
<rect x="278.80" y="446.35" width="1.20" height="1.30" fill="#7a84a8" />
<rect x="280.40" y="446.35" width="1.20" height="1.30" fill="#7a84a8" />
<rect x="296.00" y="446.35" width="1.20" height="1.30" fill="#7a84a8" />
<rect x="297.40" y="446.35" width="1.20" height="1.30" fill="#7a84a8" />
<rect x="304.60" y="446.35" width="1.20" height="1.30" fill="#7a84a8" />
<rect x="173.00" y="449.05" width="134.30" height="1.50" fill="#fbc67c" />
<rect x="182.80" y="449.15" width="1.20" height="1.30" fill="#7a84a8" />
<rect x="195.20" y="449.15" width="1.20" height="1.30" fill="#7a84a8" />
<rect x="196.40" y="449.15" width="1.20" height="1.30" fill="#7a84a8" />
<rect x="221.60" y="449.15" width="1.20" height="1.30" fill="#7a84a8" />
<rect x="226.60" y="449.15" width="1.20" height="1.30" fill="#7a84a8" />
<rect x="230.20" y="449.15" width="1.20" height="1.30" fill="#7a84a8" />
<rect x="240.20" y="449.15" width="1.20" height="1.30" fill="#7a84a8" />
<rect x="243.20" y="449.15" width="1.20" height="1.30" fill="#7a84a8" />
<rect x="258.80" y="449.15" width="1.20" height="1.30" fill="#7a84a8" />
<rect x="277.40" y="449.15" width="1.20" height="1.30" fill="#7a84a8" />
<rect x="282.40" y="449.15" width="1.20" height="1.30" fill="#7a84a8" />
<rect x="296.00" y="449.15" width="1.20" height="1.30" fill="#7a84a8" />
<rect x="301.00" y="449.15" width="1.20" height="1.30" fill="#7a84a8" />
<rect x="304.60" y="449.15" width="1.20" height="1.30" fill="#7a84a8" />
<rect x="140.00" y="451.85" width="165.00" height="1.50" fill="#fbc67c" />
<rect x="147.90" y="451.95" width="1.20" height="1.30" fill="#7a84a8" />
<rect x="149.80" y="451.95" width="1.20" height="1.30" fill="#7a84a8" />
<rect x="154.90" y="451.95" width="1.20" height="1.30" fill="#7a84a8" />
<rect x="167.10" y="451.95" width="1.20" height="1.30" fill="#7a84a8" />
<rect x="194.10" y="451.95" width="1.20" height="1.30" fill="#7a84a8" />
<rect x="221.60" y="451.95" width="1.20" height="1.30" fill="#7a84a8" />
<rect x="223.00" y="451.95" width="1.20" height="1.30" fill="#7a84a8" />
<rect x="226.60" y="451.95" width="1.20" height="1.30" fill="#7a84a8" />
<rect x="245.20" y="451.95" width="1.20" height="1.30" fill="#7a84a8" />
<rect x="248.80" y="451.95" width="1.20" height="1.30" fill="#7a84a8" />
<rect x="258.80" y="451.95" width="1.20" height="1.30" fill="#7a84a8" />
<rect x="260.20" y="451.95" width="1.20" height="1.30" fill="#7a84a8" />
<rect x="261.80" y="451.95" width="1.20" height="1.30" fill="#7a84a8" />
<rect x="263.80" y="451.95" width="1.20" height="1.30" fill="#7a84a8" />
<rect x="277.40" y="451.95" width="1.20" height="1.30" fill="#7a84a8" />
<rect x="280.40" y="451.95" width="1.20" height="1.30" fill="#7a84a8" />
<rect x="297.40" y="451.95" width="1.20" height="1.30" fill="#7a84a8" />
<rect x="159.00" y="454.65" width="139.80" height="1.50" fill="#fbc67c" />
<rect x="194.10" y="454.75" width="1.20" height="1.30" fill="#7a84a8" />
<rect x="196.40" y="454.75" width="1.20" height="1.30" fill="#7a84a8" />
<rect x="208.80" y="454.75" width="1.20" height="1.30" fill="#7a84a8" />
<rect x="221.60" y="454.75" width="1.20" height="1.30" fill="#7a84a8" />
<rect x="224.60" y="454.75" width="1.20" height="1.30" fill="#7a84a8" />
<rect x="226.60" y="454.75" width="1.20" height="1.30" fill="#7a84a8" />
<rect x="230.20" y="454.75" width="1.20" height="1.30" fill="#7a84a8" />
<rect x="241.60" y="454.75" width="1.20" height="1.30" fill="#7a84a8" />
<rect x="258.80" y="454.75" width="1.20" height="1.30" fill="#7a84a8" />
<rect x="267.40" y="454.75" width="1.20" height="1.30" fill="#7a84a8" />
<rect x="277.40" y="454.75" width="1.20" height="1.30" fill="#7a84a8" />
<rect x="280.40" y="454.75" width="1.20" height="1.30" fill="#7a84a8" />
<rect x="282.40" y="454.75" width="1.20" height="1.30" fill="#7a84a8" />
<rect x="96.50" y="457.45" width="199.30" height="1.50" fill="#fbc67c" />
<rect x="104.10" y="457.55" width="1.20" height="1.30" fill="#7a84a8" />
<rect x="147.90" y="457.55" width="1.20" height="1.30" fill="#7a84a8" />
<rect x="149.80" y="457.55" width="1.20" height="1.30" fill="#7a84a8" />
<rect x="154.90" y="457.55" width="1.20" height="1.30" fill="#7a84a8" />
<rect x="195.20" y="457.55" width="1.20" height="1.30" fill="#7a84a8" />
<rect x="201.00" y="457.55" width="1.20" height="1.30" fill="#7a84a8" />
<rect x="208.80" y="457.55" width="1.20" height="1.30" fill="#7a84a8" />
<rect x="221.60" y="457.55" width="1.20" height="1.30" fill="#7a84a8" />
<rect x="223.00" y="457.55" width="1.20" height="1.30" fill="#7a84a8" />
<rect x="224.60" y="457.55" width="1.20" height="1.30" fill="#7a84a8" />
<rect x="240.20" y="457.55" width="1.20" height="1.30" fill="#7a84a8" />
<rect x="245.20" y="457.55" width="1.20" height="1.30" fill="#7a84a8" />
<rect x="260.20" y="457.55" width="1.20" height="1.30" fill="#7a84a8" />
<rect x="263.80" y="457.55" width="1.20" height="1.30" fill="#7a84a8" />
<rect x="267.40" y="457.55" width="1.20" height="1.30" fill="#7a84a8" />
<rect x="277.40" y="457.55" width="1.20" height="1.30" fill="#7a84a8" />
<rect x="280.40" y="457.55" width="1.20" height="1.30" fill="#7a84a8" />
<rect x="282.40" y="457.55" width="1.20" height="1.30" fill="#7a84a8" />
<rect x="286.00" y="457.55" width="1.20" height="1.30" fill="#7a84a8" />
<rect x="143.50" y="460.25" width="143.80" height="1.50" fill="#fbc67c" />
<rect x="149.80" y="460.35" width="1.20" height="1.30" fill="#7a84a8" />
<rect x="167.10" y="460.35" width="1.20" height="1.30" fill="#7a84a8" />
<rect x="195.20" y="460.35" width="1.20" height="1.30" fill="#7a84a8" />
<rect x="212.50" y="460.35" width="1.20" height="1.30" fill="#7a84a8" />
<rect x="223.00" y="460.35" width="1.20" height="1.30" fill="#7a84a8" />
<rect x="224.60" y="460.35" width="1.20" height="1.30" fill="#7a84a8" />
<rect x="226.60" y="460.35" width="1.20" height="1.30" fill="#7a84a8" />
<rect x="243.20" y="460.35" width="1.20" height="1.30" fill="#7a84a8" />
<rect x="248.80" y="460.35" width="1.20" height="1.30" fill="#7a84a8" />
<rect x="263.80" y="460.35" width="1.20" height="1.30" fill="#7a84a8" />
<rect x="277.40" y="460.35" width="1.20" height="1.30" fill="#7a84a8" />
<rect x="282.40" y="460.35" width="1.20" height="1.30" fill="#7a84a8" />
<rect x="217.70" y="387.10" width="14.80" height="1.40" fill="#2ee0f5" />
<path d="M231.50,385.60 L235.50,387.80 L231.50,390.00 Z" fill="#2ee0f5"/>
<rect x="236.20" y="387.10" width="14.60" height="1.40" fill="#2a4a8a" />
<path d="M249.80,385.60 L253.80,387.80 L249.80,390.00 Z" fill="#2a4a8a"/>
<rect x="254.50" y="387.10" width="14.80" height="1.40" fill="#2a4a8a" />
<path d="M268.30,385.60 L272.30,387.80 L268.30,390.00 Z" fill="#2a4a8a"/>
<rect x="273.00" y="387.10" width="14.80" height="1.40" fill="#2a4a8a" />
<path d="M286.80,385.60 L290.80,387.80 L286.80,390.00 Z" fill="#2a4a8a"/>
<rect x="291.30" y="387.10" width="15.20" height="1.40" fill="#2a4a8a" />
<path d="M305.50,385.60 L309.50,387.80 L305.50,390.00 Z" fill="#2a4a8a"/>
<text x="94.30" y="328.75" font-size="8.3" fill="#111" text-anchor="end" font-weight="normal"  stroke="#111" stroke-width="0.149">Genes</text>
<text x="94.30" y="346.00" font-size="8.3" fill="#111" text-anchor="end" font-weight="normal"  stroke="#111" stroke-width="0.149">OGM ref. allele</text>
<text x="94.30" y="365.00" font-size="8.3" fill="#111" text-anchor="end" font-weight="normal"  stroke="#111" stroke-width="0.149">Reference chr9*</text>
<text x="94.30" y="385.00" font-size="8.3" fill="#111" text-anchor="end" font-weight="normal"  stroke="#111" stroke-width="0.149">OGM <tspan font-style="italic">PAX5</tspan>-ITM allele</text>
<text x="89.50" y="426.00" font-size="10.2" fill="#111" text-anchor="middle" transform="rotate(-90 89.50 426.00)">Molecules</text>
<line x1="217.50" y1="462.50" x2="236.25" y2="462.50" stroke="#36d0e8" stroke-width="1" />
<line x1="217.50" y1="472.80" x2="236.25" y2="472.80" stroke="#36d0e8" stroke-width="1" />
<line x1="217.50" y1="460.50" x2="217.50" y2="464.50" stroke="#36d0e8" stroke-width="0.8" />
<line x1="217.50" y1="470.80" x2="217.50" y2="474.80" stroke="#36d0e8" stroke-width="0.8" />
<line x1="236.25" y1="462.50" x2="310.00" y2="462.50" stroke="#7a9ad0" stroke-width="1" />
<line x1="236.25" y1="472.80" x2="310.00" y2="472.80" stroke="#7a9ad0" stroke-width="1" />
<line x1="236.25" y1="460.50" x2="236.25" y2="464.50" stroke="#7a9ad0" stroke-width="0.8" />
<line x1="254.50" y1="460.50" x2="254.50" y2="464.50" stroke="#7a9ad0" stroke-width="0.8" />
<line x1="273.00" y1="460.50" x2="273.00" y2="464.50" stroke="#7a9ad0" stroke-width="0.8" />
<line x1="291.50" y1="460.50" x2="291.50" y2="464.50" stroke="#7a9ad0" stroke-width="0.8" />
<line x1="310.00" y1="460.50" x2="310.00" y2="464.50" stroke="#7a9ad0" stroke-width="0.8" />
<line x1="310.00" y1="470.80" x2="310.00" y2="474.80" stroke="#7a9ad0" stroke-width="0.8" />
<text x="226.50" y="470.60" font-size="7.7" fill="#111" text-anchor="middle" font-weight="normal"  stroke="#111" stroke-width="0.139">21.3</text>
<text x="245.20" y="470.60" font-size="7.7" fill="#111" text-anchor="middle" font-weight="normal"  stroke="#111" stroke-width="0.139">21.3</text>
<text x="263.60" y="470.60" font-size="7.7" fill="#111" text-anchor="middle" font-weight="normal"  stroke="#111" stroke-width="0.139">21.3</text>
<text x="282.00" y="470.60" font-size="7.7" fill="#111" text-anchor="middle" font-weight="normal"  stroke="#111" stroke-width="0.139">21.3</text>
<text x="300.50" y="470.60" font-size="7.7" fill="#111" text-anchor="middle" font-weight="normal"  stroke="#111" stroke-width="0.139">21.3</text>
<text x="197.00" y="481.95" font-size="6.95" fill="#111" text-anchor="start" font-weight="normal"  stroke="#111" stroke-width="0.125">Ref. copy</text>
<text x="231.00" y="481.95" font-size="6.95" fill="#111" text-anchor="start" font-weight="normal"  stroke="#111" stroke-width="0.125">4 extra copies: 85.1 kb insertion</text>
<text x="475.00" y="477.85" font-size="10" fill="#111" text-anchor="start" font-weight="normal"  stroke="#111" stroke-width="0.180">Case 1</text>
<line x1="96.50" y1="488.50" x2="510.50" y2="488.50" stroke="#a8bde6" stroke-width="1" />
<line x1="96.50" y1="485.50" x2="96.50" y2="491.50" stroke="#a8bde6" stroke-width="0.8" />
<line x1="510.50" y1="485.50" x2="510.50" y2="491.50" stroke="#a8bde6" stroke-width="0.8" />
<text x="19.00" y="501.75" font-size="8.35" fill="#111" text-anchor="start" font-weight="normal"  stroke="#111" stroke-width="0.150">*hg38 in silico DLE-1 digestions</text>
<text x="290.00" y="501.50" font-size="8.35" fill="#111" text-anchor="start" font-weight="normal"  stroke="#111" stroke-width="0.150">~500 kb</text>
<text x="10.90" y="538.50" font-size="15.6" fill="#000" text-anchor="start" font-weight="bold" stroke="#000" stroke-width="0.35">C</text>
<rect x="99.00" y="534.50" width="408.00" height="67.20" fill="#f3f1ef" />
<rect x="128.35" y="565.00" width="0.70" height="9.50" fill="#d6d6d6" />
<rect x="149.55" y="565.00" width="0.70" height="9.50" fill="#d6d6d6" />
<rect x="151.45" y="565.00" width="0.70" height="9.50" fill="#d6d6d6" />
<rect x="168.75" y="565.00" width="0.70" height="9.50" fill="#d6d6d6" />
<rect x="184.45" y="565.00" width="0.70" height="9.50" fill="#d6d6d6" />
<rect x="202.65" y="565.00" width="0.70" height="9.50" fill="#d6d6d6" />
<rect x="210.45" y="565.00" width="0.70" height="9.50" fill="#d6d6d6" />
<rect x="214.15" y="565.00" width="0.70" height="9.50" fill="#d6d6d6" />
<rect x="224.65" y="565.00" width="0.70" height="9.50" fill="#d6d6d6" />
<rect x="228.25" y="565.00" width="0.70" height="9.50" fill="#d6d6d6" />
<rect x="231.85" y="565.00" width="0.70" height="9.50" fill="#d6d6d6" />
<rect x="248.85" y="565.00" width="0.70" height="9.50" fill="#d6d6d6" />
<rect x="259.55" y="565.00" width="0.70" height="9.50" fill="#d6d6d6" />
<rect x="284.85" y="565.00" width="0.70" height="9.50" fill="#d6d6d6" />
<rect x="291.85" y="565.00" width="0.70" height="9.50" fill="#d6d6d6" />
<rect x="294.95" y="565.00" width="0.70" height="9.50" fill="#d6d6d6" />
<rect x="300.95" y="565.00" width="0.70" height="9.50" fill="#d6d6d6" />
<rect x="305.05" y="565.00" width="0.70" height="9.50" fill="#d6d6d6" />
<rect x="307.65" y="565.00" width="0.70" height="9.50" fill="#d6d6d6" />
<rect x="314.15" y="565.00" width="0.70" height="9.50" fill="#d6d6d6" />
<rect x="317.15" y="565.00" width="0.70" height="9.50" fill="#d6d6d6" />
<rect x="321.15" y="565.00" width="0.70" height="9.50" fill="#d6d6d6" />
<rect x="324.25" y="565.00" width="0.70" height="9.50" fill="#d6d6d6" />
<rect x="330.65" y="565.00" width="0.70" height="9.50" fill="#d6d6d6" />
<rect x="336.35" y="565.00" width="0.70" height="9.50" fill="#d6d6d6" />
<rect x="339.35" y="565.00" width="0.70" height="9.50" fill="#d6d6d6" />
<rect x="343.45" y="565.00" width="0.70" height="9.50" fill="#d6d6d6" />
<rect x="345.45" y="565.00" width="0.70" height="9.50" fill="#d6d6d6" />
<rect x="347.45" y="565.00" width="0.70" height="9.50" fill="#d6d6d6" />
<rect x="355.55" y="565.00" width="0.70" height="9.50" fill="#d6d6d6" />
<rect x="358.95" y="565.00" width="0.70" height="9.50" fill="#d6d6d6" />
<rect x="364.65" y="565.00" width="0.70" height="9.50" fill="#d6d6d6" />
<rect x="366.25" y="565.00" width="0.70" height="9.50" fill="#d6d6d6" />
<rect x="368.25" y="565.00" width="0.70" height="9.50" fill="#d6d6d6" />
<rect x="371.65" y="565.00" width="0.70" height="9.50" fill="#d6d6d6" />
<rect x="406.05" y="565.00" width="0.70" height="9.50" fill="#d6d6d6" />
<rect x="408.05" y="565.00" width="0.70" height="9.50" fill="#d6d6d6" />
<rect x="410.05" y="565.00" width="0.70" height="9.50" fill="#d6d6d6" />
<rect x="416.15" y="565.00" width="0.70" height="9.50" fill="#d6d6d6" />
<rect x="421.15" y="565.00" width="0.70" height="9.50" fill="#d6d6d6" />
<rect x="425.25" y="565.00" width="0.70" height="9.50" fill="#d6d6d6" />
<rect x="428.25" y="565.00" width="0.70" height="9.50" fill="#d6d6d6" />
<rect x="431.25" y="565.00" width="0.70" height="9.50" fill="#d6d6d6" />
<rect x="434.35" y="565.00" width="0.70" height="9.50" fill="#d6d6d6" />
<rect x="441.35" y="565.00" width="0.70" height="9.50" fill="#d6d6d6" />
<rect x="444.45" y="565.00" width="0.70" height="9.50" fill="#d6d6d6" />
<rect x="464.65" y="565.00" width="0.70" height="9.50" fill="#d6d6d6" />
<rect x="468.65" y="565.00" width="0.70" height="9.50" fill="#d6d6d6" />
<rect x="471.65" y="565.00" width="0.70" height="9.50" fill="#d6d6d6" />
<rect x="474.75" y="565.00" width="0.70" height="9.50" fill="#d6d6d6" />
<rect x="478.75" y="565.00" width="0.70" height="9.50" fill="#d6d6d6" />
<rect x="481.75" y="565.00" width="0.70" height="9.50" fill="#d6d6d6" />
<rect x="498.95" y="565.00" width="0.70" height="9.50" fill="#d6d6d6" />
<rect x="504.95" y="565.00" width="0.70" height="9.50" fill="#d6d6d6" />
<rect x="99.00" y="536.50" width="408.00" height="0.90" fill="#fdfcfb" />
<rect x="99.00" y="546.85" width="408.00" height="0.90" fill="#fdfcfb" />
<rect x="99.00" y="555.25" width="408.00" height="0.90" fill="#fdfcfb" />
<rect x="99.00" y="565.10" width="408.00" height="0.90" fill="#fdfcfb" />
<rect x="99.00" y="573.50" width="408.00" height="0.90" fill="#fdfcfb" />
<rect x="99.00" y="583.30" width="408.00" height="0.90" fill="#fdfcfb" />
<rect x="99.00" y="592.20" width="408.00" height="0.90" fill="#fdfcfb" />
<rect x="99.00" y="601.80" width="408.00" height="0.90" fill="#fdfcfb" />
<rect x="99.00" y="537.50" width="152.50" height="9.25" fill="#6a5ef2" />
<rect x="291.00" y="537.50" width="9.00" height="9.25" fill="#6a5ef2" />
<rect x="326.00" y="537.50" width="181.00" height="9.25" fill="#6a5ef2" />
<text x="175.25" y="545.23" font-size="8.6" fill="#fff" text-anchor="middle" font-weight="normal" font-style="italic" >PAX5</text>
<text x="415.50" y="545.23" font-size="8.6" fill="#fff" text-anchor="middle" font-weight="normal" font-style="italic" >ZCCHC7</text>
<rect x="99.00" y="556.25" width="408.00" height="8.75" fill="#66c6ee" />
<rect x="105.45" y="556.25" width="1.30" height="8.75" fill="#2f72aa" />
<rect x="128.05" y="556.25" width="1.30" height="8.75" fill="#2f72aa" />
<rect x="149.10" y="556.25" width="1.60" height="8.75" fill="#2f72aa" />
<rect x="151.00" y="556.25" width="1.60" height="8.75" fill="#2f72aa" />
<rect x="156.10" y="556.25" width="1.60" height="8.75" fill="#2f72aa" />
<rect x="168.65" y="556.25" width="0.90" height="8.75" fill="#2f72aa" />
<rect x="184.30" y="556.25" width="1.00" height="8.75" fill="#2f72aa" />
<rect x="195.65" y="556.25" width="0.90" height="8.75" fill="#2f72aa" />
<rect x="196.55" y="556.25" width="1.30" height="8.75" fill="#3f7fe0" />
<rect x="197.60" y="556.25" width="1.60" height="8.75" fill="#2f72aa" />
<rect x="202.20" y="556.25" width="1.60" height="8.75" fill="#2f72aa" />
<rect x="210.00" y="556.25" width="1.60" height="8.75" fill="#2f72aa" />
<rect x="214.05" y="556.25" width="0.90" height="8.75" fill="#2f72aa" />
<rect x="223.10" y="556.25" width="1.00" height="8.75" fill="#2f72aa" />
<rect x="224.35" y="556.25" width="1.30" height="8.75" fill="#2f72aa" />
<rect x="225.80" y="556.25" width="1.60" height="8.75" fill="#2f72aa" />
<rect x="227.80" y="556.25" width="1.60" height="8.75" fill="#2f72aa" />
<rect x="231.65" y="556.25" width="1.10" height="8.75" fill="#2f72aa" />
<rect x="248.75" y="556.25" width="0.90" height="8.75" fill="#2f72aa" />
<rect x="259.35" y="556.25" width="1.10" height="8.75" fill="#2f72aa" />
<rect x="270.20" y="556.25" width="1.60" height="8.75" fill="#3f7fe0" />
<rect x="272.95" y="556.25" width="0.90" height="8.75" fill="#2f72aa" />
<rect x="283.55" y="556.25" width="1.10" height="8.75" fill="#2f72aa" />
<rect x="284.40" y="556.25" width="1.60" height="8.75" fill="#2f72aa" />
<rect x="288.75" y="556.25" width="0.90" height="8.75" fill="#2f72aa" />
<rect x="291.75" y="556.25" width="0.90" height="8.75" fill="#2f72aa" />
<rect x="294.75" y="556.25" width="1.10" height="8.75" fill="#2f72aa" />
<rect x="297.85" y="556.25" width="0.90" height="8.75" fill="#2f72aa" />
<rect x="300.85" y="556.25" width="0.90" height="8.75" fill="#2f72aa" />
<rect x="304.95" y="556.25" width="0.90" height="8.75" fill="#2f72aa" />
<rect x="307.35" y="556.25" width="1.30" height="8.75" fill="#2f72aa" />
<rect x="309.60" y="556.25" width="1.60" height="8.75" fill="#2f72aa" />
<rect x="313.95" y="556.25" width="1.10" height="8.75" fill="#2f72aa" />
<rect x="316.95" y="556.25" width="1.10" height="8.75" fill="#2f72aa" />
<rect x="318.25" y="556.25" width="1.30" height="8.75" fill="#2f72aa" />
<rect x="321.05" y="556.25" width="0.90" height="8.75" fill="#2f72aa" />
<rect x="324.15" y="556.25" width="0.90" height="8.75" fill="#2f72aa" />
<rect x="325.95" y="556.25" width="1.30" height="8.75" fill="#2f72aa" />
<rect x="328.50" y="556.25" width="1.00" height="8.75" fill="#2f72aa" />
<rect x="330.50" y="556.25" width="1.00" height="8.75" fill="#2f72aa" />
<rect x="333.20" y="556.25" width="1.00" height="8.75" fill="#3f7fe0" />
<rect x="336.20" y="556.25" width="1.00" height="8.75" fill="#2f72aa" />
<rect x="339.05" y="556.25" width="1.30" height="8.75" fill="#2f72aa" />
<rect x="341.05" y="556.25" width="1.30" height="8.75" fill="#3f7fe0" />
<rect x="343.35" y="556.25" width="0.90" height="8.75" fill="#2f72aa" />
<rect x="345.00" y="556.25" width="1.60" height="8.75" fill="#2f72aa" />
<rect x="347.35" y="556.25" width="0.90" height="8.75" fill="#2f72aa" />
<rect x="349.75" y="556.25" width="1.30" height="8.75" fill="#3f7fe0" />
<rect x="352.40" y="556.25" width="1.60" height="8.75" fill="#2f72aa" />
<rect x="355.45" y="556.25" width="0.90" height="8.75" fill="#2f72aa" />
<rect x="358.80" y="556.25" width="1.00" height="8.75" fill="#2f72aa" />
<rect x="364.45" y="556.25" width="1.10" height="8.75" fill="#2f72aa" />
<rect x="365.80" y="556.25" width="1.60" height="8.75" fill="#2f72aa" />
<rect x="368.05" y="556.25" width="1.10" height="8.75" fill="#2f72aa" />
<rect x="371.55" y="556.25" width="0.90" height="8.75" fill="#2f72aa" />
<rect x="376.30" y="556.25" width="1.60" height="8.75" fill="#2f72aa" />
<rect x="380.25" y="556.25" width="0.90" height="8.75" fill="#2f72aa" />
<rect x="384.25" y="556.25" width="1.10" height="8.75" fill="#2f72aa" />
<rect x="387.70" y="556.25" width="1.00" height="8.75" fill="#3f7fe0" />
<rect x="390.55" y="556.25" width="1.30" height="8.75" fill="#2f72aa" />
<rect x="394.80" y="556.25" width="1.00" height="8.75" fill="#2f72aa" />
<rect x="398.80" y="556.25" width="1.00" height="8.75" fill="#2f72aa" />
<rect x="402.75" y="556.25" width="1.10" height="8.75" fill="#3f7fe0" />
<rect x="405.60" y="556.25" width="1.60" height="8.75" fill="#2f72aa" />
<rect x="407.90" y="556.25" width="1.00" height="8.75" fill="#2f72aa" />
<rect x="409.60" y="556.25" width="1.60" height="8.75" fill="#2f72aa" />
<rect x="413.85" y="556.25" width="1.30" height="8.75" fill="#3f7fe0" />
<rect x="415.70" y="556.25" width="1.60" height="8.75" fill="#2f72aa" />
<rect x="421.05" y="556.25" width="0.90" height="8.75" fill="#2f72aa" />
<rect x="425.15" y="556.25" width="0.90" height="8.75" fill="#2f72aa" />
<rect x="428.05" y="556.25" width="1.10" height="8.75" fill="#2f72aa" />
<rect x="430.95" y="556.25" width="1.30" height="8.75" fill="#2f72aa" />
<rect x="433.90" y="556.25" width="1.60" height="8.75" fill="#2f72aa" />
<rect x="440.90" y="556.25" width="1.60" height="8.75" fill="#2f72aa" />
<rect x="444.35" y="556.25" width="0.90" height="8.75" fill="#2f72aa" />
<rect x="450.15" y="556.25" width="1.30" height="8.75" fill="#2f72aa" />
<rect x="462.10" y="556.25" width="1.60" height="8.75" fill="#2f72aa" />
<rect x="464.45" y="556.25" width="1.10" height="8.75" fill="#2f72aa" />
<rect x="466.50" y="556.25" width="1.00" height="8.75" fill="#2f72aa" />
<rect x="468.55" y="556.25" width="0.90" height="8.75" fill="#2f72aa" />
<rect x="471.35" y="556.25" width="1.30" height="8.75" fill="#2f72aa" />
<rect x="474.65" y="556.25" width="0.90" height="8.75" fill="#2f72aa" />
<rect x="478.55" y="556.25" width="1.10" height="8.75" fill="#2f72aa" />
<rect x="481.60" y="556.25" width="1.00" height="8.75" fill="#2f72aa" />
<rect x="483.60" y="556.25" width="1.00" height="8.75" fill="#3f7fe0" />
<rect x="486.65" y="556.25" width="1.10" height="8.75" fill="#2f72aa" />
<rect x="488.40" y="556.25" width="1.60" height="8.75" fill="#2f72aa" />
<rect x="494.80" y="556.25" width="1.00" height="8.75" fill="#2f72aa" />
<rect x="498.85" y="556.25" width="0.90" height="8.75" fill="#2f72aa" />
<rect x="502.75" y="556.25" width="1.10" height="8.75" fill="#2f72aa" />
<rect x="504.85" y="556.25" width="0.90" height="8.75" fill="#2f72aa" />
<line x1="100.68" y1="573.20" x2="100.68" y2="574.50" stroke="#333" stroke-width="0.7" />
<line x1="109.36" y1="573.20" x2="109.36" y2="574.50" stroke="#333" stroke-width="0.7" />
<line x1="118.04" y1="573.20" x2="118.04" y2="574.50" stroke="#333" stroke-width="0.7" />
<line x1="126.72" y1="573.20" x2="126.72" y2="574.50" stroke="#333" stroke-width="0.7" />
<line x1="135.40" y1="571.00" x2="135.40" y2="574.50" stroke="#333" stroke-width="0.7" />
<text x="135.60" y="570.90" font-size="3.5" fill="#222" font-weight="bold" transform="rotate(-40 135.60 570.90)">37.0M</text>
<line x1="144.08" y1="573.20" x2="144.08" y2="574.50" stroke="#333" stroke-width="0.7" />
<line x1="152.76" y1="573.20" x2="152.76" y2="574.50" stroke="#333" stroke-width="0.7" />
<line x1="161.44" y1="573.20" x2="161.44" y2="574.50" stroke="#333" stroke-width="0.7" />
<line x1="170.12" y1="573.20" x2="170.12" y2="574.50" stroke="#333" stroke-width="0.7" />
<line x1="178.80" y1="571.00" x2="178.80" y2="574.50" stroke="#333" stroke-width="0.7" />
<text x="179.00" y="570.90" font-size="3.5" fill="#222" font-weight="bold" transform="rotate(-40 179.00 570.90)">37.0M</text>
<line x1="187.48" y1="573.20" x2="187.48" y2="574.50" stroke="#333" stroke-width="0.7" />
<line x1="196.16" y1="573.20" x2="196.16" y2="574.50" stroke="#333" stroke-width="0.7" />
<line x1="204.84" y1="573.20" x2="204.84" y2="574.50" stroke="#333" stroke-width="0.7" />
<line x1="213.52" y1="573.20" x2="213.52" y2="574.50" stroke="#333" stroke-width="0.7" />
<line x1="222.20" y1="571.00" x2="222.20" y2="574.50" stroke="#333" stroke-width="0.7" />
<text x="222.40" y="570.90" font-size="3.5" fill="#222" font-weight="bold" transform="rotate(-40 222.40 570.90)">37.0M</text>
<line x1="230.88" y1="573.20" x2="230.88" y2="574.50" stroke="#333" stroke-width="0.7" />
<line x1="239.56" y1="573.20" x2="239.56" y2="574.50" stroke="#333" stroke-width="0.7" />
<line x1="248.24" y1="573.20" x2="248.24" y2="574.50" stroke="#333" stroke-width="0.7" />
<line x1="256.92" y1="573.20" x2="256.92" y2="574.50" stroke="#333" stroke-width="0.7" />
<line x1="265.60" y1="571.00" x2="265.60" y2="574.50" stroke="#333" stroke-width="0.7" />
<text x="265.80" y="570.90" font-size="3.5" fill="#222" font-weight="bold" transform="rotate(-40 265.80 570.90)">37.0M</text>
<line x1="274.28" y1="573.20" x2="274.28" y2="574.50" stroke="#333" stroke-width="0.7" />
<line x1="282.96" y1="573.20" x2="282.96" y2="574.50" stroke="#333" stroke-width="0.7" />
<line x1="291.64" y1="573.20" x2="291.64" y2="574.50" stroke="#333" stroke-width="0.7" />
<line x1="300.32" y1="573.20" x2="300.32" y2="574.50" stroke="#333" stroke-width="0.7" />
<line x1="309.00" y1="571.00" x2="309.00" y2="574.50" stroke="#333" stroke-width="0.7" />
<text x="309.20" y="570.90" font-size="3.5" fill="#222" font-weight="bold" transform="rotate(-40 309.20 570.90)">37.0M</text>
<line x1="317.68" y1="573.20" x2="317.68" y2="574.50" stroke="#333" stroke-width="0.7" />
<line x1="326.36" y1="573.20" x2="326.36" y2="574.50" stroke="#333" stroke-width="0.7" />
<line x1="335.04" y1="573.20" x2="335.04" y2="574.50" stroke="#333" stroke-width="0.7" />
<line x1="343.72" y1="573.20" x2="343.72" y2="574.50" stroke="#333" stroke-width="0.7" />
<line x1="352.40" y1="571.00" x2="352.40" y2="574.50" stroke="#333" stroke-width="0.7" />
<text x="352.60" y="570.90" font-size="3.5" fill="#222" font-weight="bold" transform="rotate(-40 352.60 570.90)">37.0M</text>
<line x1="361.08" y1="573.20" x2="361.08" y2="574.50" stroke="#333" stroke-width="0.7" />
<line x1="369.76" y1="573.20" x2="369.76" y2="574.50" stroke="#333" stroke-width="0.7" />
<line x1="378.44" y1="573.20" x2="378.44" y2="574.50" stroke="#333" stroke-width="0.7" />
<line x1="387.12" y1="573.20" x2="387.12" y2="574.50" stroke="#333" stroke-width="0.7" />
<line x1="395.80" y1="571.00" x2="395.80" y2="574.50" stroke="#333" stroke-width="0.7" />
<text x="396.00" y="570.90" font-size="3.5" fill="#222" font-weight="bold" transform="rotate(-40 396.00 570.90)">37.0M</text>
<line x1="404.48" y1="573.20" x2="404.48" y2="574.50" stroke="#333" stroke-width="0.7" />
<line x1="413.16" y1="573.20" x2="413.16" y2="574.50" stroke="#333" stroke-width="0.7" />
<line x1="421.84" y1="573.20" x2="421.84" y2="574.50" stroke="#333" stroke-width="0.7" />
<line x1="430.52" y1="573.20" x2="430.52" y2="574.50" stroke="#333" stroke-width="0.7" />
<line x1="439.20" y1="571.00" x2="439.20" y2="574.50" stroke="#333" stroke-width="0.7" />
<text x="439.40" y="570.90" font-size="3.5" fill="#222" font-weight="bold" transform="rotate(-40 439.40 570.90)">37.0M</text>
<line x1="447.88" y1="573.20" x2="447.88" y2="574.50" stroke="#333" stroke-width="0.7" />
<line x1="456.56" y1="573.20" x2="456.56" y2="574.50" stroke="#333" stroke-width="0.7" />
<line x1="465.24" y1="573.20" x2="465.24" y2="574.50" stroke="#333" stroke-width="0.7" />
<line x1="473.92" y1="573.20" x2="473.92" y2="574.50" stroke="#333" stroke-width="0.7" />
<line x1="482.60" y1="571.00" x2="482.60" y2="574.50" stroke="#333" stroke-width="0.7" />
<text x="482.80" y="570.90" font-size="3.5" fill="#222" font-weight="bold" transform="rotate(-40 482.80 570.90)">37.0M</text>
<line x1="491.28" y1="573.20" x2="491.28" y2="574.50" stroke="#333" stroke-width="0.7" />
<line x1="499.96" y1="573.20" x2="499.96" y2="574.50" stroke="#333" stroke-width="0.7" />
<rect x="99.00" y="574.50" width="408.00" height="8.70" fill="#8dc63f" />
<rect x="105.45" y="574.50" width="1.30" height="8.70" fill="#467a50" />
<rect x="128.05" y="574.50" width="1.30" height="8.70" fill="#3a8264" />
<rect x="149.10" y="574.50" width="1.60" height="8.70" fill="#3a8264" />
<rect x="151.00" y="574.50" width="1.60" height="8.70" fill="#3a8264" />
<rect x="156.10" y="574.50" width="1.60" height="8.70" fill="#467a50" />
<rect x="168.65" y="574.50" width="0.90" height="8.70" fill="#3a8264" />
<rect x="184.30" y="574.50" width="1.00" height="8.70" fill="#3a8264" />
<rect x="195.65" y="574.50" width="0.90" height="8.70" fill="#3a8264" />
<rect x="196.55" y="574.50" width="1.30" height="8.70" fill="#467a50" />
<rect x="197.60" y="574.50" width="1.60" height="8.70" fill="#3a8264" />
<rect x="202.20" y="574.50" width="1.60" height="8.70" fill="#3a8264" />
<rect x="210.00" y="574.50" width="1.60" height="8.70" fill="#3a8264" />
<rect x="214.05" y="574.50" width="0.90" height="8.70" fill="#3a8264" />
<rect x="223.10" y="574.50" width="1.00" height="8.70" fill="#3a8264" />
<rect x="224.35" y="574.50" width="1.30" height="8.70" fill="#3a8264" />
<rect x="225.80" y="574.50" width="1.60" height="8.70" fill="#467a50" />
<rect x="227.80" y="574.50" width="1.60" height="8.70" fill="#3a8264" />
<rect x="231.65" y="574.50" width="1.10" height="8.70" fill="#3a8264" />
<rect x="248.75" y="574.50" width="0.90" height="8.70" fill="#3a8264" />
<rect x="259.35" y="574.50" width="1.10" height="8.70" fill="#3a8264" />
<rect x="270.20" y="574.50" width="1.60" height="8.70" fill="#467a50" />
<rect x="272.95" y="574.50" width="0.90" height="8.70" fill="#467a50" />
<rect x="283.55" y="574.50" width="1.10" height="8.70" fill="#467a50" />
<rect x="284.40" y="574.50" width="1.60" height="8.70" fill="#3a8264" />
<rect x="288.75" y="574.50" width="0.90" height="8.70" fill="#3a8264" />
<rect x="291.75" y="574.50" width="0.90" height="8.70" fill="#3a8264" />
<rect x="294.75" y="574.50" width="1.10" height="8.70" fill="#3a8264" />
<rect x="297.85" y="574.50" width="0.90" height="8.70" fill="#467a50" />
<rect x="300.85" y="574.50" width="0.90" height="8.70" fill="#3a8264" />
<rect x="304.95" y="574.50" width="0.90" height="8.70" fill="#3a8264" />
<rect x="307.35" y="574.50" width="1.30" height="8.70" fill="#3a8264" />
<rect x="309.60" y="574.50" width="1.60" height="8.70" fill="#3a8264" />
<rect x="313.95" y="574.50" width="1.10" height="8.70" fill="#3a8264" />
<rect x="316.95" y="574.50" width="1.10" height="8.70" fill="#3a8264" />
<rect x="318.25" y="574.50" width="1.30" height="8.70" fill="#467a50" />
<rect x="321.05" y="574.50" width="0.90" height="8.70" fill="#3a8264" />
<rect x="324.15" y="574.50" width="0.90" height="8.70" fill="#3a8264" />
<rect x="325.95" y="574.50" width="1.30" height="8.70" fill="#467a50" />
<rect x="328.50" y="574.50" width="1.00" height="8.70" fill="#3a8264" />
<rect x="330.50" y="574.50" width="1.00" height="8.70" fill="#3a8264" />
<rect x="333.20" y="574.50" width="1.00" height="8.70" fill="#467a50" />
<rect x="336.20" y="574.50" width="1.00" height="8.70" fill="#3a8264" />
<rect x="339.05" y="574.50" width="1.30" height="8.70" fill="#3a8264" />
<rect x="341.05" y="574.50" width="1.30" height="8.70" fill="#467a50" />
<rect x="343.35" y="574.50" width="0.90" height="8.70" fill="#3a8264" />
<rect x="345.00" y="574.50" width="1.60" height="8.70" fill="#3a8264" />
<rect x="347.35" y="574.50" width="0.90" height="8.70" fill="#3a8264" />
<rect x="349.75" y="574.50" width="1.30" height="8.70" fill="#467a50" />
<rect x="352.40" y="574.50" width="1.60" height="8.70" fill="#3a8264" />
<rect x="355.45" y="574.50" width="0.90" height="8.70" fill="#3a8264" />
<rect x="358.80" y="574.50" width="1.00" height="8.70" fill="#3a8264" />
<rect x="364.45" y="574.50" width="1.10" height="8.70" fill="#3a8264" />
<rect x="365.80" y="574.50" width="1.60" height="8.70" fill="#3a8264" />
<rect x="368.05" y="574.50" width="1.10" height="8.70" fill="#3a8264" />
<rect x="371.55" y="574.50" width="0.90" height="8.70" fill="#3a8264" />
<rect x="376.30" y="574.50" width="1.60" height="8.70" fill="#3a8264" />
<rect x="380.25" y="574.50" width="0.90" height="8.70" fill="#3a8264" />
<rect x="384.25" y="574.50" width="1.10" height="8.70" fill="#3a8264" />
<rect x="387.70" y="574.50" width="1.00" height="8.70" fill="#467a50" />
<rect x="390.55" y="574.50" width="1.30" height="8.70" fill="#467a50" />
<rect x="394.80" y="574.50" width="1.00" height="8.70" fill="#467a50" />
<rect x="398.80" y="574.50" width="1.00" height="8.70" fill="#3a8264" />
<rect x="402.75" y="574.50" width="1.10" height="8.70" fill="#467a50" />
<rect x="405.60" y="574.50" width="1.60" height="8.70" fill="#3a8264" />
<rect x="407.90" y="574.50" width="1.00" height="8.70" fill="#3a8264" />
<rect x="409.60" y="574.50" width="1.60" height="8.70" fill="#3a8264" />
<rect x="413.85" y="574.50" width="1.30" height="8.70" fill="#467a50" />
<rect x="415.70" y="574.50" width="1.60" height="8.70" fill="#3a8264" />
<rect x="421.05" y="574.50" width="0.90" height="8.70" fill="#3a8264" />
<rect x="425.15" y="574.50" width="0.90" height="8.70" fill="#3a8264" />
<rect x="428.05" y="574.50" width="1.10" height="8.70" fill="#3a8264" />
<rect x="430.95" y="574.50" width="1.30" height="8.70" fill="#3a8264" />
<rect x="433.90" y="574.50" width="1.60" height="8.70" fill="#3a8264" />
<rect x="440.90" y="574.50" width="1.60" height="8.70" fill="#3a8264" />
<rect x="444.35" y="574.50" width="0.90" height="8.70" fill="#3a8264" />
<rect x="450.15" y="574.50" width="1.30" height="8.70" fill="#3a8264" />
<rect x="462.10" y="574.50" width="1.60" height="8.70" fill="#3a8264" />
<rect x="464.45" y="574.50" width="1.10" height="8.70" fill="#3a8264" />
<rect x="466.50" y="574.50" width="1.00" height="8.70" fill="#467a50" />
<rect x="468.55" y="574.50" width="0.90" height="8.70" fill="#3a8264" />
<rect x="471.35" y="574.50" width="1.30" height="8.70" fill="#3a8264" />
<rect x="474.65" y="574.50" width="0.90" height="8.70" fill="#3a8264" />
<rect x="478.55" y="574.50" width="1.10" height="8.70" fill="#3a8264" />
<rect x="481.60" y="574.50" width="1.00" height="8.70" fill="#3a8264" />
<rect x="483.60" y="574.50" width="1.00" height="8.70" fill="#467a50" />
<rect x="486.65" y="574.50" width="1.10" height="8.70" fill="#3a8264" />
<rect x="488.40" y="574.50" width="1.60" height="8.70" fill="#3a8264" />
<rect x="494.80" y="574.50" width="1.00" height="8.70" fill="#3a8264" />
<rect x="498.85" y="574.50" width="0.90" height="8.70" fill="#3a8264" />
<rect x="502.75" y="574.50" width="1.10" height="8.70" fill="#467a50" />
<rect x="504.85" y="574.50" width="0.90" height="8.70" fill="#3a8264" />
<defs><linearGradient id="wgC" x1="246.00" y1="0" x2="360.00" y2="0" gradientUnits="userSpaceOnUse"><stop offset="0" stop-color="#eeeeee"/><stop offset="1" stop-color="#cdcdcd"/></linearGradient></defs>
<path d="M246.00,584.00 L507.00,584.00 L507.00,592.40 L320.00,592.40 Z" fill="url(#wgC)"/>
<clipPath id="cpC"><rect x="99" y="583.2" width="408" height="10.0"/></clipPath>
<g clip-path="url(#cpC)">
<rect x="128.35" y="583.20" width="0.70" height="10.00" fill="#d6d6d6" />
<rect x="149.55" y="583.20" width="0.70" height="10.00" fill="#d6d6d6" />
<rect x="151.45" y="583.20" width="0.70" height="10.00" fill="#d6d6d6" />
<rect x="168.75" y="583.20" width="0.70" height="10.00" fill="#d6d6d6" />
<rect x="184.45" y="583.20" width="0.70" height="10.00" fill="#d6d6d6" />
<rect x="202.65" y="583.20" width="0.70" height="10.00" fill="#d6d6d6" />
<rect x="210.45" y="583.20" width="0.70" height="10.00" fill="#d6d6d6" />
<rect x="214.15" y="583.20" width="0.70" height="10.00" fill="#d6d6d6" />
<line x1="223.60" y1="583.20" x2="342.35" y2="593.20" stroke="#bdbdbd" stroke-width="0.6" />
<line x1="225.00" y1="583.20" x2="343.75" y2="593.20" stroke="#bdbdbd" stroke-width="0.6" />
<line x1="226.60" y1="583.20" x2="345.35" y2="593.20" stroke="#bdbdbd" stroke-width="0.6" />
<line x1="228.60" y1="583.20" x2="347.35" y2="593.20" stroke="#bdbdbd" stroke-width="0.6" />
<line x1="232.20" y1="583.20" x2="350.95" y2="593.20" stroke="#bdbdbd" stroke-width="0.6" />
<line x1="249.20" y1="583.20" x2="367.95" y2="593.20" stroke="#bdbdbd" stroke-width="0.6" />
<line x1="259.90" y1="583.20" x2="378.65" y2="593.20" stroke="#bdbdbd" stroke-width="0.6" />
<line x1="271.00" y1="583.20" x2="389.75" y2="593.20" stroke="#bdbdbd" stroke-width="0.6" />
<line x1="273.40" y1="583.20" x2="392.15" y2="593.20" stroke="#bdbdbd" stroke-width="0.6" />
<line x1="284.10" y1="583.20" x2="402.85" y2="593.20" stroke="#bdbdbd" stroke-width="0.6" />
<line x1="285.20" y1="583.20" x2="403.95" y2="593.20" stroke="#bdbdbd" stroke-width="0.6" />
<line x1="289.20" y1="583.20" x2="407.95" y2="593.20" stroke="#bdbdbd" stroke-width="0.6" />
<line x1="292.20" y1="583.20" x2="410.95" y2="593.20" stroke="#bdbdbd" stroke-width="0.6" />
<line x1="295.30" y1="583.20" x2="414.05" y2="593.20" stroke="#bdbdbd" stroke-width="0.6" />
<line x1="298.30" y1="583.20" x2="417.05" y2="593.20" stroke="#bdbdbd" stroke-width="0.6" />
<line x1="301.30" y1="583.20" x2="420.05" y2="593.20" stroke="#bdbdbd" stroke-width="0.6" />
<line x1="305.40" y1="583.20" x2="424.15" y2="593.20" stroke="#bdbdbd" stroke-width="0.6" />
<line x1="308.00" y1="583.20" x2="426.75" y2="593.20" stroke="#bdbdbd" stroke-width="0.6" />
<line x1="310.40" y1="583.20" x2="429.15" y2="593.20" stroke="#bdbdbd" stroke-width="0.6" />
<line x1="314.50" y1="583.20" x2="433.25" y2="593.20" stroke="#bdbdbd" stroke-width="0.6" />
<line x1="317.50" y1="583.20" x2="436.25" y2="593.20" stroke="#bdbdbd" stroke-width="0.6" />
<line x1="318.90" y1="583.20" x2="437.65" y2="593.20" stroke="#bdbdbd" stroke-width="0.6" />
<line x1="321.50" y1="583.20" x2="440.25" y2="593.20" stroke="#bdbdbd" stroke-width="0.6" />
<line x1="324.60" y1="583.20" x2="443.35" y2="593.20" stroke="#bdbdbd" stroke-width="0.6" />
<line x1="326.60" y1="583.20" x2="445.35" y2="593.20" stroke="#bdbdbd" stroke-width="0.6" />
<line x1="329.00" y1="583.20" x2="447.75" y2="593.20" stroke="#bdbdbd" stroke-width="0.6" />
<line x1="331.00" y1="583.20" x2="449.75" y2="593.20" stroke="#bdbdbd" stroke-width="0.6" />
<line x1="333.70" y1="583.20" x2="452.45" y2="593.20" stroke="#bdbdbd" stroke-width="0.6" />
<line x1="336.70" y1="583.20" x2="455.45" y2="593.20" stroke="#bdbdbd" stroke-width="0.6" />
<line x1="339.70" y1="583.20" x2="458.45" y2="593.20" stroke="#bdbdbd" stroke-width="0.6" />
<line x1="341.70" y1="583.20" x2="460.45" y2="593.20" stroke="#bdbdbd" stroke-width="0.6" />
<line x1="343.80" y1="583.20" x2="462.55" y2="593.20" stroke="#bdbdbd" stroke-width="0.6" />
<line x1="345.80" y1="583.20" x2="464.55" y2="593.20" stroke="#bdbdbd" stroke-width="0.6" />
<line x1="347.80" y1="583.20" x2="466.55" y2="593.20" stroke="#bdbdbd" stroke-width="0.6" />
<line x1="350.40" y1="583.20" x2="469.15" y2="593.20" stroke="#bdbdbd" stroke-width="0.6" />
<line x1="353.20" y1="583.20" x2="471.95" y2="593.20" stroke="#bdbdbd" stroke-width="0.6" />
<line x1="355.90" y1="583.20" x2="474.65" y2="593.20" stroke="#bdbdbd" stroke-width="0.6" />
<line x1="359.30" y1="583.20" x2="478.05" y2="593.20" stroke="#bdbdbd" stroke-width="0.6" />
<line x1="365.00" y1="583.20" x2="483.75" y2="593.20" stroke="#bdbdbd" stroke-width="0.6" />
<line x1="366.60" y1="583.20" x2="485.35" y2="593.20" stroke="#bdbdbd" stroke-width="0.6" />
<line x1="368.60" y1="583.20" x2="487.35" y2="593.20" stroke="#bdbdbd" stroke-width="0.6" />
<line x1="372.00" y1="583.20" x2="490.75" y2="593.20" stroke="#bdbdbd" stroke-width="0.6" />
<line x1="377.10" y1="583.20" x2="495.85" y2="593.20" stroke="#bdbdbd" stroke-width="0.6" />
<line x1="380.70" y1="583.20" x2="499.45" y2="593.20" stroke="#bdbdbd" stroke-width="0.6" />
<line x1="384.80" y1="583.20" x2="503.55" y2="593.20" stroke="#bdbdbd" stroke-width="0.6" />
<line x1="388.20" y1="583.20" x2="506.95" y2="593.20" stroke="#bdbdbd" stroke-width="0.6" />
<line x1="391.20" y1="583.20" x2="509.95" y2="593.20" stroke="#bdbdbd" stroke-width="0.6" />
<line x1="395.30" y1="583.20" x2="514.05" y2="593.20" stroke="#bdbdbd" stroke-width="0.6" />
<line x1="399.30" y1="583.20" x2="518.05" y2="593.20" stroke="#bdbdbd" stroke-width="0.6" />
<line x1="403.30" y1="583.20" x2="522.05" y2="593.20" stroke="#bdbdbd" stroke-width="0.6" />
<line x1="406.40" y1="583.20" x2="525.15" y2="593.20" stroke="#bdbdbd" stroke-width="0.6" />
<line x1="408.40" y1="583.20" x2="527.15" y2="593.20" stroke="#bdbdbd" stroke-width="0.6" />
<line x1="410.40" y1="583.20" x2="529.15" y2="593.20" stroke="#bdbdbd" stroke-width="0.6" />
<line x1="414.50" y1="583.20" x2="533.25" y2="593.20" stroke="#bdbdbd" stroke-width="0.6" />
<line x1="416.50" y1="583.20" x2="535.25" y2="593.20" stroke="#bdbdbd" stroke-width="0.6" />
<line x1="421.50" y1="583.20" x2="540.25" y2="593.20" stroke="#bdbdbd" stroke-width="0.6" />
<line x1="425.60" y1="583.20" x2="544.35" y2="593.20" stroke="#bdbdbd" stroke-width="0.6" />
<line x1="428.60" y1="583.20" x2="547.35" y2="593.20" stroke="#bdbdbd" stroke-width="0.6" />
<line x1="431.60" y1="583.20" x2="550.35" y2="593.20" stroke="#bdbdbd" stroke-width="0.6" />
<line x1="434.70" y1="583.20" x2="553.45" y2="593.20" stroke="#bdbdbd" stroke-width="0.6" />
<line x1="441.70" y1="583.20" x2="560.45" y2="593.20" stroke="#bdbdbd" stroke-width="0.6" />
<line x1="444.80" y1="583.20" x2="563.55" y2="593.20" stroke="#bdbdbd" stroke-width="0.6" />
<line x1="450.80" y1="583.20" x2="569.55" y2="593.20" stroke="#bdbdbd" stroke-width="0.6" />
<line x1="462.90" y1="583.20" x2="581.65" y2="593.20" stroke="#bdbdbd" stroke-width="0.6" />
<line x1="465.00" y1="583.20" x2="583.75" y2="593.20" stroke="#bdbdbd" stroke-width="0.6" />
<line x1="467.00" y1="583.20" x2="585.75" y2="593.20" stroke="#bdbdbd" stroke-width="0.6" />
<line x1="469.00" y1="583.20" x2="587.75" y2="593.20" stroke="#bdbdbd" stroke-width="0.6" />
<line x1="472.00" y1="583.20" x2="590.75" y2="593.20" stroke="#bdbdbd" stroke-width="0.6" />
<line x1="475.10" y1="583.20" x2="593.85" y2="593.20" stroke="#bdbdbd" stroke-width="0.6" />
<line x1="479.10" y1="583.20" x2="597.85" y2="593.20" stroke="#bdbdbd" stroke-width="0.6" />
<line x1="482.10" y1="583.20" x2="600.85" y2="593.20" stroke="#bdbdbd" stroke-width="0.6" />
<line x1="484.10" y1="583.20" x2="602.85" y2="593.20" stroke="#bdbdbd" stroke-width="0.6" />
<line x1="487.20" y1="583.20" x2="605.95" y2="593.20" stroke="#bdbdbd" stroke-width="0.6" />
<line x1="489.20" y1="583.20" x2="607.95" y2="593.20" stroke="#bdbdbd" stroke-width="0.6" />
<line x1="495.30" y1="583.20" x2="614.05" y2="593.20" stroke="#bdbdbd" stroke-width="0.6" />
<line x1="499.30" y1="583.20" x2="618.05" y2="593.20" stroke="#bdbdbd" stroke-width="0.6" />
<line x1="503.30" y1="583.20" x2="622.05" y2="593.20" stroke="#bdbdbd" stroke-width="0.6" />
<line x1="505.30" y1="583.20" x2="624.05" y2="593.20" stroke="#bdbdbd" stroke-width="0.6" />
</g>
<rect x="99.00" y="593.20" width="408.00" height="8.50" fill="#66c6ee" />
<rect x="105.45" y="593.20" width="1.30" height="8.50" fill="#2f72aa" />
<rect x="128.05" y="593.20" width="1.30" height="8.50" fill="#2f72aa" />
<rect x="149.10" y="593.20" width="1.60" height="8.50" fill="#2f72aa" />
<rect x="151.00" y="593.20" width="1.60" height="8.50" fill="#2f72aa" />
<rect x="156.10" y="593.20" width="1.60" height="8.50" fill="#2f72aa" />
<rect x="168.65" y="593.20" width="0.90" height="8.50" fill="#2f72aa" />
<rect x="184.30" y="593.20" width="1.00" height="8.50" fill="#2f72aa" />
<rect x="195.65" y="593.20" width="0.90" height="8.50" fill="#2f72aa" />
<rect x="196.55" y="593.20" width="1.30" height="8.50" fill="#3f7fe0" />
<rect x="197.60" y="593.20" width="1.60" height="8.50" fill="#2f72aa" />
<rect x="202.20" y="593.20" width="1.60" height="8.50" fill="#2f72aa" />
<rect x="210.00" y="593.20" width="1.60" height="8.50" fill="#2f72aa" />
<rect x="214.05" y="593.20" width="0.90" height="8.50" fill="#2f72aa" />
<rect x="223.10" y="593.20" width="1.00" height="8.50" fill="#5f8ff0" />
<rect x="224.35" y="593.20" width="1.30" height="8.50" fill="#5f8ff0" />
<rect x="225.80" y="593.20" width="1.60" height="8.50" fill="#5f8ff0" />
<rect x="227.80" y="593.20" width="1.60" height="8.50" fill="#5f8ff0" />
<rect x="231.65" y="593.20" width="1.10" height="8.50" fill="#5f8ff0" />
<rect x="246.85" y="593.20" width="1.00" height="8.50" fill="#5f8ff0" />
<rect x="248.10" y="593.20" width="1.30" height="8.50" fill="#5f8ff0" />
<rect x="249.55" y="593.20" width="1.60" height="8.50" fill="#5f8ff0" />
<rect x="251.55" y="593.20" width="1.60" height="8.50" fill="#5f8ff0" />
<rect x="255.40" y="593.20" width="1.10" height="8.50" fill="#5f8ff0" />
<rect x="270.60" y="593.20" width="1.00" height="8.50" fill="#5f8ff0" />
<rect x="271.85" y="593.20" width="1.30" height="8.50" fill="#5f8ff0" />
<rect x="273.30" y="593.20" width="1.60" height="8.50" fill="#5f8ff0" />
<rect x="275.30" y="593.20" width="1.60" height="8.50" fill="#5f8ff0" />
<rect x="279.15" y="593.20" width="1.10" height="8.50" fill="#5f8ff0" />
<rect x="294.35" y="593.20" width="1.00" height="8.50" fill="#5f8ff0" />
<rect x="295.60" y="593.20" width="1.30" height="8.50" fill="#5f8ff0" />
<rect x="297.05" y="593.20" width="1.60" height="8.50" fill="#5f8ff0" />
<rect x="299.05" y="593.20" width="1.60" height="8.50" fill="#5f8ff0" />
<rect x="302.90" y="593.20" width="1.10" height="8.50" fill="#5f8ff0" />
<rect x="318.10" y="593.20" width="1.00" height="8.50" fill="#5f8ff0" />
<rect x="319.35" y="593.20" width="1.30" height="8.50" fill="#5f8ff0" />
<rect x="320.80" y="593.20" width="1.60" height="8.50" fill="#5f8ff0" />
<rect x="322.80" y="593.20" width="1.60" height="8.50" fill="#5f8ff0" />
<rect x="326.65" y="593.20" width="1.10" height="8.50" fill="#5f8ff0" />
<rect x="341.85" y="593.20" width="1.00" height="8.50" fill="#5f8ff0" />
<rect x="343.10" y="593.20" width="1.30" height="8.50" fill="#5f8ff0" />
<rect x="344.55" y="593.20" width="1.60" height="8.50" fill="#5f8ff0" />
<rect x="346.55" y="593.20" width="1.60" height="8.50" fill="#5f8ff0" />
<rect x="350.40" y="593.20" width="1.10" height="8.50" fill="#5f8ff0" />
<rect x="367.50" y="593.20" width="0.90" height="8.50" fill="#2f72aa" />
<rect x="378.10" y="593.20" width="1.10" height="8.50" fill="#2f72aa" />
<rect x="388.95" y="593.20" width="1.60" height="8.50" fill="#3f7fe0" />
<rect x="391.70" y="593.20" width="0.90" height="8.50" fill="#2f72aa" />
<rect x="402.30" y="593.20" width="1.10" height="8.50" fill="#2f72aa" />
<rect x="403.15" y="593.20" width="1.60" height="8.50" fill="#2f72aa" />
<rect x="407.50" y="593.20" width="0.90" height="8.50" fill="#2f72aa" />
<rect x="410.50" y="593.20" width="0.90" height="8.50" fill="#2f72aa" />
<rect x="413.50" y="593.20" width="1.10" height="8.50" fill="#2f72aa" />
<rect x="416.60" y="593.20" width="0.90" height="8.50" fill="#2f72aa" />
<rect x="419.60" y="593.20" width="0.90" height="8.50" fill="#2f72aa" />
<rect x="423.70" y="593.20" width="0.90" height="8.50" fill="#2f72aa" />
<rect x="426.10" y="593.20" width="1.30" height="8.50" fill="#2f72aa" />
<rect x="428.35" y="593.20" width="1.60" height="8.50" fill="#2f72aa" />
<rect x="432.70" y="593.20" width="1.10" height="8.50" fill="#2f72aa" />
<rect x="435.70" y="593.20" width="1.10" height="8.50" fill="#2f72aa" />
<rect x="437.00" y="593.20" width="1.30" height="8.50" fill="#2f72aa" />
<rect x="439.80" y="593.20" width="0.90" height="8.50" fill="#2f72aa" />
<rect x="442.90" y="593.20" width="0.90" height="8.50" fill="#2f72aa" />
<rect x="444.70" y="593.20" width="1.30" height="8.50" fill="#2f72aa" />
<rect x="447.25" y="593.20" width="1.00" height="8.50" fill="#2f72aa" />
<rect x="449.25" y="593.20" width="1.00" height="8.50" fill="#2f72aa" />
<rect x="451.95" y="593.20" width="1.00" height="8.50" fill="#3f7fe0" />
<rect x="454.95" y="593.20" width="1.00" height="8.50" fill="#2f72aa" />
<rect x="457.80" y="593.20" width="1.30" height="8.50" fill="#2f72aa" />
<rect x="459.80" y="593.20" width="1.30" height="8.50" fill="#3f7fe0" />
<rect x="462.10" y="593.20" width="0.90" height="8.50" fill="#2f72aa" />
<rect x="463.75" y="593.20" width="1.60" height="8.50" fill="#2f72aa" />
<rect x="466.10" y="593.20" width="0.90" height="8.50" fill="#2f72aa" />
<rect x="468.50" y="593.20" width="1.30" height="8.50" fill="#3f7fe0" />
<rect x="471.15" y="593.20" width="1.60" height="8.50" fill="#2f72aa" />
<rect x="474.20" y="593.20" width="0.90" height="8.50" fill="#2f72aa" />
<rect x="477.55" y="593.20" width="1.00" height="8.50" fill="#2f72aa" />
<rect x="483.20" y="593.20" width="1.10" height="8.50" fill="#2f72aa" />
<rect x="484.55" y="593.20" width="1.60" height="8.50" fill="#2f72aa" />
<rect x="486.80" y="593.20" width="1.10" height="8.50" fill="#2f72aa" />
<rect x="490.30" y="593.20" width="0.90" height="8.50" fill="#2f72aa" />
<rect x="495.05" y="593.20" width="1.60" height="8.50" fill="#2f72aa" />
<rect x="499.00" y="593.20" width="0.90" height="8.50" fill="#2f72aa" />
<rect x="503.00" y="593.20" width="1.10" height="8.50" fill="#2f72aa" />
<rect x="99.00" y="601.70" width="408.00" height="76.80" fill="#f8f8f8" />
<rect x="116.50" y="608.05" width="390.50" height="1.50" fill="#fbc67c" />
<rect x="149.30" y="608.15" width="1.20" height="1.30" fill="#7a84a8" />
<rect x="151.20" y="608.15" width="1.20" height="1.30" fill="#7a84a8" />
<rect x="168.50" y="608.15" width="1.20" height="1.30" fill="#7a84a8" />
<rect x="184.20" y="608.15" width="1.20" height="1.30" fill="#7a84a8" />
<rect x="196.60" y="608.15" width="1.20" height="1.30" fill="#7a84a8" />
<rect x="202.40" y="608.15" width="1.20" height="1.30" fill="#7a84a8" />
<rect x="213.90" y="608.15" width="1.20" height="1.30" fill="#7a84a8" />
<rect x="246.75" y="608.15" width="1.20" height="1.30" fill="#7a84a8" />
<rect x="251.75" y="608.15" width="1.20" height="1.30" fill="#7a84a8" />
<rect x="255.35" y="608.15" width="1.20" height="1.30" fill="#7a84a8" />
<rect x="299.25" y="608.15" width="1.20" height="1.30" fill="#7a84a8" />
<rect x="318.00" y="608.15" width="1.20" height="1.30" fill="#7a84a8" />
<rect x="326.60" y="608.15" width="1.20" height="1.30" fill="#7a84a8" />
<rect x="344.75" y="608.15" width="1.20" height="1.30" fill="#7a84a8" />
<rect x="346.75" y="608.15" width="1.20" height="1.30" fill="#7a84a8" />
<rect x="367.35" y="608.15" width="1.20" height="1.30" fill="#7a84a8" />
<rect x="402.25" y="608.15" width="1.20" height="1.30" fill="#7a84a8" />
<rect x="410.35" y="608.15" width="1.20" height="1.30" fill="#7a84a8" />
<rect x="413.45" y="608.15" width="1.20" height="1.30" fill="#7a84a8" />
<rect x="419.45" y="608.15" width="1.20" height="1.30" fill="#7a84a8" />
<rect x="428.55" y="608.15" width="1.20" height="1.30" fill="#7a84a8" />
<rect x="437.05" y="608.15" width="1.20" height="1.30" fill="#7a84a8" />
<rect x="442.75" y="608.15" width="1.20" height="1.30" fill="#7a84a8" />
<rect x="444.75" y="608.15" width="1.20" height="1.30" fill="#7a84a8" />
<rect x="447.15" y="608.15" width="1.20" height="1.30" fill="#7a84a8" />
<rect x="457.85" y="608.15" width="1.20" height="1.30" fill="#7a84a8" />
<rect x="459.85" y="608.15" width="1.20" height="1.30" fill="#7a84a8" />
<rect x="463.95" y="608.15" width="1.20" height="1.30" fill="#7a84a8" />
<rect x="468.55" y="608.15" width="1.20" height="1.30" fill="#7a84a8" />
<rect x="471.35" y="608.15" width="1.20" height="1.30" fill="#7a84a8" />
<rect x="474.05" y="608.15" width="1.20" height="1.30" fill="#7a84a8" />
<rect x="477.45" y="608.15" width="1.20" height="1.30" fill="#7a84a8" />
<rect x="483.15" y="608.15" width="1.20" height="1.30" fill="#7a84a8" />
<rect x="495.25" y="608.15" width="1.20" height="1.30" fill="#7a84a8" />
<rect x="502.95" y="608.15" width="1.20" height="1.30" fill="#7a84a8" />
<rect x="200.00" y="610.65" width="306.00" height="1.50" fill="#fbc67c" />
<rect x="202.40" y="610.75" width="1.20" height="1.30" fill="#7a84a8" />
<rect x="223.00" y="610.75" width="1.20" height="1.30" fill="#7a84a8" />
<rect x="226.00" y="610.75" width="1.20" height="1.30" fill="#7a84a8" />
<rect x="249.75" y="610.75" width="1.20" height="1.30" fill="#7a84a8" />
<rect x="270.50" y="610.75" width="1.20" height="1.30" fill="#7a84a8" />
<rect x="294.25" y="610.75" width="1.20" height="1.30" fill="#7a84a8" />
<rect x="299.25" y="610.75" width="1.20" height="1.30" fill="#7a84a8" />
<rect x="302.85" y="610.75" width="1.20" height="1.30" fill="#7a84a8" />
<rect x="319.40" y="610.75" width="1.20" height="1.30" fill="#7a84a8" />
<rect x="321.00" y="610.75" width="1.20" height="1.30" fill="#7a84a8" />
<rect x="323.00" y="610.75" width="1.20" height="1.30" fill="#7a84a8" />
<rect x="341.75" y="610.75" width="1.20" height="1.30" fill="#7a84a8" />
<rect x="343.15" y="610.75" width="1.20" height="1.30" fill="#7a84a8" />
<rect x="344.75" y="610.75" width="1.20" height="1.30" fill="#7a84a8" />
<rect x="346.75" y="610.75" width="1.20" height="1.30" fill="#7a84a8" />
<rect x="367.35" y="610.75" width="1.20" height="1.30" fill="#7a84a8" />
<rect x="378.05" y="610.75" width="1.20" height="1.30" fill="#7a84a8" />
<rect x="389.15" y="610.75" width="1.20" height="1.30" fill="#7a84a8" />
<rect x="391.55" y="610.75" width="1.20" height="1.30" fill="#7a84a8" />
<rect x="402.25" y="610.75" width="1.20" height="1.30" fill="#7a84a8" />
<rect x="403.35" y="610.75" width="1.20" height="1.30" fill="#7a84a8" />
<rect x="416.45" y="610.75" width="1.20" height="1.30" fill="#7a84a8" />
<rect x="419.45" y="610.75" width="1.20" height="1.30" fill="#7a84a8" />
<rect x="426.15" y="610.75" width="1.20" height="1.30" fill="#7a84a8" />
<rect x="428.55" y="610.75" width="1.20" height="1.30" fill="#7a84a8" />
<rect x="432.65" y="610.75" width="1.20" height="1.30" fill="#7a84a8" />
<rect x="435.65" y="610.75" width="1.20" height="1.30" fill="#7a84a8" />
<rect x="442.75" y="610.75" width="1.20" height="1.30" fill="#7a84a8" />
<rect x="444.75" y="610.75" width="1.20" height="1.30" fill="#7a84a8" />
<rect x="447.15" y="610.75" width="1.20" height="1.30" fill="#7a84a8" />
<rect x="449.15" y="610.75" width="1.20" height="1.30" fill="#7a84a8" />
<rect x="451.85" y="610.75" width="1.20" height="1.30" fill="#7a84a8" />
<rect x="457.85" y="610.75" width="1.20" height="1.30" fill="#7a84a8" />
<rect x="463.95" y="610.75" width="1.20" height="1.30" fill="#7a84a8" />
<rect x="465.95" y="610.75" width="1.20" height="1.30" fill="#7a84a8" />
<rect x="471.35" y="610.75" width="1.20" height="1.30" fill="#7a84a8" />
<rect x="474.05" y="610.75" width="1.20" height="1.30" fill="#7a84a8" />
<rect x="477.45" y="610.75" width="1.20" height="1.30" fill="#7a84a8" />
<rect x="484.75" y="610.75" width="1.20" height="1.30" fill="#7a84a8" />
<rect x="498.85" y="610.75" width="1.20" height="1.30" fill="#7a84a8" />
<rect x="99.00" y="613.25" width="406.00" height="1.50" fill="#fbc67c" />
<rect x="105.50" y="613.35" width="1.20" height="1.30" fill="#7a84a8" />
<rect x="128.10" y="613.35" width="1.20" height="1.30" fill="#7a84a8" />
<rect x="156.30" y="613.35" width="1.20" height="1.30" fill="#7a84a8" />
<rect x="168.50" y="613.35" width="1.20" height="1.30" fill="#7a84a8" />
<rect x="195.50" y="613.35" width="1.20" height="1.30" fill="#7a84a8" />
<rect x="210.20" y="613.35" width="1.20" height="1.30" fill="#7a84a8" />
<rect x="224.40" y="613.35" width="1.20" height="1.30" fill="#7a84a8" />
<rect x="226.00" y="613.35" width="1.20" height="1.30" fill="#7a84a8" />
<rect x="228.00" y="613.35" width="1.20" height="1.30" fill="#7a84a8" />
<rect x="255.35" y="613.35" width="1.20" height="1.30" fill="#7a84a8" />
<rect x="270.50" y="613.35" width="1.20" height="1.30" fill="#7a84a8" />
<rect x="275.50" y="613.35" width="1.20" height="1.30" fill="#7a84a8" />
<rect x="294.25" y="613.35" width="1.20" height="1.30" fill="#7a84a8" />
<rect x="295.65" y="613.35" width="1.20" height="1.30" fill="#7a84a8" />
<rect x="297.25" y="613.35" width="1.20" height="1.30" fill="#7a84a8" />
<rect x="299.25" y="613.35" width="1.20" height="1.30" fill="#7a84a8" />
<rect x="302.85" y="613.35" width="1.20" height="1.30" fill="#7a84a8" />
<rect x="321.00" y="613.35" width="1.20" height="1.30" fill="#7a84a8" />
<rect x="346.75" y="613.35" width="1.20" height="1.30" fill="#7a84a8" />
<rect x="391.55" y="613.35" width="1.20" height="1.30" fill="#7a84a8" />
<rect x="402.25" y="613.35" width="1.20" height="1.30" fill="#7a84a8" />
<rect x="403.35" y="613.35" width="1.20" height="1.30" fill="#7a84a8" />
<rect x="416.45" y="613.35" width="1.20" height="1.30" fill="#7a84a8" />
<rect x="426.15" y="613.35" width="1.20" height="1.30" fill="#7a84a8" />
<rect x="444.75" y="613.35" width="1.20" height="1.30" fill="#7a84a8" />
<rect x="447.15" y="613.35" width="1.20" height="1.30" fill="#7a84a8" />
<rect x="449.15" y="613.35" width="1.20" height="1.30" fill="#7a84a8" />
<rect x="451.85" y="613.35" width="1.20" height="1.30" fill="#7a84a8" />
<rect x="457.85" y="613.35" width="1.20" height="1.30" fill="#7a84a8" />
<rect x="459.85" y="613.35" width="1.20" height="1.30" fill="#7a84a8" />
<rect x="461.95" y="613.35" width="1.20" height="1.30" fill="#7a84a8" />
<rect x="463.95" y="613.35" width="1.20" height="1.30" fill="#7a84a8" />
<rect x="465.95" y="613.35" width="1.20" height="1.30" fill="#7a84a8" />
<rect x="468.55" y="613.35" width="1.20" height="1.30" fill="#7a84a8" />
<rect x="471.35" y="613.35" width="1.20" height="1.30" fill="#7a84a8" />
<rect x="474.05" y="613.35" width="1.20" height="1.30" fill="#7a84a8" />
<rect x="477.45" y="613.35" width="1.20" height="1.30" fill="#7a84a8" />
<rect x="483.15" y="613.35" width="1.20" height="1.30" fill="#7a84a8" />
<rect x="486.75" y="613.35" width="1.20" height="1.30" fill="#7a84a8" />
<rect x="502.95" y="613.35" width="1.20" height="1.30" fill="#7a84a8" />
<rect x="191.00" y="615.85" width="316.00" height="1.50" fill="#fbc67c" />
<rect x="195.50" y="615.95" width="1.20" height="1.30" fill="#7a84a8" />
<rect x="202.40" y="615.95" width="1.20" height="1.30" fill="#7a84a8" />
<rect x="210.20" y="615.95" width="1.20" height="1.30" fill="#7a84a8" />
<rect x="213.90" y="615.95" width="1.20" height="1.30" fill="#7a84a8" />
<rect x="223.00" y="615.95" width="1.20" height="1.30" fill="#7a84a8" />
<rect x="224.40" y="615.95" width="1.20" height="1.30" fill="#7a84a8" />
<rect x="226.00" y="615.95" width="1.20" height="1.30" fill="#7a84a8" />
<rect x="246.75" y="615.95" width="1.20" height="1.30" fill="#7a84a8" />
<rect x="248.15" y="615.95" width="1.20" height="1.30" fill="#7a84a8" />
<rect x="255.35" y="615.95" width="1.20" height="1.30" fill="#7a84a8" />
<rect x="270.50" y="615.95" width="1.20" height="1.30" fill="#7a84a8" />
<rect x="271.90" y="615.95" width="1.20" height="1.30" fill="#7a84a8" />
<rect x="279.10" y="615.95" width="1.20" height="1.30" fill="#7a84a8" />
<rect x="295.65" y="615.95" width="1.20" height="1.30" fill="#7a84a8" />
<rect x="318.00" y="615.95" width="1.20" height="1.30" fill="#7a84a8" />
<rect x="319.40" y="615.95" width="1.20" height="1.30" fill="#7a84a8" />
<rect x="321.00" y="615.95" width="1.20" height="1.30" fill="#7a84a8" />
<rect x="323.00" y="615.95" width="1.20" height="1.30" fill="#7a84a8" />
<rect x="326.60" y="615.95" width="1.20" height="1.30" fill="#7a84a8" />
<rect x="341.75" y="615.95" width="1.20" height="1.30" fill="#7a84a8" />
<rect x="344.75" y="615.95" width="1.20" height="1.30" fill="#7a84a8" />
<rect x="346.75" y="615.95" width="1.20" height="1.30" fill="#7a84a8" />
<rect x="378.05" y="615.95" width="1.20" height="1.30" fill="#7a84a8" />
<rect x="402.25" y="615.95" width="1.20" height="1.30" fill="#7a84a8" />
<rect x="403.35" y="615.95" width="1.20" height="1.30" fill="#7a84a8" />
<rect x="413.45" y="615.95" width="1.20" height="1.30" fill="#7a84a8" />
<rect x="416.45" y="615.95" width="1.20" height="1.30" fill="#7a84a8" />
<rect x="423.55" y="615.95" width="1.20" height="1.30" fill="#7a84a8" />
<rect x="426.15" y="615.95" width="1.20" height="1.30" fill="#7a84a8" />
<rect x="437.05" y="615.95" width="1.20" height="1.30" fill="#7a84a8" />
<rect x="444.75" y="615.95" width="1.20" height="1.30" fill="#7a84a8" />
<rect x="457.85" y="615.95" width="1.20" height="1.30" fill="#7a84a8" />
<rect x="461.95" y="615.95" width="1.20" height="1.30" fill="#7a84a8" />
<rect x="465.95" y="615.95" width="1.20" height="1.30" fill="#7a84a8" />
<rect x="474.05" y="615.95" width="1.20" height="1.30" fill="#7a84a8" />
<rect x="477.45" y="615.95" width="1.20" height="1.30" fill="#7a84a8" />
<rect x="483.15" y="615.95" width="1.20" height="1.30" fill="#7a84a8" />
<rect x="486.75" y="615.95" width="1.20" height="1.30" fill="#7a84a8" />
<rect x="495.25" y="615.95" width="1.20" height="1.30" fill="#7a84a8" />
<rect x="502.95" y="615.95" width="1.20" height="1.30" fill="#7a84a8" />
<rect x="99.00" y="618.45" width="408.00" height="1.50" fill="#fbc67c" />
<rect x="149.30" y="618.55" width="1.20" height="1.30" fill="#7a84a8" />
<rect x="151.20" y="618.55" width="1.20" height="1.30" fill="#7a84a8" />
<rect x="156.30" y="618.55" width="1.20" height="1.30" fill="#7a84a8" />
<rect x="184.20" y="618.55" width="1.20" height="1.30" fill="#7a84a8" />
<rect x="195.50" y="618.55" width="1.20" height="1.30" fill="#7a84a8" />
<rect x="196.60" y="618.55" width="1.20" height="1.30" fill="#7a84a8" />
<rect x="202.40" y="618.55" width="1.20" height="1.30" fill="#7a84a8" />
<rect x="223.00" y="618.55" width="1.20" height="1.30" fill="#7a84a8" />
<rect x="224.40" y="618.55" width="1.20" height="1.30" fill="#7a84a8" />
<rect x="226.00" y="618.55" width="1.20" height="1.30" fill="#7a84a8" />
<rect x="228.00" y="618.55" width="1.20" height="1.30" fill="#7a84a8" />
<rect x="231.60" y="618.55" width="1.20" height="1.30" fill="#7a84a8" />
<rect x="246.75" y="618.55" width="1.20" height="1.30" fill="#7a84a8" />
<rect x="249.75" y="618.55" width="1.20" height="1.30" fill="#7a84a8" />
<rect x="251.75" y="618.55" width="1.20" height="1.30" fill="#7a84a8" />
<rect x="255.35" y="618.55" width="1.20" height="1.30" fill="#7a84a8" />
<rect x="273.50" y="618.55" width="1.20" height="1.30" fill="#7a84a8" />
<rect x="275.50" y="618.55" width="1.20" height="1.30" fill="#7a84a8" />
<rect x="294.25" y="618.55" width="1.20" height="1.30" fill="#7a84a8" />
<rect x="295.65" y="618.55" width="1.20" height="1.30" fill="#7a84a8" />
<rect x="297.25" y="618.55" width="1.20" height="1.30" fill="#7a84a8" />
<rect x="321.00" y="618.55" width="1.20" height="1.30" fill="#7a84a8" />
<rect x="323.00" y="618.55" width="1.20" height="1.30" fill="#7a84a8" />
<rect x="341.75" y="618.55" width="1.20" height="1.30" fill="#7a84a8" />
<rect x="344.75" y="618.55" width="1.20" height="1.30" fill="#7a84a8" />
<rect x="346.75" y="618.55" width="1.20" height="1.30" fill="#7a84a8" />
<rect x="350.35" y="618.55" width="1.20" height="1.30" fill="#7a84a8" />
<rect x="378.05" y="618.55" width="1.20" height="1.30" fill="#7a84a8" />
<rect x="413.45" y="618.55" width="1.20" height="1.30" fill="#7a84a8" />
<rect x="423.55" y="618.55" width="1.20" height="1.30" fill="#7a84a8" />
<rect x="426.15" y="618.55" width="1.20" height="1.30" fill="#7a84a8" />
<rect x="428.55" y="618.55" width="1.20" height="1.30" fill="#7a84a8" />
<rect x="437.05" y="618.55" width="1.20" height="1.30" fill="#7a84a8" />
<rect x="439.65" y="618.55" width="1.20" height="1.30" fill="#7a84a8" />
<rect x="447.15" y="618.55" width="1.20" height="1.30" fill="#7a84a8" />
<rect x="449.15" y="618.55" width="1.20" height="1.30" fill="#7a84a8" />
<rect x="454.85" y="618.55" width="1.20" height="1.30" fill="#7a84a8" />
<rect x="459.85" y="618.55" width="1.20" height="1.30" fill="#7a84a8" />
<rect x="463.95" y="618.55" width="1.20" height="1.30" fill="#7a84a8" />
<rect x="465.95" y="618.55" width="1.20" height="1.30" fill="#7a84a8" />
<rect x="468.55" y="618.55" width="1.20" height="1.30" fill="#7a84a8" />
<rect x="471.35" y="618.55" width="1.20" height="1.30" fill="#7a84a8" />
<rect x="474.05" y="618.55" width="1.20" height="1.30" fill="#7a84a8" />
<rect x="486.75" y="618.55" width="1.20" height="1.30" fill="#7a84a8" />
<rect x="498.85" y="618.55" width="1.20" height="1.30" fill="#7a84a8" />
<rect x="502.95" y="618.55" width="1.20" height="1.30" fill="#7a84a8" />
<rect x="99.00" y="621.05" width="407.00" height="1.50" fill="#fbc67c" />
<rect x="105.50" y="621.15" width="1.20" height="1.30" fill="#7a84a8" />
<rect x="128.10" y="621.15" width="1.20" height="1.30" fill="#7a84a8" />
<rect x="149.30" y="621.15" width="1.20" height="1.30" fill="#7a84a8" />
<rect x="151.20" y="621.15" width="1.20" height="1.30" fill="#7a84a8" />
<rect x="156.30" y="621.15" width="1.20" height="1.30" fill="#7a84a8" />
<rect x="184.20" y="621.15" width="1.20" height="1.30" fill="#7a84a8" />
<rect x="197.80" y="621.15" width="1.20" height="1.30" fill="#7a84a8" />
<rect x="224.40" y="621.15" width="1.20" height="1.30" fill="#7a84a8" />
<rect x="226.00" y="621.15" width="1.20" height="1.30" fill="#7a84a8" />
<rect x="228.00" y="621.15" width="1.20" height="1.30" fill="#7a84a8" />
<rect x="231.60" y="621.15" width="1.20" height="1.30" fill="#7a84a8" />
<rect x="249.75" y="621.15" width="1.20" height="1.30" fill="#7a84a8" />
<rect x="251.75" y="621.15" width="1.20" height="1.30" fill="#7a84a8" />
<rect x="255.35" y="621.15" width="1.20" height="1.30" fill="#7a84a8" />
<rect x="270.50" y="621.15" width="1.20" height="1.30" fill="#7a84a8" />
<rect x="271.90" y="621.15" width="1.20" height="1.30" fill="#7a84a8" />
<rect x="273.50" y="621.15" width="1.20" height="1.30" fill="#7a84a8" />
<rect x="275.50" y="621.15" width="1.20" height="1.30" fill="#7a84a8" />
<rect x="294.25" y="621.15" width="1.20" height="1.30" fill="#7a84a8" />
<rect x="297.25" y="621.15" width="1.20" height="1.30" fill="#7a84a8" />
<rect x="299.25" y="621.15" width="1.20" height="1.30" fill="#7a84a8" />
<rect x="318.00" y="621.15" width="1.20" height="1.30" fill="#7a84a8" />
<rect x="319.40" y="621.15" width="1.20" height="1.30" fill="#7a84a8" />
<rect x="321.00" y="621.15" width="1.20" height="1.30" fill="#7a84a8" />
<rect x="323.00" y="621.15" width="1.20" height="1.30" fill="#7a84a8" />
<rect x="326.60" y="621.15" width="1.20" height="1.30" fill="#7a84a8" />
<rect x="343.15" y="621.15" width="1.20" height="1.30" fill="#7a84a8" />
<rect x="346.75" y="621.15" width="1.20" height="1.30" fill="#7a84a8" />
<rect x="350.35" y="621.15" width="1.20" height="1.30" fill="#7a84a8" />
<rect x="367.35" y="621.15" width="1.20" height="1.30" fill="#7a84a8" />
<rect x="378.05" y="621.15" width="1.20" height="1.30" fill="#7a84a8" />
<rect x="391.55" y="621.15" width="1.20" height="1.30" fill="#7a84a8" />
<rect x="402.25" y="621.15" width="1.20" height="1.30" fill="#7a84a8" />
<rect x="403.35" y="621.15" width="1.20" height="1.30" fill="#7a84a8" />
<rect x="407.35" y="621.15" width="1.20" height="1.30" fill="#7a84a8" />
<rect x="416.45" y="621.15" width="1.20" height="1.30" fill="#7a84a8" />
<rect x="419.45" y="621.15" width="1.20" height="1.30" fill="#7a84a8" />
<rect x="423.55" y="621.15" width="1.20" height="1.30" fill="#7a84a8" />
<rect x="428.55" y="621.15" width="1.20" height="1.30" fill="#7a84a8" />
<rect x="432.65" y="621.15" width="1.20" height="1.30" fill="#7a84a8" />
<rect x="437.05" y="621.15" width="1.20" height="1.30" fill="#7a84a8" />
<rect x="447.15" y="621.15" width="1.20" height="1.30" fill="#7a84a8" />
<rect x="449.15" y="621.15" width="1.20" height="1.30" fill="#7a84a8" />
<rect x="454.85" y="621.15" width="1.20" height="1.30" fill="#7a84a8" />
<rect x="459.85" y="621.15" width="1.20" height="1.30" fill="#7a84a8" />
<rect x="461.95" y="621.15" width="1.20" height="1.30" fill="#7a84a8" />
<rect x="463.95" y="621.15" width="1.20" height="1.30" fill="#7a84a8" />
<rect x="465.95" y="621.15" width="1.20" height="1.30" fill="#7a84a8" />
<rect x="468.55" y="621.15" width="1.20" height="1.30" fill="#7a84a8" />
<rect x="474.05" y="621.15" width="1.20" height="1.30" fill="#7a84a8" />
<rect x="484.75" y="621.15" width="1.20" height="1.30" fill="#7a84a8" />
<rect x="486.75" y="621.15" width="1.20" height="1.30" fill="#7a84a8" />
<rect x="159.40" y="623.65" width="334.60" height="1.50" fill="#fbc67c" />
<rect x="184.20" y="623.75" width="1.20" height="1.30" fill="#7a84a8" />
<rect x="195.50" y="623.75" width="1.20" height="1.30" fill="#7a84a8" />
<rect x="197.80" y="623.75" width="1.20" height="1.30" fill="#7a84a8" />
<rect x="202.40" y="623.75" width="1.20" height="1.30" fill="#7a84a8" />
<rect x="210.20" y="623.75" width="1.20" height="1.30" fill="#7a84a8" />
<rect x="223.00" y="623.75" width="1.20" height="1.30" fill="#7a84a8" />
<rect x="224.40" y="623.75" width="1.20" height="1.30" fill="#7a84a8" />
<rect x="226.00" y="623.75" width="1.20" height="1.30" fill="#7a84a8" />
<rect x="231.60" y="623.75" width="1.20" height="1.30" fill="#7a84a8" />
<rect x="246.75" y="623.75" width="1.20" height="1.30" fill="#7a84a8" />
<rect x="249.75" y="623.75" width="1.20" height="1.30" fill="#7a84a8" />
<rect x="251.75" y="623.75" width="1.20" height="1.30" fill="#7a84a8" />
<rect x="273.50" y="623.75" width="1.20" height="1.30" fill="#7a84a8" />
<rect x="275.50" y="623.75" width="1.20" height="1.30" fill="#7a84a8" />
<rect x="279.10" y="623.75" width="1.20" height="1.30" fill="#7a84a8" />
<rect x="294.25" y="623.75" width="1.20" height="1.30" fill="#7a84a8" />
<rect x="295.65" y="623.75" width="1.20" height="1.30" fill="#7a84a8" />
<rect x="302.85" y="623.75" width="1.20" height="1.30" fill="#7a84a8" />
<rect x="318.00" y="623.75" width="1.20" height="1.30" fill="#7a84a8" />
<rect x="326.60" y="623.75" width="1.20" height="1.30" fill="#7a84a8" />
<rect x="346.75" y="623.75" width="1.20" height="1.30" fill="#7a84a8" />
<rect x="378.05" y="623.75" width="1.20" height="1.30" fill="#7a84a8" />
<rect x="389.15" y="623.75" width="1.20" height="1.30" fill="#7a84a8" />
<rect x="391.55" y="623.75" width="1.20" height="1.30" fill="#7a84a8" />
<rect x="402.25" y="623.75" width="1.20" height="1.30" fill="#7a84a8" />
<rect x="407.35" y="623.75" width="1.20" height="1.30" fill="#7a84a8" />
<rect x="416.45" y="623.75" width="1.20" height="1.30" fill="#7a84a8" />
<rect x="419.45" y="623.75" width="1.20" height="1.30" fill="#7a84a8" />
<rect x="423.55" y="623.75" width="1.20" height="1.30" fill="#7a84a8" />
<rect x="426.15" y="623.75" width="1.20" height="1.30" fill="#7a84a8" />
<rect x="451.85" y="623.75" width="1.20" height="1.30" fill="#7a84a8" />
<rect x="454.85" y="623.75" width="1.20" height="1.30" fill="#7a84a8" />
<rect x="459.85" y="623.75" width="1.20" height="1.30" fill="#7a84a8" />
<rect x="474.05" y="623.75" width="1.20" height="1.30" fill="#7a84a8" />
<rect x="477.45" y="623.75" width="1.20" height="1.30" fill="#7a84a8" />
<rect x="108.00" y="626.25" width="381.00" height="1.50" fill="#fbc67c" />
<rect x="128.10" y="626.35" width="1.20" height="1.30" fill="#7a84a8" />
<rect x="151.20" y="626.35" width="1.20" height="1.30" fill="#7a84a8" />
<rect x="156.30" y="626.35" width="1.20" height="1.30" fill="#7a84a8" />
<rect x="184.20" y="626.35" width="1.20" height="1.30" fill="#7a84a8" />
<rect x="195.50" y="626.35" width="1.20" height="1.30" fill="#7a84a8" />
<rect x="196.60" y="626.35" width="1.20" height="1.30" fill="#7a84a8" />
<rect x="197.80" y="626.35" width="1.20" height="1.30" fill="#7a84a8" />
<rect x="202.40" y="626.35" width="1.20" height="1.30" fill="#7a84a8" />
<rect x="210.20" y="626.35" width="1.20" height="1.30" fill="#7a84a8" />
<rect x="223.00" y="626.35" width="1.20" height="1.30" fill="#7a84a8" />
<rect x="224.40" y="626.35" width="1.20" height="1.30" fill="#7a84a8" />
<rect x="226.00" y="626.35" width="1.20" height="1.30" fill="#7a84a8" />
<rect x="249.75" y="626.35" width="1.20" height="1.30" fill="#7a84a8" />
<rect x="255.35" y="626.35" width="1.20" height="1.30" fill="#7a84a8" />
<rect x="270.50" y="626.35" width="1.20" height="1.30" fill="#7a84a8" />
<rect x="275.50" y="626.35" width="1.20" height="1.30" fill="#7a84a8" />
<rect x="294.25" y="626.35" width="1.20" height="1.30" fill="#7a84a8" />
<rect x="319.40" y="626.35" width="1.20" height="1.30" fill="#7a84a8" />
<rect x="341.75" y="626.35" width="1.20" height="1.30" fill="#7a84a8" />
<rect x="344.75" y="626.35" width="1.20" height="1.30" fill="#7a84a8" />
<rect x="346.75" y="626.35" width="1.20" height="1.30" fill="#7a84a8" />
<rect x="350.35" y="626.35" width="1.20" height="1.30" fill="#7a84a8" />
<rect x="389.15" y="626.35" width="1.20" height="1.30" fill="#7a84a8" />
<rect x="391.55" y="626.35" width="1.20" height="1.30" fill="#7a84a8" />
<rect x="402.25" y="626.35" width="1.20" height="1.30" fill="#7a84a8" />
<rect x="403.35" y="626.35" width="1.20" height="1.30" fill="#7a84a8" />
<rect x="407.35" y="626.35" width="1.20" height="1.30" fill="#7a84a8" />
<rect x="410.35" y="626.35" width="1.20" height="1.30" fill="#7a84a8" />
<rect x="413.45" y="626.35" width="1.20" height="1.30" fill="#7a84a8" />
<rect x="416.45" y="626.35" width="1.20" height="1.30" fill="#7a84a8" />
<rect x="435.65" y="626.35" width="1.20" height="1.30" fill="#7a84a8" />
<rect x="437.05" y="626.35" width="1.20" height="1.30" fill="#7a84a8" />
<rect x="447.15" y="626.35" width="1.20" height="1.30" fill="#7a84a8" />
<rect x="449.15" y="626.35" width="1.20" height="1.30" fill="#7a84a8" />
<rect x="457.85" y="626.35" width="1.20" height="1.30" fill="#7a84a8" />
<rect x="459.85" y="626.35" width="1.20" height="1.30" fill="#7a84a8" />
<rect x="461.95" y="626.35" width="1.20" height="1.30" fill="#7a84a8" />
<rect x="468.55" y="626.35" width="1.20" height="1.30" fill="#7a84a8" />
<rect x="483.15" y="626.35" width="1.20" height="1.30" fill="#7a84a8" />
<rect x="484.75" y="626.35" width="1.20" height="1.30" fill="#7a84a8" />
<rect x="486.75" y="626.35" width="1.20" height="1.30" fill="#7a84a8" />
<rect x="144.60" y="628.85" width="342.40" height="1.50" fill="#fbc67c" />
<rect x="149.30" y="628.95" width="1.20" height="1.30" fill="#7a84a8" />
<rect x="156.30" y="628.95" width="1.20" height="1.30" fill="#7a84a8" />
<rect x="196.60" y="628.95" width="1.20" height="1.30" fill="#7a84a8" />
<rect x="210.20" y="628.95" width="1.20" height="1.30" fill="#7a84a8" />
<rect x="213.90" y="628.95" width="1.20" height="1.30" fill="#7a84a8" />
<rect x="226.00" y="628.95" width="1.20" height="1.30" fill="#7a84a8" />
<rect x="228.00" y="628.95" width="1.20" height="1.30" fill="#7a84a8" />
<rect x="231.60" y="628.95" width="1.20" height="1.30" fill="#7a84a8" />
<rect x="249.75" y="628.95" width="1.20" height="1.30" fill="#7a84a8" />
<rect x="270.50" y="628.95" width="1.20" height="1.30" fill="#7a84a8" />
<rect x="279.10" y="628.95" width="1.20" height="1.30" fill="#7a84a8" />
<rect x="319.40" y="628.95" width="1.20" height="1.30" fill="#7a84a8" />
<rect x="321.00" y="628.95" width="1.20" height="1.30" fill="#7a84a8" />
<rect x="323.00" y="628.95" width="1.20" height="1.30" fill="#7a84a8" />
<rect x="341.75" y="628.95" width="1.20" height="1.30" fill="#7a84a8" />
<rect x="343.15" y="628.95" width="1.20" height="1.30" fill="#7a84a8" />
<rect x="346.75" y="628.95" width="1.20" height="1.30" fill="#7a84a8" />
<rect x="350.35" y="628.95" width="1.20" height="1.30" fill="#7a84a8" />
<rect x="378.05" y="628.95" width="1.20" height="1.30" fill="#7a84a8" />
<rect x="389.15" y="628.95" width="1.20" height="1.30" fill="#7a84a8" />
<rect x="402.25" y="628.95" width="1.20" height="1.30" fill="#7a84a8" />
<rect x="403.35" y="628.95" width="1.20" height="1.30" fill="#7a84a8" />
<rect x="423.55" y="628.95" width="1.20" height="1.30" fill="#7a84a8" />
<rect x="426.15" y="628.95" width="1.20" height="1.30" fill="#7a84a8" />
<rect x="428.55" y="628.95" width="1.20" height="1.30" fill="#7a84a8" />
<rect x="435.65" y="628.95" width="1.20" height="1.30" fill="#7a84a8" />
<rect x="439.65" y="628.95" width="1.20" height="1.30" fill="#7a84a8" />
<rect x="444.75" y="628.95" width="1.20" height="1.30" fill="#7a84a8" />
<rect x="449.15" y="628.95" width="1.20" height="1.30" fill="#7a84a8" />
<rect x="454.85" y="628.95" width="1.20" height="1.30" fill="#7a84a8" />
<rect x="457.85" y="628.95" width="1.20" height="1.30" fill="#7a84a8" />
<rect x="461.95" y="628.95" width="1.20" height="1.30" fill="#7a84a8" />
<rect x="463.95" y="628.95" width="1.20" height="1.30" fill="#7a84a8" />
<rect x="465.95" y="628.95" width="1.20" height="1.30" fill="#7a84a8" />
<rect x="484.75" y="628.95" width="1.20" height="1.30" fill="#7a84a8" />
<rect x="179.60" y="631.45" width="296.40" height="1.50" fill="#fbc67c" />
<rect x="184.20" y="631.55" width="1.20" height="1.30" fill="#7a84a8" />
<rect x="202.40" y="631.55" width="1.20" height="1.30" fill="#7a84a8" />
<rect x="223.00" y="631.55" width="1.20" height="1.30" fill="#7a84a8" />
<rect x="228.00" y="631.55" width="1.20" height="1.30" fill="#7a84a8" />
<rect x="231.60" y="631.55" width="1.20" height="1.30" fill="#7a84a8" />
<rect x="251.75" y="631.55" width="1.20" height="1.30" fill="#7a84a8" />
<rect x="255.35" y="631.55" width="1.20" height="1.30" fill="#7a84a8" />
<rect x="271.90" y="631.55" width="1.20" height="1.30" fill="#7a84a8" />
<rect x="273.50" y="631.55" width="1.20" height="1.30" fill="#7a84a8" />
<rect x="279.10" y="631.55" width="1.20" height="1.30" fill="#7a84a8" />
<rect x="294.25" y="631.55" width="1.20" height="1.30" fill="#7a84a8" />
<rect x="302.85" y="631.55" width="1.20" height="1.30" fill="#7a84a8" />
<rect x="367.35" y="631.55" width="1.20" height="1.30" fill="#7a84a8" />
<rect x="389.15" y="631.55" width="1.20" height="1.30" fill="#7a84a8" />
<rect x="391.55" y="631.55" width="1.20" height="1.30" fill="#7a84a8" />
<rect x="402.25" y="631.55" width="1.20" height="1.30" fill="#7a84a8" />
<rect x="413.45" y="631.55" width="1.20" height="1.30" fill="#7a84a8" />
<rect x="416.45" y="631.55" width="1.20" height="1.30" fill="#7a84a8" />
<rect x="426.15" y="631.55" width="1.20" height="1.30" fill="#7a84a8" />
<rect x="435.65" y="631.55" width="1.20" height="1.30" fill="#7a84a8" />
<rect x="437.05" y="631.55" width="1.20" height="1.30" fill="#7a84a8" />
<rect x="439.65" y="631.55" width="1.20" height="1.30" fill="#7a84a8" />
<rect x="442.75" y="631.55" width="1.20" height="1.30" fill="#7a84a8" />
<rect x="444.75" y="631.55" width="1.20" height="1.30" fill="#7a84a8" />
<rect x="449.15" y="631.55" width="1.20" height="1.30" fill="#7a84a8" />
<rect x="454.85" y="631.55" width="1.20" height="1.30" fill="#7a84a8" />
<rect x="463.95" y="631.55" width="1.20" height="1.30" fill="#7a84a8" />
<rect x="471.35" y="631.55" width="1.20" height="1.30" fill="#7a84a8" />
<rect x="474.05" y="631.55" width="1.20" height="1.30" fill="#7a84a8" />
<rect x="99.00" y="634.05" width="340.00" height="1.50" fill="#fbc67c" />
<rect x="105.50" y="634.15" width="1.20" height="1.30" fill="#7a84a8" />
<rect x="151.20" y="634.15" width="1.20" height="1.30" fill="#7a84a8" />
<rect x="156.30" y="634.15" width="1.20" height="1.30" fill="#7a84a8" />
<rect x="168.50" y="634.15" width="1.20" height="1.30" fill="#7a84a8" />
<rect x="184.20" y="634.15" width="1.20" height="1.30" fill="#7a84a8" />
<rect x="202.40" y="634.15" width="1.20" height="1.30" fill="#7a84a8" />
<rect x="223.00" y="634.15" width="1.20" height="1.30" fill="#7a84a8" />
<rect x="249.75" y="634.15" width="1.20" height="1.30" fill="#7a84a8" />
<rect x="255.35" y="634.15" width="1.20" height="1.30" fill="#7a84a8" />
<rect x="270.50" y="634.15" width="1.20" height="1.30" fill="#7a84a8" />
<rect x="271.90" y="634.15" width="1.20" height="1.30" fill="#7a84a8" />
<rect x="279.10" y="634.15" width="1.20" height="1.30" fill="#7a84a8" />
<rect x="294.25" y="634.15" width="1.20" height="1.30" fill="#7a84a8" />
<rect x="297.25" y="634.15" width="1.20" height="1.30" fill="#7a84a8" />
<rect x="302.85" y="634.15" width="1.20" height="1.30" fill="#7a84a8" />
<rect x="319.40" y="634.15" width="1.20" height="1.30" fill="#7a84a8" />
<rect x="323.00" y="634.15" width="1.20" height="1.30" fill="#7a84a8" />
<rect x="326.60" y="634.15" width="1.20" height="1.30" fill="#7a84a8" />
<rect x="341.75" y="634.15" width="1.20" height="1.30" fill="#7a84a8" />
<rect x="343.15" y="634.15" width="1.20" height="1.30" fill="#7a84a8" />
<rect x="344.75" y="634.15" width="1.20" height="1.30" fill="#7a84a8" />
<rect x="346.75" y="634.15" width="1.20" height="1.30" fill="#7a84a8" />
<rect x="350.35" y="634.15" width="1.20" height="1.30" fill="#7a84a8" />
<rect x="367.35" y="634.15" width="1.20" height="1.30" fill="#7a84a8" />
<rect x="378.05" y="634.15" width="1.20" height="1.30" fill="#7a84a8" />
<rect x="391.55" y="634.15" width="1.20" height="1.30" fill="#7a84a8" />
<rect x="407.35" y="634.15" width="1.20" height="1.30" fill="#7a84a8" />
<rect x="416.45" y="634.15" width="1.20" height="1.30" fill="#7a84a8" />
<rect x="419.45" y="634.15" width="1.20" height="1.30" fill="#7a84a8" />
<rect x="426.15" y="634.15" width="1.20" height="1.30" fill="#7a84a8" />
<rect x="428.55" y="634.15" width="1.20" height="1.30" fill="#7a84a8" />
<rect x="435.65" y="634.15" width="1.20" height="1.30" fill="#7a84a8" />
<rect x="437.05" y="634.15" width="1.20" height="1.30" fill="#7a84a8" />
<rect x="99.00" y="636.65" width="334.00" height="1.50" fill="#fbc67c" />
<rect x="105.50" y="636.75" width="1.20" height="1.30" fill="#7a84a8" />
<rect x="128.10" y="636.75" width="1.20" height="1.30" fill="#7a84a8" />
<rect x="151.20" y="636.75" width="1.20" height="1.30" fill="#7a84a8" />
<rect x="156.30" y="636.75" width="1.20" height="1.30" fill="#7a84a8" />
<rect x="168.50" y="636.75" width="1.20" height="1.30" fill="#7a84a8" />
<rect x="184.20" y="636.75" width="1.20" height="1.30" fill="#7a84a8" />
<rect x="195.50" y="636.75" width="1.20" height="1.30" fill="#7a84a8" />
<rect x="196.60" y="636.75" width="1.20" height="1.30" fill="#7a84a8" />
<rect x="197.80" y="636.75" width="1.20" height="1.30" fill="#7a84a8" />
<rect x="226.00" y="636.75" width="1.20" height="1.30" fill="#7a84a8" />
<rect x="231.60" y="636.75" width="1.20" height="1.30" fill="#7a84a8" />
<rect x="248.15" y="636.75" width="1.20" height="1.30" fill="#7a84a8" />
<rect x="271.90" y="636.75" width="1.20" height="1.30" fill="#7a84a8" />
<rect x="294.25" y="636.75" width="1.20" height="1.30" fill="#7a84a8" />
<rect x="299.25" y="636.75" width="1.20" height="1.30" fill="#7a84a8" />
<rect x="302.85" y="636.75" width="1.20" height="1.30" fill="#7a84a8" />
<rect x="321.00" y="636.75" width="1.20" height="1.30" fill="#7a84a8" />
<rect x="326.60" y="636.75" width="1.20" height="1.30" fill="#7a84a8" />
<rect x="350.35" y="636.75" width="1.20" height="1.30" fill="#7a84a8" />
<rect x="378.05" y="636.75" width="1.20" height="1.30" fill="#7a84a8" />
<rect x="403.35" y="636.75" width="1.20" height="1.30" fill="#7a84a8" />
<rect x="410.35" y="636.75" width="1.20" height="1.30" fill="#7a84a8" />
<rect x="416.45" y="636.75" width="1.20" height="1.30" fill="#7a84a8" />
<rect x="419.45" y="636.75" width="1.20" height="1.30" fill="#7a84a8" />
<rect x="426.15" y="636.75" width="1.20" height="1.30" fill="#7a84a8" />
<rect x="428.55" y="636.75" width="1.20" height="1.30" fill="#7a84a8" />
<rect x="134.80" y="639.25" width="279.20" height="1.50" fill="#fbc67c" />
<rect x="149.30" y="639.35" width="1.20" height="1.30" fill="#7a84a8" />
<rect x="151.20" y="639.35" width="1.20" height="1.30" fill="#7a84a8" />
<rect x="168.50" y="639.35" width="1.20" height="1.30" fill="#7a84a8" />
<rect x="195.50" y="639.35" width="1.20" height="1.30" fill="#7a84a8" />
<rect x="196.60" y="639.35" width="1.20" height="1.30" fill="#7a84a8" />
<rect x="202.40" y="639.35" width="1.20" height="1.30" fill="#7a84a8" />
<rect x="210.20" y="639.35" width="1.20" height="1.30" fill="#7a84a8" />
<rect x="223.00" y="639.35" width="1.20" height="1.30" fill="#7a84a8" />
<rect x="231.60" y="639.35" width="1.20" height="1.30" fill="#7a84a8" />
<rect x="249.75" y="639.35" width="1.20" height="1.30" fill="#7a84a8" />
<rect x="251.75" y="639.35" width="1.20" height="1.30" fill="#7a84a8" />
<rect x="255.35" y="639.35" width="1.20" height="1.30" fill="#7a84a8" />
<rect x="271.90" y="639.35" width="1.20" height="1.30" fill="#7a84a8" />
<rect x="294.25" y="639.35" width="1.20" height="1.30" fill="#7a84a8" />
<rect x="297.25" y="639.35" width="1.20" height="1.30" fill="#7a84a8" />
<rect x="299.25" y="639.35" width="1.20" height="1.30" fill="#7a84a8" />
<rect x="302.85" y="639.35" width="1.20" height="1.30" fill="#7a84a8" />
<rect x="319.40" y="639.35" width="1.20" height="1.30" fill="#7a84a8" />
<rect x="321.00" y="639.35" width="1.20" height="1.30" fill="#7a84a8" />
<rect x="323.00" y="639.35" width="1.20" height="1.30" fill="#7a84a8" />
<rect x="341.75" y="639.35" width="1.20" height="1.30" fill="#7a84a8" />
<rect x="343.15" y="639.35" width="1.20" height="1.30" fill="#7a84a8" />
<rect x="344.75" y="639.35" width="1.20" height="1.30" fill="#7a84a8" />
<rect x="367.35" y="639.35" width="1.20" height="1.30" fill="#7a84a8" />
<rect x="391.55" y="639.35" width="1.20" height="1.30" fill="#7a84a8" />
<rect x="410.35" y="639.35" width="1.20" height="1.30" fill="#7a84a8" />
<rect x="179.60" y="641.85" width="224.40" height="1.50" fill="#fbc67c" />
<rect x="195.50" y="641.95" width="1.20" height="1.30" fill="#7a84a8" />
<rect x="196.60" y="641.95" width="1.20" height="1.30" fill="#7a84a8" />
<rect x="213.90" y="641.95" width="1.20" height="1.30" fill="#7a84a8" />
<rect x="223.00" y="641.95" width="1.20" height="1.30" fill="#7a84a8" />
<rect x="224.40" y="641.95" width="1.20" height="1.30" fill="#7a84a8" />
<rect x="231.60" y="641.95" width="1.20" height="1.30" fill="#7a84a8" />
<rect x="246.75" y="641.95" width="1.20" height="1.30" fill="#7a84a8" />
<rect x="251.75" y="641.95" width="1.20" height="1.30" fill="#7a84a8" />
<rect x="255.35" y="641.95" width="1.20" height="1.30" fill="#7a84a8" />
<rect x="273.50" y="641.95" width="1.20" height="1.30" fill="#7a84a8" />
<rect x="295.65" y="641.95" width="1.20" height="1.30" fill="#7a84a8" />
<rect x="297.25" y="641.95" width="1.20" height="1.30" fill="#7a84a8" />
<rect x="323.00" y="641.95" width="1.20" height="1.30" fill="#7a84a8" />
<rect x="326.60" y="641.95" width="1.20" height="1.30" fill="#7a84a8" />
<rect x="344.75" y="641.95" width="1.20" height="1.30" fill="#7a84a8" />
<rect x="346.75" y="641.95" width="1.20" height="1.30" fill="#7a84a8" />
<rect x="367.35" y="641.95" width="1.20" height="1.30" fill="#7a84a8" />
<rect x="389.15" y="641.95" width="1.20" height="1.30" fill="#7a84a8" />
<rect x="402.25" y="641.95" width="1.20" height="1.30" fill="#7a84a8" />
<rect x="99.00" y="644.45" width="301.00" height="1.50" fill="#fbc67c" />
<rect x="151.20" y="644.55" width="1.20" height="1.30" fill="#7a84a8" />
<rect x="197.80" y="644.55" width="1.20" height="1.30" fill="#7a84a8" />
<rect x="202.40" y="644.55" width="1.20" height="1.30" fill="#7a84a8" />
<rect x="213.90" y="644.55" width="1.20" height="1.30" fill="#7a84a8" />
<rect x="224.40" y="644.55" width="1.20" height="1.30" fill="#7a84a8" />
<rect x="228.00" y="644.55" width="1.20" height="1.30" fill="#7a84a8" />
<rect x="255.35" y="644.55" width="1.20" height="1.30" fill="#7a84a8" />
<rect x="270.50" y="644.55" width="1.20" height="1.30" fill="#7a84a8" />
<rect x="271.90" y="644.55" width="1.20" height="1.30" fill="#7a84a8" />
<rect x="273.50" y="644.55" width="1.20" height="1.30" fill="#7a84a8" />
<rect x="279.10" y="644.55" width="1.20" height="1.30" fill="#7a84a8" />
<rect x="299.25" y="644.55" width="1.20" height="1.30" fill="#7a84a8" />
<rect x="319.40" y="644.55" width="1.20" height="1.30" fill="#7a84a8" />
<rect x="326.60" y="644.55" width="1.20" height="1.30" fill="#7a84a8" />
<rect x="343.15" y="644.55" width="1.20" height="1.30" fill="#7a84a8" />
<rect x="344.75" y="644.55" width="1.20" height="1.30" fill="#7a84a8" />
<rect x="346.75" y="644.55" width="1.20" height="1.30" fill="#7a84a8" />
<rect x="152.70" y="647.05" width="243.30" height="1.50" fill="#fbc67c" />
<rect x="184.20" y="647.15" width="1.20" height="1.30" fill="#7a84a8" />
<rect x="195.50" y="647.15" width="1.20" height="1.30" fill="#7a84a8" />
<rect x="202.40" y="647.15" width="1.20" height="1.30" fill="#7a84a8" />
<rect x="210.20" y="647.15" width="1.20" height="1.30" fill="#7a84a8" />
<rect x="213.90" y="647.15" width="1.20" height="1.30" fill="#7a84a8" />
<rect x="223.00" y="647.15" width="1.20" height="1.30" fill="#7a84a8" />
<rect x="224.40" y="647.15" width="1.20" height="1.30" fill="#7a84a8" />
<rect x="226.00" y="647.15" width="1.20" height="1.30" fill="#7a84a8" />
<rect x="228.00" y="647.15" width="1.20" height="1.30" fill="#7a84a8" />
<rect x="231.60" y="647.15" width="1.20" height="1.30" fill="#7a84a8" />
<rect x="248.15" y="647.15" width="1.20" height="1.30" fill="#7a84a8" />
<rect x="249.75" y="647.15" width="1.20" height="1.30" fill="#7a84a8" />
<rect x="251.75" y="647.15" width="1.20" height="1.30" fill="#7a84a8" />
<rect x="255.35" y="647.15" width="1.20" height="1.30" fill="#7a84a8" />
<rect x="270.50" y="647.15" width="1.20" height="1.30" fill="#7a84a8" />
<rect x="271.90" y="647.15" width="1.20" height="1.30" fill="#7a84a8" />
<rect x="273.50" y="647.15" width="1.20" height="1.30" fill="#7a84a8" />
<rect x="279.10" y="647.15" width="1.20" height="1.30" fill="#7a84a8" />
<rect x="295.65" y="647.15" width="1.20" height="1.30" fill="#7a84a8" />
<rect x="299.25" y="647.15" width="1.20" height="1.30" fill="#7a84a8" />
<rect x="302.85" y="647.15" width="1.20" height="1.30" fill="#7a84a8" />
<rect x="321.00" y="647.15" width="1.20" height="1.30" fill="#7a84a8" />
<rect x="323.00" y="647.15" width="1.20" height="1.30" fill="#7a84a8" />
<rect x="326.60" y="647.15" width="1.20" height="1.30" fill="#7a84a8" />
<rect x="343.15" y="647.15" width="1.20" height="1.30" fill="#7a84a8" />
<rect x="344.75" y="647.15" width="1.20" height="1.30" fill="#7a84a8" />
<rect x="346.75" y="647.15" width="1.20" height="1.30" fill="#7a84a8" />
<rect x="391.55" y="647.15" width="1.20" height="1.30" fill="#7a84a8" />
<rect x="99.00" y="649.65" width="292.00" height="1.50" fill="#fbc67c" />
<rect x="149.30" y="649.75" width="1.20" height="1.30" fill="#7a84a8" />
<rect x="184.20" y="649.75" width="1.20" height="1.30" fill="#7a84a8" />
<rect x="195.50" y="649.75" width="1.20" height="1.30" fill="#7a84a8" />
<rect x="196.60" y="649.75" width="1.20" height="1.30" fill="#7a84a8" />
<rect x="197.80" y="649.75" width="1.20" height="1.30" fill="#7a84a8" />
<rect x="202.40" y="649.75" width="1.20" height="1.30" fill="#7a84a8" />
<rect x="210.20" y="649.75" width="1.20" height="1.30" fill="#7a84a8" />
<rect x="213.90" y="649.75" width="1.20" height="1.30" fill="#7a84a8" />
<rect x="224.40" y="649.75" width="1.20" height="1.30" fill="#7a84a8" />
<rect x="228.00" y="649.75" width="1.20" height="1.30" fill="#7a84a8" />
<rect x="249.75" y="649.75" width="1.20" height="1.30" fill="#7a84a8" />
<rect x="251.75" y="649.75" width="1.20" height="1.30" fill="#7a84a8" />
<rect x="271.90" y="649.75" width="1.20" height="1.30" fill="#7a84a8" />
<rect x="294.25" y="649.75" width="1.20" height="1.30" fill="#7a84a8" />
<rect x="297.25" y="649.75" width="1.20" height="1.30" fill="#7a84a8" />
<rect x="299.25" y="649.75" width="1.20" height="1.30" fill="#7a84a8" />
<rect x="302.85" y="649.75" width="1.20" height="1.30" fill="#7a84a8" />
<rect x="318.00" y="649.75" width="1.20" height="1.30" fill="#7a84a8" />
<rect x="319.40" y="649.75" width="1.20" height="1.30" fill="#7a84a8" />
<rect x="321.00" y="649.75" width="1.20" height="1.30" fill="#7a84a8" />
<rect x="346.75" y="649.75" width="1.20" height="1.30" fill="#7a84a8" />
<rect x="350.35" y="649.75" width="1.20" height="1.30" fill="#7a84a8" />
<rect x="389.15" y="649.75" width="1.20" height="1.30" fill="#7a84a8" />
<rect x="123.50" y="652.25" width="264.00" height="1.50" fill="#fbc67c" />
<rect x="149.30" y="652.35" width="1.20" height="1.30" fill="#7a84a8" />
<rect x="156.30" y="652.35" width="1.20" height="1.30" fill="#7a84a8" />
<rect x="168.50" y="652.35" width="1.20" height="1.30" fill="#7a84a8" />
<rect x="184.20" y="652.35" width="1.20" height="1.30" fill="#7a84a8" />
<rect x="195.50" y="652.35" width="1.20" height="1.30" fill="#7a84a8" />
<rect x="197.80" y="652.35" width="1.20" height="1.30" fill="#7a84a8" />
<rect x="202.40" y="652.35" width="1.20" height="1.30" fill="#7a84a8" />
<rect x="213.90" y="652.35" width="1.20" height="1.30" fill="#7a84a8" />
<rect x="223.00" y="652.35" width="1.20" height="1.30" fill="#7a84a8" />
<rect x="248.15" y="652.35" width="1.20" height="1.30" fill="#7a84a8" />
<rect x="249.75" y="652.35" width="1.20" height="1.30" fill="#7a84a8" />
<rect x="255.35" y="652.35" width="1.20" height="1.30" fill="#7a84a8" />
<rect x="270.50" y="652.35" width="1.20" height="1.30" fill="#7a84a8" />
<rect x="271.90" y="652.35" width="1.20" height="1.30" fill="#7a84a8" />
<rect x="273.50" y="652.35" width="1.20" height="1.30" fill="#7a84a8" />
<rect x="275.50" y="652.35" width="1.20" height="1.30" fill="#7a84a8" />
<rect x="279.10" y="652.35" width="1.20" height="1.30" fill="#7a84a8" />
<rect x="295.65" y="652.35" width="1.20" height="1.30" fill="#7a84a8" />
<rect x="297.25" y="652.35" width="1.20" height="1.30" fill="#7a84a8" />
<rect x="299.25" y="652.35" width="1.20" height="1.30" fill="#7a84a8" />
<rect x="302.85" y="652.35" width="1.20" height="1.30" fill="#7a84a8" />
<rect x="344.75" y="652.35" width="1.20" height="1.30" fill="#7a84a8" />
<rect x="350.35" y="652.35" width="1.20" height="1.30" fill="#7a84a8" />
<rect x="140.60" y="654.85" width="244.00" height="1.50" fill="#fbc67c" />
<rect x="149.30" y="654.95" width="1.20" height="1.30" fill="#7a84a8" />
<rect x="151.20" y="654.95" width="1.20" height="1.30" fill="#7a84a8" />
<rect x="156.30" y="654.95" width="1.20" height="1.30" fill="#7a84a8" />
<rect x="184.20" y="654.95" width="1.20" height="1.30" fill="#7a84a8" />
<rect x="195.50" y="654.95" width="1.20" height="1.30" fill="#7a84a8" />
<rect x="210.20" y="654.95" width="1.20" height="1.30" fill="#7a84a8" />
<rect x="224.40" y="654.95" width="1.20" height="1.30" fill="#7a84a8" />
<rect x="228.00" y="654.95" width="1.20" height="1.30" fill="#7a84a8" />
<rect x="231.60" y="654.95" width="1.20" height="1.30" fill="#7a84a8" />
<rect x="249.75" y="654.95" width="1.20" height="1.30" fill="#7a84a8" />
<rect x="270.50" y="654.95" width="1.20" height="1.30" fill="#7a84a8" />
<rect x="273.50" y="654.95" width="1.20" height="1.30" fill="#7a84a8" />
<rect x="275.50" y="654.95" width="1.20" height="1.30" fill="#7a84a8" />
<rect x="279.10" y="654.95" width="1.20" height="1.30" fill="#7a84a8" />
<rect x="294.25" y="654.95" width="1.20" height="1.30" fill="#7a84a8" />
<rect x="295.65" y="654.95" width="1.20" height="1.30" fill="#7a84a8" />
<rect x="299.25" y="654.95" width="1.20" height="1.30" fill="#7a84a8" />
<rect x="319.40" y="654.95" width="1.20" height="1.30" fill="#7a84a8" />
<rect x="321.00" y="654.95" width="1.20" height="1.30" fill="#7a84a8" />
<rect x="323.00" y="654.95" width="1.20" height="1.30" fill="#7a84a8" />
<rect x="145.40" y="657.45" width="232.60" height="1.50" fill="#fbc67c" />
<rect x="168.50" y="657.55" width="1.20" height="1.30" fill="#7a84a8" />
<rect x="213.90" y="657.55" width="1.20" height="1.30" fill="#7a84a8" />
<rect x="226.00" y="657.55" width="1.20" height="1.30" fill="#7a84a8" />
<rect x="228.00" y="657.55" width="1.20" height="1.30" fill="#7a84a8" />
<rect x="231.60" y="657.55" width="1.20" height="1.30" fill="#7a84a8" />
<rect x="246.75" y="657.55" width="1.20" height="1.30" fill="#7a84a8" />
<rect x="249.75" y="657.55" width="1.20" height="1.30" fill="#7a84a8" />
<rect x="251.75" y="657.55" width="1.20" height="1.30" fill="#7a84a8" />
<rect x="275.50" y="657.55" width="1.20" height="1.30" fill="#7a84a8" />
<rect x="295.65" y="657.55" width="1.20" height="1.30" fill="#7a84a8" />
<rect x="297.25" y="657.55" width="1.20" height="1.30" fill="#7a84a8" />
<rect x="299.25" y="657.55" width="1.20" height="1.30" fill="#7a84a8" />
<rect x="319.40" y="657.55" width="1.20" height="1.30" fill="#7a84a8" />
<rect x="323.00" y="657.55" width="1.20" height="1.30" fill="#7a84a8" />
<rect x="326.60" y="657.55" width="1.20" height="1.30" fill="#7a84a8" />
<rect x="341.75" y="657.55" width="1.20" height="1.30" fill="#7a84a8" />
<rect x="343.15" y="657.55" width="1.20" height="1.30" fill="#7a84a8" />
<rect x="344.75" y="657.55" width="1.20" height="1.30" fill="#7a84a8" />
<rect x="346.75" y="657.55" width="1.20" height="1.30" fill="#7a84a8" />
<rect x="367.35" y="657.55" width="1.20" height="1.30" fill="#7a84a8" />
<rect x="145.40" y="660.05" width="227.30" height="1.50" fill="#fbc67c" />
<rect x="149.30" y="660.15" width="1.20" height="1.30" fill="#7a84a8" />
<rect x="156.30" y="660.15" width="1.20" height="1.30" fill="#7a84a8" />
<rect x="168.50" y="660.15" width="1.20" height="1.30" fill="#7a84a8" />
<rect x="184.20" y="660.15" width="1.20" height="1.30" fill="#7a84a8" />
<rect x="195.50" y="660.15" width="1.20" height="1.30" fill="#7a84a8" />
<rect x="202.40" y="660.15" width="1.20" height="1.30" fill="#7a84a8" />
<rect x="226.00" y="660.15" width="1.20" height="1.30" fill="#7a84a8" />
<rect x="228.00" y="660.15" width="1.20" height="1.30" fill="#7a84a8" />
<rect x="231.60" y="660.15" width="1.20" height="1.30" fill="#7a84a8" />
<rect x="251.75" y="660.15" width="1.20" height="1.30" fill="#7a84a8" />
<rect x="255.35" y="660.15" width="1.20" height="1.30" fill="#7a84a8" />
<rect x="270.50" y="660.15" width="1.20" height="1.30" fill="#7a84a8" />
<rect x="271.90" y="660.15" width="1.20" height="1.30" fill="#7a84a8" />
<rect x="275.50" y="660.15" width="1.20" height="1.30" fill="#7a84a8" />
<rect x="295.65" y="660.15" width="1.20" height="1.30" fill="#7a84a8" />
<rect x="297.25" y="660.15" width="1.20" height="1.30" fill="#7a84a8" />
<rect x="299.25" y="660.15" width="1.20" height="1.30" fill="#7a84a8" />
<rect x="319.40" y="660.15" width="1.20" height="1.30" fill="#7a84a8" />
<rect x="323.00" y="660.15" width="1.20" height="1.30" fill="#7a84a8" />
<rect x="326.60" y="660.15" width="1.20" height="1.30" fill="#7a84a8" />
<rect x="343.15" y="660.15" width="1.20" height="1.30" fill="#7a84a8" />
<rect x="344.75" y="660.15" width="1.20" height="1.30" fill="#7a84a8" />
<rect x="346.75" y="660.15" width="1.20" height="1.30" fill="#7a84a8" />
<rect x="350.35" y="660.15" width="1.20" height="1.30" fill="#7a84a8" />
<rect x="367.35" y="660.15" width="1.20" height="1.30" fill="#7a84a8" />
<rect x="119.00" y="662.65" width="248.00" height="1.50" fill="#fbc67c" />
<rect x="128.10" y="662.75" width="1.20" height="1.30" fill="#7a84a8" />
<rect x="149.30" y="662.75" width="1.20" height="1.30" fill="#7a84a8" />
<rect x="151.20" y="662.75" width="1.20" height="1.30" fill="#7a84a8" />
<rect x="156.30" y="662.75" width="1.20" height="1.30" fill="#7a84a8" />
<rect x="196.60" y="662.75" width="1.20" height="1.30" fill="#7a84a8" />
<rect x="210.20" y="662.75" width="1.20" height="1.30" fill="#7a84a8" />
<rect x="223.00" y="662.75" width="1.20" height="1.30" fill="#7a84a8" />
<rect x="249.75" y="662.75" width="1.20" height="1.30" fill="#7a84a8" />
<rect x="251.75" y="662.75" width="1.20" height="1.30" fill="#7a84a8" />
<rect x="255.35" y="662.75" width="1.20" height="1.30" fill="#7a84a8" />
<rect x="273.50" y="662.75" width="1.20" height="1.30" fill="#7a84a8" />
<rect x="279.10" y="662.75" width="1.20" height="1.30" fill="#7a84a8" />
<rect x="341.75" y="662.75" width="1.20" height="1.30" fill="#7a84a8" />
<rect x="344.75" y="662.75" width="1.20" height="1.30" fill="#7a84a8" />
<rect x="346.75" y="662.75" width="1.20" height="1.30" fill="#7a84a8" />
<rect x="350.35" y="662.75" width="1.20" height="1.30" fill="#7a84a8" />
<rect x="132.00" y="665.25" width="235.00" height="1.50" fill="#fbc67c" />
<rect x="156.30" y="665.35" width="1.20" height="1.30" fill="#7a84a8" />
<rect x="184.20" y="665.35" width="1.20" height="1.30" fill="#7a84a8" />
<rect x="196.60" y="665.35" width="1.20" height="1.30" fill="#7a84a8" />
<rect x="202.40" y="665.35" width="1.20" height="1.30" fill="#7a84a8" />
<rect x="210.20" y="665.35" width="1.20" height="1.30" fill="#7a84a8" />
<rect x="223.00" y="665.35" width="1.20" height="1.30" fill="#7a84a8" />
<rect x="228.00" y="665.35" width="1.20" height="1.30" fill="#7a84a8" />
<rect x="231.60" y="665.35" width="1.20" height="1.30" fill="#7a84a8" />
<rect x="246.75" y="665.35" width="1.20" height="1.30" fill="#7a84a8" />
<rect x="248.15" y="665.35" width="1.20" height="1.30" fill="#7a84a8" />
<rect x="255.35" y="665.35" width="1.20" height="1.30" fill="#7a84a8" />
<rect x="275.50" y="665.35" width="1.20" height="1.30" fill="#7a84a8" />
<rect x="294.25" y="665.35" width="1.20" height="1.30" fill="#7a84a8" />
<rect x="297.25" y="665.35" width="1.20" height="1.30" fill="#7a84a8" />
<rect x="299.25" y="665.35" width="1.20" height="1.30" fill="#7a84a8" />
<rect x="302.85" y="665.35" width="1.20" height="1.30" fill="#7a84a8" />
<rect x="319.40" y="665.35" width="1.20" height="1.30" fill="#7a84a8" />
<rect x="323.00" y="665.35" width="1.20" height="1.30" fill="#7a84a8" />
<rect x="341.75" y="665.35" width="1.20" height="1.30" fill="#7a84a8" />
<rect x="343.15" y="665.35" width="1.20" height="1.30" fill="#7a84a8" />
<rect x="344.75" y="665.35" width="1.20" height="1.30" fill="#7a84a8" />
<rect x="350.35" y="665.35" width="1.20" height="1.30" fill="#7a84a8" />
<rect x="99.00" y="667.85" width="269.00" height="1.50" fill="#fbc67c" />
<rect x="105.50" y="667.95" width="1.20" height="1.30" fill="#7a84a8" />
<rect x="197.80" y="667.95" width="1.20" height="1.30" fill="#7a84a8" />
<rect x="210.20" y="667.95" width="1.20" height="1.30" fill="#7a84a8" />
<rect x="223.00" y="667.95" width="1.20" height="1.30" fill="#7a84a8" />
<rect x="224.40" y="667.95" width="1.20" height="1.30" fill="#7a84a8" />
<rect x="228.00" y="667.95" width="1.20" height="1.30" fill="#7a84a8" />
<rect x="231.60" y="667.95" width="1.20" height="1.30" fill="#7a84a8" />
<rect x="255.35" y="667.95" width="1.20" height="1.30" fill="#7a84a8" />
<rect x="273.50" y="667.95" width="1.20" height="1.30" fill="#7a84a8" />
<rect x="275.50" y="667.95" width="1.20" height="1.30" fill="#7a84a8" />
<rect x="294.25" y="667.95" width="1.20" height="1.30" fill="#7a84a8" />
<rect x="299.25" y="667.95" width="1.20" height="1.30" fill="#7a84a8" />
<rect x="302.85" y="667.95" width="1.20" height="1.30" fill="#7a84a8" />
<rect x="319.40" y="667.95" width="1.20" height="1.30" fill="#7a84a8" />
<rect x="321.00" y="667.95" width="1.20" height="1.30" fill="#7a84a8" />
<rect x="326.60" y="667.95" width="1.20" height="1.30" fill="#7a84a8" />
<rect x="341.75" y="667.95" width="1.20" height="1.30" fill="#7a84a8" />
<rect x="343.15" y="667.95" width="1.20" height="1.30" fill="#7a84a8" />
<rect x="346.75" y="667.95" width="1.20" height="1.30" fill="#7a84a8" />
<rect x="129.60" y="670.45" width="223.40" height="1.50" fill="#fbc67c" />
<rect x="149.30" y="670.55" width="1.20" height="1.30" fill="#7a84a8" />
<rect x="156.30" y="670.55" width="1.20" height="1.30" fill="#7a84a8" />
<rect x="184.20" y="670.55" width="1.20" height="1.30" fill="#7a84a8" />
<rect x="196.60" y="670.55" width="1.20" height="1.30" fill="#7a84a8" />
<rect x="197.80" y="670.55" width="1.20" height="1.30" fill="#7a84a8" />
<rect x="202.40" y="670.55" width="1.20" height="1.30" fill="#7a84a8" />
<rect x="213.90" y="670.55" width="1.20" height="1.30" fill="#7a84a8" />
<rect x="224.40" y="670.55" width="1.20" height="1.30" fill="#7a84a8" />
<rect x="226.00" y="670.55" width="1.20" height="1.30" fill="#7a84a8" />
<rect x="251.75" y="670.55" width="1.20" height="1.30" fill="#7a84a8" />
<rect x="271.90" y="670.55" width="1.20" height="1.30" fill="#7a84a8" />
<rect x="279.10" y="670.55" width="1.20" height="1.30" fill="#7a84a8" />
<rect x="294.25" y="670.55" width="1.20" height="1.30" fill="#7a84a8" />
<rect x="295.65" y="670.55" width="1.20" height="1.30" fill="#7a84a8" />
<rect x="299.25" y="670.55" width="1.20" height="1.30" fill="#7a84a8" />
<rect x="323.00" y="670.55" width="1.20" height="1.30" fill="#7a84a8" />
<rect x="343.15" y="670.55" width="1.20" height="1.30" fill="#7a84a8" />
<rect x="99.00" y="673.05" width="246.00" height="1.50" fill="#fbc67c" />
<rect x="149.30" y="673.15" width="1.20" height="1.30" fill="#7a84a8" />
<rect x="151.20" y="673.15" width="1.20" height="1.30" fill="#7a84a8" />
<rect x="156.30" y="673.15" width="1.20" height="1.30" fill="#7a84a8" />
<rect x="168.50" y="673.15" width="1.20" height="1.30" fill="#7a84a8" />
<rect x="184.20" y="673.15" width="1.20" height="1.30" fill="#7a84a8" />
<rect x="196.60" y="673.15" width="1.20" height="1.30" fill="#7a84a8" />
<rect x="197.80" y="673.15" width="1.20" height="1.30" fill="#7a84a8" />
<rect x="213.90" y="673.15" width="1.20" height="1.30" fill="#7a84a8" />
<rect x="223.00" y="673.15" width="1.20" height="1.30" fill="#7a84a8" />
<rect x="273.50" y="673.15" width="1.20" height="1.30" fill="#7a84a8" />
<rect x="275.50" y="673.15" width="1.20" height="1.30" fill="#7a84a8" />
<rect x="297.25" y="673.15" width="1.20" height="1.30" fill="#7a84a8" />
<rect x="299.25" y="673.15" width="1.20" height="1.30" fill="#7a84a8" />
<rect x="302.85" y="673.15" width="1.20" height="1.30" fill="#7a84a8" />
<rect x="318.00" y="673.15" width="1.20" height="1.30" fill="#7a84a8" />
<rect x="319.40" y="673.15" width="1.20" height="1.30" fill="#7a84a8" />
<rect x="321.00" y="673.15" width="1.20" height="1.30" fill="#7a84a8" />
<rect x="323.00" y="673.15" width="1.20" height="1.30" fill="#7a84a8" />
<rect x="99.00" y="675.65" width="237.50" height="1.50" fill="#fbc67c" />
<rect x="149.30" y="675.75" width="1.20" height="1.30" fill="#7a84a8" />
<rect x="151.20" y="675.75" width="1.20" height="1.30" fill="#7a84a8" />
<rect x="196.60" y="675.75" width="1.20" height="1.30" fill="#7a84a8" />
<rect x="197.80" y="675.75" width="1.20" height="1.30" fill="#7a84a8" />
<rect x="210.20" y="675.75" width="1.20" height="1.30" fill="#7a84a8" />
<rect x="223.00" y="675.75" width="1.20" height="1.30" fill="#7a84a8" />
<rect x="224.40" y="675.75" width="1.20" height="1.30" fill="#7a84a8" />
<rect x="255.35" y="675.75" width="1.20" height="1.30" fill="#7a84a8" />
<rect x="270.50" y="675.75" width="1.20" height="1.30" fill="#7a84a8" />
<rect x="271.90" y="675.75" width="1.20" height="1.30" fill="#7a84a8" />
<rect x="273.50" y="675.75" width="1.20" height="1.30" fill="#7a84a8" />
<rect x="279.10" y="675.75" width="1.20" height="1.30" fill="#7a84a8" />
<rect x="295.65" y="675.75" width="1.20" height="1.30" fill="#7a84a8" />
<rect x="299.25" y="675.75" width="1.20" height="1.30" fill="#7a84a8" />
<rect x="302.85" y="675.75" width="1.20" height="1.30" fill="#7a84a8" />
<rect x="319.40" y="675.75" width="1.20" height="1.30" fill="#7a84a8" />
<rect x="321.00" y="675.75" width="1.20" height="1.30" fill="#7a84a8" />
<rect x="326.60" y="675.75" width="1.20" height="1.30" fill="#7a84a8" />
<rect x="218.50" y="604.00" width="20.10" height="1.40" fill="#2ee0f5" />
<path d="M237.60,602.50 L241.60,604.70 L237.60,606.90 Z" fill="#2ee0f5"/>
<rect x="242.50" y="604.00" width="19.20" height="1.40" fill="#2a4a8a" />
<path d="M260.70,602.50 L264.70,604.70 L260.70,606.90 Z" fill="#2a4a8a"/>
<rect x="265.50" y="604.00" width="20.00" height="1.40" fill="#2a4a8a" />
<path d="M284.50,602.50 L288.50,604.70 L284.50,606.90 Z" fill="#2a4a8a"/>
<rect x="289.30" y="604.00" width="20.20" height="1.40" fill="#2a4a8a" />
<path d="M308.50,602.50 L312.50,604.70 L308.50,606.90 Z" fill="#2a4a8a"/>
<rect x="313.30" y="604.00" width="19.30" height="1.40" fill="#2a4a8a" />
<path d="M331.60,602.50 L335.60,604.70 L331.60,606.90 Z" fill="#2a4a8a"/>
<rect x="336.50" y="604.00" width="20.10" height="1.40" fill="#2a4a8a" />
<path d="M355.60,602.50 L359.60,604.70 L355.60,606.90 Z" fill="#2a4a8a"/>
<text x="94.30" y="544.75" font-size="8.3" fill="#111" text-anchor="end" font-weight="normal"  stroke="#111" stroke-width="0.149">Genes</text>
<text x="94.30" y="563.75" font-size="8.3" fill="#111" text-anchor="end" font-weight="normal"  stroke="#111" stroke-width="0.149">OGM ref. allele</text>
<text x="94.30" y="581.75" font-size="8.3" fill="#111" text-anchor="end" font-weight="normal"  stroke="#111" stroke-width="0.149">Reference chr9*</text>
<text x="94.30" y="601.00" font-size="8.3" fill="#111" text-anchor="end" font-weight="normal"  stroke="#111" stroke-width="0.149">OGM <tspan font-style="italic">PAX5</tspan>-ITM allele</text>
<text x="89.50" y="647.00" font-size="10.2" fill="#111" text-anchor="middle" transform="rotate(-90 89.50 647.00)">Molecules</text>
<line x1="218.75" y1="679.00" x2="242.50" y2="679.00" stroke="#36d0e8" stroke-width="1" />
<line x1="218.75" y1="689.30" x2="242.50" y2="689.30" stroke="#36d0e8" stroke-width="1" />
<line x1="218.75" y1="677.00" x2="218.75" y2="681.00" stroke="#36d0e8" stroke-width="0.8" />
<line x1="218.75" y1="687.30" x2="218.75" y2="691.30" stroke="#36d0e8" stroke-width="0.8" />
<line x1="242.50" y1="679.00" x2="361.25" y2="679.00" stroke="#7a9ad0" stroke-width="1" />
<line x1="242.50" y1="689.30" x2="361.25" y2="689.30" stroke="#7a9ad0" stroke-width="1" />
<line x1="242.50" y1="677.00" x2="242.50" y2="681.00" stroke="#7a9ad0" stroke-width="0.8" />
<line x1="266.50" y1="677.00" x2="266.50" y2="681.00" stroke="#7a9ad0" stroke-width="0.8" />
<line x1="290.50" y1="677.00" x2="290.50" y2="681.00" stroke="#7a9ad0" stroke-width="0.8" />
<line x1="314.50" y1="677.00" x2="314.50" y2="681.00" stroke="#7a9ad0" stroke-width="0.8" />
<line x1="338.00" y1="677.00" x2="338.00" y2="681.00" stroke="#7a9ad0" stroke-width="0.8" />
<line x1="361.25" y1="677.00" x2="361.25" y2="681.00" stroke="#7a9ad0" stroke-width="0.8" />
<line x1="361.25" y1="687.30" x2="361.25" y2="691.30" stroke="#7a9ad0" stroke-width="0.8" />
<text x="228.75" y="687.80" font-size="7.7" fill="#111" text-anchor="middle" font-weight="normal"  stroke="#111" stroke-width="0.139">26.7</text>
<text x="253.00" y="687.80" font-size="7.7" fill="#111" text-anchor="middle" font-weight="normal"  stroke="#111" stroke-width="0.139">26.7</text>
<text x="277.50" y="687.80" font-size="7.7" fill="#111" text-anchor="middle" font-weight="normal"  stroke="#111" stroke-width="0.139">26.7</text>
<text x="301.75" y="687.80" font-size="7.7" fill="#111" text-anchor="middle" font-weight="normal"  stroke="#111" stroke-width="0.139">26.7</text>
<text x="326.25" y="687.80" font-size="7.7" fill="#111" text-anchor="middle" font-weight="normal"  stroke="#111" stroke-width="0.139">26.7</text>
<text x="349.10" y="687.80" font-size="7.7" fill="#111" text-anchor="middle" font-weight="normal"  stroke="#111" stroke-width="0.139">26.7 kb</text>
<text x="201.25" y="699.20" font-size="6.95" fill="#111" text-anchor="start" font-weight="normal"  stroke="#111" stroke-width="0.125">Ref. copy</text>
<text x="238.75" y="699.20" font-size="6.95" fill="#111" text-anchor="start" font-weight="normal"  stroke="#111" stroke-width="0.125">5 extra copies: 134.6 kb insertion</text>
<text x="475.00" y="699.85" font-size="10" fill="#111" text-anchor="start" font-weight="normal"  stroke="#111" stroke-width="0.180">Case 4</text>
<line x1="98.50" y1="706.25" x2="509.00" y2="706.25" stroke="#a8bde6" stroke-width="1" />
<line x1="98.50" y1="703.25" x2="98.50" y2="709.25" stroke="#a8bde6" stroke-width="0.8" />
<line x1="509.00" y1="703.25" x2="509.00" y2="709.25" stroke="#a8bde6" stroke-width="0.8" />
<text x="19.00" y="717.25" font-size="8.35" fill="#111" text-anchor="start" font-weight="normal"  stroke="#111" stroke-width="0.150">*hg38 in silico DLE-1 digestions</text>
<text x="282.50" y="717.25" font-size="8.35" fill="#111" text-anchor="start" font-weight="normal"  stroke="#111" stroke-width="0.150">~500 kb</text>
<text x="10.90" y="752.00" font-size="15.6" fill="#000" text-anchor="start" font-weight="bold" stroke="#000" stroke-width="0.35">D</text>
<rect x="96.50" y="745.50" width="413.00" height="85.30" fill="#f3f1ef" />
<rect x="122.82" y="780.00" width="0.70" height="21.00" fill="#d4d4d4" />
<rect x="144.43" y="780.00" width="0.70" height="21.00" fill="#d4d4d4" />
<rect x="146.37" y="780.00" width="0.70" height="21.00" fill="#d4d4d4" />
<rect x="151.57" y="780.00" width="0.70" height="21.00" fill="#d4d4d4" />
<rect x="164.01" y="780.00" width="0.70" height="21.00" fill="#d4d4d4" />
<rect x="180.01" y="780.00" width="0.70" height="21.00" fill="#d4d4d4" />
<rect x="191.54" y="780.00" width="0.70" height="21.00" fill="#d4d4d4" />
<rect x="193.88" y="780.00" width="0.70" height="21.00" fill="#d4d4d4" />
<rect x="198.57" y="780.00" width="0.70" height="21.00" fill="#d4d4d4" />
<rect x="206.52" y="780.00" width="0.70" height="21.00" fill="#d4d4d4" />
<rect x="210.30" y="780.00" width="0.70" height="21.00" fill="#d4d4d4" />
<rect x="219.58" y="780.00" width="0.70" height="21.00" fill="#d4d4d4" />
<rect x="221.00" y="780.00" width="0.70" height="21.00" fill="#d4d4d4" />
<rect x="222.63" y="780.00" width="0.70" height="21.00" fill="#d4d4d4" />
<rect x="224.67" y="780.00" width="0.70" height="21.00" fill="#d4d4d4" />
<rect x="228.34" y="780.00" width="0.70" height="21.00" fill="#d4d4d4" />
<rect x="245.68" y="780.00" width="0.70" height="21.00" fill="#d4d4d4" />
<rect x="256.59" y="780.00" width="0.70" height="21.00" fill="#d4d4d4" />
<rect x="270.35" y="780.00" width="0.70" height="21.00" fill="#d4d4d4" />
<rect x="281.26" y="780.00" width="0.70" height="21.00" fill="#d4d4d4" />
<rect x="282.38" y="780.00" width="0.70" height="21.00" fill="#d4d4d4" />
<rect x="286.46" y="780.00" width="0.70" height="21.00" fill="#d4d4d4" />
<rect x="289.52" y="780.00" width="0.70" height="21.00" fill="#d4d4d4" />
<rect x="292.68" y="780.00" width="0.70" height="21.00" fill="#d4d4d4" />
<rect x="295.74" y="780.00" width="0.70" height="21.00" fill="#d4d4d4" />
<rect x="298.80" y="780.00" width="0.70" height="21.00" fill="#d4d4d4" />
<rect x="302.98" y="780.00" width="0.70" height="21.00" fill="#d4d4d4" />
<rect x="305.63" y="780.00" width="0.70" height="21.00" fill="#d4d4d4" />
<rect x="308.08" y="780.00" width="0.70" height="21.00" fill="#d4d4d4" />
<rect x="312.26" y="780.00" width="0.70" height="21.00" fill="#d4d4d4" />
<rect x="315.32" y="780.00" width="0.70" height="21.00" fill="#d4d4d4" />
<rect x="316.74" y="780.00" width="0.70" height="21.00" fill="#d4d4d4" />
<rect x="319.39" y="780.00" width="0.70" height="21.00" fill="#d4d4d4" />
<rect x="322.55" y="780.00" width="0.70" height="21.00" fill="#d4d4d4" />
<rect x="324.59" y="780.00" width="0.70" height="21.00" fill="#d4d4d4" />
<rect x="327.04" y="780.00" width="0.70" height="21.00" fill="#d4d4d4" />
<rect x="329.08" y="780.00" width="0.70" height="21.00" fill="#d4d4d4" />
<rect x="334.89" y="780.00" width="0.70" height="21.00" fill="#d4d4d4" />
<rect x="337.95" y="780.00" width="0.70" height="21.00" fill="#d4d4d4" />
<rect x="342.13" y="780.00" width="0.70" height="21.00" fill="#d4d4d4" />
<rect x="344.17" y="780.00" width="0.70" height="21.00" fill="#d4d4d4" />
<rect x="346.21" y="780.00" width="0.70" height="21.00" fill="#d4d4d4" />
<rect x="351.72" y="780.00" width="0.70" height="21.00" fill="#d4d4d4" />
<rect x="354.47" y="780.00" width="0.70" height="21.00" fill="#d4d4d4" />
<rect x="357.93" y="780.00" width="0.70" height="21.00" fill="#d4d4d4" />
<rect x="363.75" y="780.00" width="0.70" height="21.00" fill="#d4d4d4" />
<rect x="365.38" y="780.00" width="0.70" height="21.00" fill="#d4d4d4" />
<rect x="367.42" y="780.00" width="0.70" height="21.00" fill="#d4d4d4" />
<rect x="370.88" y="780.00" width="0.70" height="21.00" fill="#d4d4d4" />
<rect x="376.08" y="780.00" width="0.70" height="21.00" fill="#d4d4d4" />
<rect x="379.75" y="780.00" width="0.70" height="21.00" fill="#d4d4d4" />
<rect x="383.93" y="780.00" width="0.70" height="21.00" fill="#d4d4d4" />
<rect x="390.46" y="780.00" width="0.70" height="21.00" fill="#d4d4d4" />
<rect x="398.72" y="780.00" width="0.70" height="21.00" fill="#d4d4d4" />
<rect x="405.96" y="780.00" width="0.70" height="21.00" fill="#d4d4d4" />
<rect x="408.00" y="780.00" width="0.70" height="21.00" fill="#d4d4d4" />
<rect x="410.04" y="780.00" width="0.70" height="21.00" fill="#d4d4d4" />
<rect x="416.26" y="780.00" width="0.70" height="21.00" fill="#d4d4d4" />
<rect x="421.35" y="780.00" width="0.70" height="21.00" fill="#d4d4d4" />
<rect x="425.53" y="780.00" width="0.70" height="21.00" fill="#d4d4d4" />
<rect x="428.59" y="780.00" width="0.70" height="21.00" fill="#d4d4d4" />
<rect x="431.65" y="780.00" width="0.70" height="21.00" fill="#d4d4d4" />
<rect x="434.81" y="780.00" width="0.70" height="21.00" fill="#d4d4d4" />
<rect x="441.95" y="780.00" width="0.70" height="21.00" fill="#d4d4d4" />
<rect x="445.11" y="780.00" width="0.70" height="21.00" fill="#d4d4d4" />
<rect x="451.23" y="780.00" width="0.70" height="21.00" fill="#d4d4d4" />
<rect x="463.57" y="780.00" width="0.70" height="21.00" fill="#d4d4d4" />
<rect x="465.71" y="780.00" width="0.70" height="21.00" fill="#d4d4d4" />
<rect x="467.75" y="780.00" width="0.70" height="21.00" fill="#d4d4d4" />
<rect x="469.78" y="780.00" width="0.70" height="21.00" fill="#d4d4d4" />
<rect x="472.84" y="780.00" width="0.70" height="21.00" fill="#d4d4d4" />
<rect x="476.00" y="780.00" width="0.70" height="21.00" fill="#d4d4d4" />
<rect x="480.08" y="780.00" width="0.70" height="21.00" fill="#d4d4d4" />
<rect x="483.14" y="780.00" width="0.70" height="21.00" fill="#d4d4d4" />
<rect x="488.34" y="780.00" width="0.70" height="21.00" fill="#d4d4d4" />
<rect x="490.38" y="780.00" width="0.70" height="21.00" fill="#d4d4d4" />
<rect x="496.60" y="780.00" width="0.70" height="21.00" fill="#d4d4d4" />
<rect x="500.68" y="780.00" width="0.70" height="21.00" fill="#d4d4d4" />
<rect x="504.76" y="780.00" width="0.70" height="21.00" fill="#d4d4d4" />
<rect x="506.80" y="780.00" width="0.70" height="21.00" fill="#d4d4d4" />
<rect x="96.50" y="751.50" width="413.00" height="0.90" fill="#fdfcfb" />
<rect x="96.50" y="763.10" width="413.00" height="0.90" fill="#fdfcfb" />
<rect x="96.50" y="773.50" width="413.00" height="0.90" fill="#fdfcfb" />
<rect x="96.50" y="780.10" width="413.00" height="0.90" fill="#fdfcfb" />
<rect x="96.50" y="800.00" width="413.00" height="0.90" fill="#fdfcfb" />
<rect x="96.50" y="807.10" width="413.00" height="0.90" fill="#fdfcfb" />
<rect x="96.50" y="824.00" width="413.00" height="0.90" fill="#fdfcfb" />
<rect x="96.50" y="830.90" width="413.00" height="0.90" fill="#fdfcfb" />
<rect x="96.50" y="752.50" width="154.00" height="10.50" fill="#6a5ef2" />
<rect x="290.00" y="752.50" width="9.25" height="10.50" fill="#6a5ef2" />
<rect x="325.50" y="752.50" width="184.00" height="10.50" fill="#6a5ef2" />
<text x="173.50" y="760.85" font-size="8.6" fill="#fff" text-anchor="middle" font-weight="normal" font-style="italic" >PAX5</text>
<text x="416.50" y="760.85" font-size="8.6" fill="#fff" text-anchor="middle" font-weight="normal" font-style="italic" >ZCCHC7</text>
<rect x="96.50" y="774.50" width="413.00" height="5.50" fill="#66c6ee" />
<rect x="99.47" y="774.50" width="1.30" height="5.50" fill="#2f72aa" />
<rect x="122.52" y="774.50" width="1.30" height="5.50" fill="#2f72aa" />
<rect x="143.98" y="774.50" width="1.60" height="5.50" fill="#2f72aa" />
<rect x="145.92" y="774.50" width="1.60" height="5.50" fill="#2f72aa" />
<rect x="151.12" y="774.50" width="1.60" height="5.50" fill="#2f72aa" />
<rect x="163.91" y="774.50" width="0.90" height="5.50" fill="#2f72aa" />
<rect x="179.86" y="774.50" width="1.00" height="5.50" fill="#2f72aa" />
<rect x="191.44" y="774.50" width="0.90" height="5.50" fill="#2f72aa" />
<rect x="192.36" y="774.50" width="1.30" height="5.50" fill="#3f7fe0" />
<rect x="193.43" y="774.50" width="1.60" height="5.50" fill="#2f72aa" />
<rect x="198.12" y="774.50" width="1.60" height="5.50" fill="#2f72aa" />
<rect x="206.07" y="774.50" width="1.60" height="5.50" fill="#2f72aa" />
<rect x="210.20" y="774.50" width="0.90" height="5.50" fill="#2f72aa" />
<rect x="219.43" y="774.50" width="1.00" height="5.50" fill="#2f72aa" />
<rect x="220.70" y="774.50" width="1.30" height="5.50" fill="#2f72aa" />
<rect x="222.18" y="774.50" width="1.60" height="5.50" fill="#2f72aa" />
<rect x="224.22" y="774.50" width="1.60" height="5.50" fill="#2f72aa" />
<rect x="228.14" y="774.50" width="1.10" height="5.50" fill="#2f72aa" />
<rect x="245.58" y="774.50" width="0.90" height="5.50" fill="#2f72aa" />
<rect x="256.39" y="774.50" width="1.10" height="5.50" fill="#2f72aa" />
<rect x="267.45" y="774.50" width="1.60" height="5.50" fill="#3f7fe0" />
<rect x="270.25" y="774.50" width="0.90" height="5.50" fill="#2f72aa" />
<rect x="281.06" y="774.50" width="1.10" height="5.50" fill="#2f72aa" />
<rect x="281.93" y="774.50" width="1.60" height="5.50" fill="#2f72aa" />
<rect x="286.36" y="774.50" width="0.90" height="5.50" fill="#2f72aa" />
<rect x="289.42" y="774.50" width="0.90" height="5.50" fill="#2f72aa" />
<rect x="292.48" y="774.50" width="1.10" height="5.50" fill="#2f72aa" />
<rect x="295.64" y="774.50" width="0.90" height="5.50" fill="#2f72aa" />
<rect x="298.70" y="774.50" width="0.90" height="5.50" fill="#2f72aa" />
<rect x="302.88" y="774.50" width="0.90" height="5.50" fill="#2f72aa" />
<rect x="305.33" y="774.50" width="1.30" height="5.50" fill="#2f72aa" />
<rect x="307.63" y="774.50" width="1.60" height="5.50" fill="#2f72aa" />
<rect x="312.06" y="774.50" width="1.10" height="5.50" fill="#2f72aa" />
<rect x="315.12" y="774.50" width="1.10" height="5.50" fill="#2f72aa" />
<rect x="316.44" y="774.50" width="1.30" height="5.50" fill="#2f72aa" />
<rect x="319.29" y="774.50" width="0.90" height="5.50" fill="#2f72aa" />
<rect x="322.45" y="774.50" width="0.90" height="5.50" fill="#2f72aa" />
<rect x="324.29" y="774.50" width="1.30" height="5.50" fill="#2f72aa" />
<rect x="326.89" y="774.50" width="1.00" height="5.50" fill="#2f72aa" />
<rect x="328.93" y="774.50" width="1.00" height="5.50" fill="#2f72aa" />
<rect x="331.68" y="774.50" width="1.00" height="5.50" fill="#3f7fe0" />
<rect x="334.74" y="774.50" width="1.00" height="5.50" fill="#2f72aa" />
<rect x="337.65" y="774.50" width="1.30" height="5.50" fill="#2f72aa" />
<rect x="339.69" y="774.50" width="1.30" height="5.50" fill="#3f7fe0" />
<rect x="342.03" y="774.50" width="0.90" height="5.50" fill="#2f72aa" />
<rect x="343.72" y="774.50" width="1.60" height="5.50" fill="#2f72aa" />
<rect x="346.11" y="774.50" width="0.90" height="5.50" fill="#2f72aa" />
<rect x="348.56" y="774.50" width="1.30" height="5.50" fill="#3f7fe0" />
<rect x="351.27" y="774.50" width="1.60" height="5.50" fill="#2f72aa" />
<rect x="354.37" y="774.50" width="0.90" height="5.50" fill="#2f72aa" />
<rect x="357.78" y="774.50" width="1.00" height="5.50" fill="#2f72aa" />
<rect x="363.55" y="774.50" width="1.10" height="5.50" fill="#2f72aa" />
<rect x="364.93" y="774.50" width="1.60" height="5.50" fill="#2f72aa" />
<rect x="367.22" y="774.50" width="1.10" height="5.50" fill="#2f72aa" />
<rect x="370.78" y="774.50" width="0.90" height="5.50" fill="#2f72aa" />
<rect x="375.63" y="774.50" width="1.60" height="5.50" fill="#2f72aa" />
<rect x="379.65" y="774.50" width="0.90" height="5.50" fill="#2f72aa" />
<rect x="383.73" y="774.50" width="1.10" height="5.50" fill="#2f72aa" />
<rect x="387.25" y="774.50" width="1.00" height="5.50" fill="#3f7fe0" />
<rect x="390.16" y="774.50" width="1.30" height="5.50" fill="#2f72aa" />
<rect x="394.49" y="774.50" width="1.00" height="5.50" fill="#2f72aa" />
<rect x="398.57" y="774.50" width="1.00" height="5.50" fill="#2f72aa" />
<rect x="402.60" y="774.50" width="1.10" height="5.50" fill="#3f7fe0" />
<rect x="405.51" y="774.50" width="1.60" height="5.50" fill="#2f72aa" />
<rect x="407.85" y="774.50" width="1.00" height="5.50" fill="#2f72aa" />
<rect x="409.59" y="774.50" width="1.60" height="5.50" fill="#2f72aa" />
<rect x="413.92" y="774.50" width="1.30" height="5.50" fill="#3f7fe0" />
<rect x="415.81" y="774.50" width="1.60" height="5.50" fill="#2f72aa" />
<rect x="421.25" y="774.50" width="0.90" height="5.50" fill="#2f72aa" />
<rect x="425.43" y="774.50" width="0.90" height="5.50" fill="#2f72aa" />
<rect x="428.39" y="774.50" width="1.10" height="5.50" fill="#2f72aa" />
<rect x="431.35" y="774.50" width="1.30" height="5.50" fill="#2f72aa" />
<rect x="434.36" y="774.50" width="1.60" height="5.50" fill="#2f72aa" />
<rect x="441.50" y="774.50" width="1.60" height="5.50" fill="#2f72aa" />
<rect x="445.01" y="774.50" width="0.90" height="5.50" fill="#2f72aa" />
<rect x="450.93" y="774.50" width="1.30" height="5.50" fill="#2f72aa" />
<rect x="463.12" y="774.50" width="1.60" height="5.50" fill="#2f72aa" />
<rect x="465.51" y="774.50" width="1.10" height="5.50" fill="#2f72aa" />
<rect x="467.60" y="774.50" width="1.00" height="5.50" fill="#2f72aa" />
<rect x="469.68" y="774.50" width="0.90" height="5.50" fill="#2f72aa" />
<rect x="472.54" y="774.50" width="1.30" height="5.50" fill="#2f72aa" />
<rect x="475.90" y="774.50" width="0.90" height="5.50" fill="#2f72aa" />
<rect x="479.88" y="774.50" width="1.10" height="5.50" fill="#2f72aa" />
<rect x="482.99" y="774.50" width="1.00" height="5.50" fill="#2f72aa" />
<rect x="485.03" y="774.50" width="1.00" height="5.50" fill="#3f7fe0" />
<rect x="488.14" y="774.50" width="1.10" height="5.50" fill="#2f72aa" />
<rect x="489.93" y="774.50" width="1.60" height="5.50" fill="#2f72aa" />
<rect x="496.45" y="774.50" width="1.00" height="5.50" fill="#2f72aa" />
<rect x="500.58" y="774.50" width="0.90" height="5.50" fill="#2f72aa" />
<rect x="504.56" y="774.50" width="1.10" height="5.50" fill="#2f72aa" />
<rect x="506.70" y="774.50" width="0.90" height="5.50" fill="#2f72aa" />
<line x1="103.45" y1="799.70" x2="103.45" y2="801.00" stroke="#333" stroke-width="0.7" />
<line x1="112.30" y1="799.70" x2="112.30" y2="801.00" stroke="#333" stroke-width="0.7" />
<line x1="121.15" y1="799.70" x2="121.15" y2="801.00" stroke="#333" stroke-width="0.7" />
<line x1="130.00" y1="797.50" x2="130.00" y2="801.00" stroke="#333" stroke-width="0.7" />
<text x="130.20" y="797.40" font-size="3.5" fill="#222" font-weight="bold" transform="rotate(-40 130.20 797.40)">37.0M</text>
<line x1="138.85" y1="799.70" x2="138.85" y2="801.00" stroke="#333" stroke-width="0.7" />
<line x1="147.70" y1="799.70" x2="147.70" y2="801.00" stroke="#333" stroke-width="0.7" />
<line x1="156.55" y1="799.70" x2="156.55" y2="801.00" stroke="#333" stroke-width="0.7" />
<line x1="165.40" y1="799.70" x2="165.40" y2="801.00" stroke="#333" stroke-width="0.7" />
<line x1="174.25" y1="797.50" x2="174.25" y2="801.00" stroke="#333" stroke-width="0.7" />
<text x="174.45" y="797.40" font-size="3.5" fill="#222" font-weight="bold" transform="rotate(-40 174.45 797.40)">37.0M</text>
<line x1="183.10" y1="799.70" x2="183.10" y2="801.00" stroke="#333" stroke-width="0.7" />
<line x1="191.95" y1="799.70" x2="191.95" y2="801.00" stroke="#333" stroke-width="0.7" />
<line x1="200.80" y1="799.70" x2="200.80" y2="801.00" stroke="#333" stroke-width="0.7" />
<line x1="209.65" y1="799.70" x2="209.65" y2="801.00" stroke="#333" stroke-width="0.7" />
<line x1="218.50" y1="797.50" x2="218.50" y2="801.00" stroke="#333" stroke-width="0.7" />
<text x="218.70" y="797.40" font-size="3.5" fill="#222" font-weight="bold" transform="rotate(-40 218.70 797.40)">37.0M</text>
<line x1="227.35" y1="799.70" x2="227.35" y2="801.00" stroke="#333" stroke-width="0.7" />
<line x1="236.20" y1="799.70" x2="236.20" y2="801.00" stroke="#333" stroke-width="0.7" />
<line x1="245.05" y1="799.70" x2="245.05" y2="801.00" stroke="#333" stroke-width="0.7" />
<line x1="253.90" y1="799.70" x2="253.90" y2="801.00" stroke="#333" stroke-width="0.7" />
<line x1="262.75" y1="797.50" x2="262.75" y2="801.00" stroke="#333" stroke-width="0.7" />
<text x="262.95" y="797.40" font-size="3.5" fill="#222" font-weight="bold" transform="rotate(-40 262.95 797.40)">37.0M</text>
<line x1="271.60" y1="799.70" x2="271.60" y2="801.00" stroke="#333" stroke-width="0.7" />
<line x1="280.45" y1="799.70" x2="280.45" y2="801.00" stroke="#333" stroke-width="0.7" />
<line x1="289.30" y1="799.70" x2="289.30" y2="801.00" stroke="#333" stroke-width="0.7" />
<line x1="298.15" y1="799.70" x2="298.15" y2="801.00" stroke="#333" stroke-width="0.7" />
<line x1="307.00" y1="797.50" x2="307.00" y2="801.00" stroke="#333" stroke-width="0.7" />
<text x="307.20" y="797.40" font-size="3.5" fill="#222" font-weight="bold" transform="rotate(-40 307.20 797.40)">37.0M</text>
<line x1="315.85" y1="799.70" x2="315.85" y2="801.00" stroke="#333" stroke-width="0.7" />
<line x1="324.70" y1="799.70" x2="324.70" y2="801.00" stroke="#333" stroke-width="0.7" />
<line x1="333.55" y1="799.70" x2="333.55" y2="801.00" stroke="#333" stroke-width="0.7" />
<line x1="342.40" y1="799.70" x2="342.40" y2="801.00" stroke="#333" stroke-width="0.7" />
<line x1="351.25" y1="797.50" x2="351.25" y2="801.00" stroke="#333" stroke-width="0.7" />
<text x="351.45" y="797.40" font-size="3.5" fill="#222" font-weight="bold" transform="rotate(-40 351.45 797.40)">37.0M</text>
<line x1="360.10" y1="799.70" x2="360.10" y2="801.00" stroke="#333" stroke-width="0.7" />
<line x1="368.95" y1="799.70" x2="368.95" y2="801.00" stroke="#333" stroke-width="0.7" />
<line x1="377.80" y1="799.70" x2="377.80" y2="801.00" stroke="#333" stroke-width="0.7" />
<line x1="386.65" y1="799.70" x2="386.65" y2="801.00" stroke="#333" stroke-width="0.7" />
<line x1="395.50" y1="797.50" x2="395.50" y2="801.00" stroke="#333" stroke-width="0.7" />
<text x="395.70" y="797.40" font-size="3.5" fill="#222" font-weight="bold" transform="rotate(-40 395.70 797.40)">37.0M</text>
<line x1="404.35" y1="799.70" x2="404.35" y2="801.00" stroke="#333" stroke-width="0.7" />
<line x1="413.20" y1="799.70" x2="413.20" y2="801.00" stroke="#333" stroke-width="0.7" />
<line x1="422.05" y1="799.70" x2="422.05" y2="801.00" stroke="#333" stroke-width="0.7" />
<line x1="430.90" y1="799.70" x2="430.90" y2="801.00" stroke="#333" stroke-width="0.7" />
<line x1="439.75" y1="797.50" x2="439.75" y2="801.00" stroke="#333" stroke-width="0.7" />
<text x="439.95" y="797.40" font-size="3.5" fill="#222" font-weight="bold" transform="rotate(-40 439.95 797.40)">37.0M</text>
<line x1="448.60" y1="799.70" x2="448.60" y2="801.00" stroke="#333" stroke-width="0.7" />
<line x1="457.45" y1="799.70" x2="457.45" y2="801.00" stroke="#333" stroke-width="0.7" />
<line x1="466.30" y1="799.70" x2="466.30" y2="801.00" stroke="#333" stroke-width="0.7" />
<line x1="475.15" y1="799.70" x2="475.15" y2="801.00" stroke="#333" stroke-width="0.7" />
<line x1="484.00" y1="797.50" x2="484.00" y2="801.00" stroke="#333" stroke-width="0.7" />
<text x="484.20" y="797.40" font-size="3.5" fill="#222" font-weight="bold" transform="rotate(-40 484.20 797.40)">37.0M</text>
<line x1="492.85" y1="799.70" x2="492.85" y2="801.00" stroke="#333" stroke-width="0.7" />
<line x1="501.70" y1="799.70" x2="501.70" y2="801.00" stroke="#333" stroke-width="0.7" />
<rect x="96.50" y="801.00" width="413.00" height="6.00" fill="#8dc63f" />
<rect x="99.47" y="801.00" width="1.30" height="6.00" fill="#467a50" />
<rect x="122.52" y="801.00" width="1.30" height="6.00" fill="#3a8264" />
<rect x="143.98" y="801.00" width="1.60" height="6.00" fill="#3a8264" />
<rect x="145.92" y="801.00" width="1.60" height="6.00" fill="#3a8264" />
<rect x="151.12" y="801.00" width="1.60" height="6.00" fill="#467a50" />
<rect x="163.91" y="801.00" width="0.90" height="6.00" fill="#3a8264" />
<rect x="179.86" y="801.00" width="1.00" height="6.00" fill="#3a8264" />
<rect x="191.44" y="801.00" width="0.90" height="6.00" fill="#3a8264" />
<rect x="192.36" y="801.00" width="1.30" height="6.00" fill="#467a50" />
<rect x="193.43" y="801.00" width="1.60" height="6.00" fill="#3a8264" />
<rect x="198.12" y="801.00" width="1.60" height="6.00" fill="#3a8264" />
<rect x="206.07" y="801.00" width="1.60" height="6.00" fill="#3a8264" />
<rect x="210.20" y="801.00" width="0.90" height="6.00" fill="#3a8264" />
<rect x="219.43" y="801.00" width="1.00" height="6.00" fill="#3a8264" />
<rect x="220.70" y="801.00" width="1.30" height="6.00" fill="#3a8264" />
<rect x="222.18" y="801.00" width="1.60" height="6.00" fill="#467a50" />
<rect x="224.22" y="801.00" width="1.60" height="6.00" fill="#3a8264" />
<rect x="228.14" y="801.00" width="1.10" height="6.00" fill="#3a8264" />
<rect x="245.58" y="801.00" width="0.90" height="6.00" fill="#3a8264" />
<rect x="256.39" y="801.00" width="1.10" height="6.00" fill="#3a8264" />
<rect x="267.45" y="801.00" width="1.60" height="6.00" fill="#467a50" />
<rect x="270.25" y="801.00" width="0.90" height="6.00" fill="#467a50" />
<rect x="281.06" y="801.00" width="1.10" height="6.00" fill="#467a50" />
<rect x="281.93" y="801.00" width="1.60" height="6.00" fill="#3a8264" />
<rect x="286.36" y="801.00" width="0.90" height="6.00" fill="#3a8264" />
<rect x="289.42" y="801.00" width="0.90" height="6.00" fill="#3a8264" />
<rect x="292.48" y="801.00" width="1.10" height="6.00" fill="#3a8264" />
<rect x="295.64" y="801.00" width="0.90" height="6.00" fill="#467a50" />
<rect x="298.70" y="801.00" width="0.90" height="6.00" fill="#3a8264" />
<rect x="302.88" y="801.00" width="0.90" height="6.00" fill="#3a8264" />
<rect x="305.33" y="801.00" width="1.30" height="6.00" fill="#3a8264" />
<rect x="307.63" y="801.00" width="1.60" height="6.00" fill="#3a8264" />
<rect x="312.06" y="801.00" width="1.10" height="6.00" fill="#3a8264" />
<rect x="315.12" y="801.00" width="1.10" height="6.00" fill="#3a8264" />
<rect x="316.44" y="801.00" width="1.30" height="6.00" fill="#467a50" />
<rect x="319.29" y="801.00" width="0.90" height="6.00" fill="#3a8264" />
<rect x="322.45" y="801.00" width="0.90" height="6.00" fill="#3a8264" />
<rect x="324.29" y="801.00" width="1.30" height="6.00" fill="#467a50" />
<rect x="326.89" y="801.00" width="1.00" height="6.00" fill="#3a8264" />
<rect x="328.93" y="801.00" width="1.00" height="6.00" fill="#3a8264" />
<rect x="331.68" y="801.00" width="1.00" height="6.00" fill="#467a50" />
<rect x="334.74" y="801.00" width="1.00" height="6.00" fill="#3a8264" />
<rect x="337.65" y="801.00" width="1.30" height="6.00" fill="#3a8264" />
<rect x="339.69" y="801.00" width="1.30" height="6.00" fill="#467a50" />
<rect x="342.03" y="801.00" width="0.90" height="6.00" fill="#3a8264" />
<rect x="343.72" y="801.00" width="1.60" height="6.00" fill="#3a8264" />
<rect x="346.11" y="801.00" width="0.90" height="6.00" fill="#3a8264" />
<rect x="348.56" y="801.00" width="1.30" height="6.00" fill="#467a50" />
<rect x="351.27" y="801.00" width="1.60" height="6.00" fill="#3a8264" />
<rect x="354.37" y="801.00" width="0.90" height="6.00" fill="#3a8264" />
<rect x="357.78" y="801.00" width="1.00" height="6.00" fill="#3a8264" />
<rect x="363.55" y="801.00" width="1.10" height="6.00" fill="#3a8264" />
<rect x="364.93" y="801.00" width="1.60" height="6.00" fill="#3a8264" />
<rect x="367.22" y="801.00" width="1.10" height="6.00" fill="#3a8264" />
<rect x="370.78" y="801.00" width="0.90" height="6.00" fill="#3a8264" />
<rect x="375.63" y="801.00" width="1.60" height="6.00" fill="#3a8264" />
<rect x="379.65" y="801.00" width="0.90" height="6.00" fill="#3a8264" />
<rect x="383.73" y="801.00" width="1.10" height="6.00" fill="#3a8264" />
<rect x="387.25" y="801.00" width="1.00" height="6.00" fill="#467a50" />
<rect x="390.16" y="801.00" width="1.30" height="6.00" fill="#467a50" />
<rect x="394.49" y="801.00" width="1.00" height="6.00" fill="#467a50" />
<rect x="398.57" y="801.00" width="1.00" height="6.00" fill="#3a8264" />
<rect x="402.60" y="801.00" width="1.10" height="6.00" fill="#467a50" />
<rect x="405.51" y="801.00" width="1.60" height="6.00" fill="#3a8264" />
<rect x="407.85" y="801.00" width="1.00" height="6.00" fill="#3a8264" />
<rect x="409.59" y="801.00" width="1.60" height="6.00" fill="#3a8264" />
<rect x="413.92" y="801.00" width="1.30" height="6.00" fill="#467a50" />
<rect x="415.81" y="801.00" width="1.60" height="6.00" fill="#3a8264" />
<rect x="421.25" y="801.00" width="0.90" height="6.00" fill="#3a8264" />
<rect x="425.43" y="801.00" width="0.90" height="6.00" fill="#3a8264" />
<rect x="428.39" y="801.00" width="1.10" height="6.00" fill="#3a8264" />
<rect x="431.35" y="801.00" width="1.30" height="6.00" fill="#3a8264" />
<rect x="434.36" y="801.00" width="1.60" height="6.00" fill="#3a8264" />
<rect x="441.50" y="801.00" width="1.60" height="6.00" fill="#3a8264" />
<rect x="445.01" y="801.00" width="0.90" height="6.00" fill="#3a8264" />
<rect x="450.93" y="801.00" width="1.30" height="6.00" fill="#3a8264" />
<rect x="463.12" y="801.00" width="1.60" height="6.00" fill="#3a8264" />
<rect x="465.51" y="801.00" width="1.10" height="6.00" fill="#3a8264" />
<rect x="467.60" y="801.00" width="1.00" height="6.00" fill="#467a50" />
<rect x="469.68" y="801.00" width="0.90" height="6.00" fill="#3a8264" />
<rect x="472.54" y="801.00" width="1.30" height="6.00" fill="#3a8264" />
<rect x="475.90" y="801.00" width="0.90" height="6.00" fill="#3a8264" />
<rect x="479.88" y="801.00" width="1.10" height="6.00" fill="#3a8264" />
<rect x="482.99" y="801.00" width="1.00" height="6.00" fill="#3a8264" />
<rect x="485.03" y="801.00" width="1.00" height="6.00" fill="#467a50" />
<rect x="488.14" y="801.00" width="1.10" height="6.00" fill="#3a8264" />
<rect x="489.93" y="801.00" width="1.60" height="6.00" fill="#3a8264" />
<rect x="496.45" y="801.00" width="1.00" height="6.00" fill="#3a8264" />
<rect x="500.58" y="801.00" width="0.90" height="6.00" fill="#3a8264" />
<rect x="504.56" y="801.00" width="1.10" height="6.00" fill="#467a50" />
<rect x="506.70" y="801.00" width="0.90" height="6.00" fill="#3a8264" />
<clipPath id="cpD"><rect x="96.5" y="807" width="413.0" height="18"/></clipPath>
<g clip-path="url(#cpD)">
<rect x="122.82" y="807.00" width="0.70" height="18.00" fill="#d4d4d4" />
<rect x="144.43" y="807.00" width="0.70" height="18.00" fill="#d4d4d4" />
<rect x="146.37" y="807.00" width="0.70" height="18.00" fill="#d4d4d4" />
<rect x="151.57" y="807.00" width="0.70" height="18.00" fill="#d4d4d4" />
<rect x="164.01" y="807.00" width="0.70" height="18.00" fill="#d4d4d4" />
<rect x="180.01" y="807.00" width="0.70" height="18.00" fill="#d4d4d4" />
<rect x="191.54" y="807.00" width="0.70" height="18.00" fill="#d4d4d4" />
<rect x="193.88" y="807.00" width="0.70" height="18.00" fill="#d4d4d4" />
<rect x="198.57" y="807.00" width="0.70" height="18.00" fill="#d4d4d4" />
<rect x="206.52" y="807.00" width="0.70" height="18.00" fill="#d4d4d4" />
<rect x="210.30" y="807.00" width="0.70" height="18.00" fill="#d4d4d4" />
<line x1="219.93" y1="807.00" x2="299.33" y2="825.00" stroke="#b4b4b4" stroke-width="0.7" />
<line x1="221.35" y1="807.00" x2="300.75" y2="825.00" stroke="#b4b4b4" stroke-width="0.7" />
<line x1="222.98" y1="807.00" x2="302.38" y2="825.00" stroke="#b4b4b4" stroke-width="0.7" />
<line x1="225.02" y1="807.00" x2="304.42" y2="825.00" stroke="#b4b4b4" stroke-width="0.7" />
<line x1="228.69" y1="807.00" x2="308.09" y2="825.00" stroke="#b4b4b4" stroke-width="0.7" />
<line x1="246.03" y1="807.00" x2="325.43" y2="825.00" stroke="#b4b4b4" stroke-width="0.7" />
<line x1="256.94" y1="807.00" x2="336.34" y2="825.00" stroke="#b4b4b4" stroke-width="0.7" />
<line x1="268.25" y1="807.00" x2="347.65" y2="825.00" stroke="#b4b4b4" stroke-width="0.7" />
<line x1="270.70" y1="807.00" x2="350.10" y2="825.00" stroke="#b4b4b4" stroke-width="0.7" />
<line x1="281.61" y1="807.00" x2="361.01" y2="825.00" stroke="#b4b4b4" stroke-width="0.7" />
<line x1="282.73" y1="807.00" x2="362.13" y2="825.00" stroke="#b4b4b4" stroke-width="0.7" />
<line x1="286.81" y1="807.00" x2="366.21" y2="825.00" stroke="#b4b4b4" stroke-width="0.7" />
<line x1="289.87" y1="807.00" x2="369.27" y2="825.00" stroke="#b4b4b4" stroke-width="0.7" />
<line x1="293.03" y1="807.00" x2="372.43" y2="825.00" stroke="#b4b4b4" stroke-width="0.7" />
<line x1="296.09" y1="807.00" x2="375.49" y2="825.00" stroke="#b4b4b4" stroke-width="0.7" />
<line x1="299.15" y1="807.00" x2="378.55" y2="825.00" stroke="#b4b4b4" stroke-width="0.7" />
<line x1="303.33" y1="807.00" x2="382.73" y2="825.00" stroke="#b4b4b4" stroke-width="0.7" />
<line x1="305.98" y1="807.00" x2="385.38" y2="825.00" stroke="#b4b4b4" stroke-width="0.7" />
<line x1="308.43" y1="807.00" x2="387.83" y2="825.00" stroke="#b4b4b4" stroke-width="0.7" />
<line x1="312.61" y1="807.00" x2="392.01" y2="825.00" stroke="#b4b4b4" stroke-width="0.7" />
<line x1="315.67" y1="807.00" x2="395.07" y2="825.00" stroke="#b4b4b4" stroke-width="0.7" />
<line x1="317.09" y1="807.00" x2="396.49" y2="825.00" stroke="#b4b4b4" stroke-width="0.7" />
<line x1="319.74" y1="807.00" x2="399.14" y2="825.00" stroke="#b4b4b4" stroke-width="0.7" />
<line x1="322.90" y1="807.00" x2="402.30" y2="825.00" stroke="#b4b4b4" stroke-width="0.7" />
<line x1="324.94" y1="807.00" x2="404.34" y2="825.00" stroke="#b4b4b4" stroke-width="0.7" />
<line x1="327.39" y1="807.00" x2="406.79" y2="825.00" stroke="#b4b4b4" stroke-width="0.7" />
<line x1="329.43" y1="807.00" x2="408.83" y2="825.00" stroke="#b4b4b4" stroke-width="0.7" />
<line x1="332.18" y1="807.00" x2="411.58" y2="825.00" stroke="#b4b4b4" stroke-width="0.7" />
<line x1="335.24" y1="807.00" x2="414.64" y2="825.00" stroke="#b4b4b4" stroke-width="0.7" />
<line x1="338.30" y1="807.00" x2="417.70" y2="825.00" stroke="#b4b4b4" stroke-width="0.7" />
<line x1="340.34" y1="807.00" x2="419.74" y2="825.00" stroke="#b4b4b4" stroke-width="0.7" />
<line x1="342.48" y1="807.00" x2="421.88" y2="825.00" stroke="#b4b4b4" stroke-width="0.7" />
<line x1="344.52" y1="807.00" x2="423.92" y2="825.00" stroke="#b4b4b4" stroke-width="0.7" />
<line x1="346.56" y1="807.00" x2="425.96" y2="825.00" stroke="#b4b4b4" stroke-width="0.7" />
<line x1="349.21" y1="807.00" x2="428.61" y2="825.00" stroke="#b4b4b4" stroke-width="0.7" />
<line x1="352.07" y1="807.00" x2="431.47" y2="825.00" stroke="#b4b4b4" stroke-width="0.7" />
<line x1="354.82" y1="807.00" x2="434.22" y2="825.00" stroke="#b4b4b4" stroke-width="0.7" />
<line x1="358.28" y1="807.00" x2="437.68" y2="825.00" stroke="#b4b4b4" stroke-width="0.7" />
<line x1="364.10" y1="807.00" x2="443.50" y2="825.00" stroke="#b4b4b4" stroke-width="0.7" />
<line x1="365.73" y1="807.00" x2="445.13" y2="825.00" stroke="#b4b4b4" stroke-width="0.7" />
<line x1="367.77" y1="807.00" x2="447.17" y2="825.00" stroke="#b4b4b4" stroke-width="0.7" />
<line x1="371.23" y1="807.00" x2="450.63" y2="825.00" stroke="#b4b4b4" stroke-width="0.7" />
<line x1="376.43" y1="807.00" x2="455.83" y2="825.00" stroke="#b4b4b4" stroke-width="0.7" />
<line x1="380.10" y1="807.00" x2="459.50" y2="825.00" stroke="#b4b4b4" stroke-width="0.7" />
<line x1="384.28" y1="807.00" x2="463.68" y2="825.00" stroke="#b4b4b4" stroke-width="0.7" />
<line x1="387.75" y1="807.00" x2="467.15" y2="825.00" stroke="#b4b4b4" stroke-width="0.7" />
<line x1="390.81" y1="807.00" x2="470.21" y2="825.00" stroke="#b4b4b4" stroke-width="0.7" />
<line x1="394.99" y1="807.00" x2="474.39" y2="825.00" stroke="#b4b4b4" stroke-width="0.7" />
<line x1="399.07" y1="807.00" x2="478.47" y2="825.00" stroke="#b4b4b4" stroke-width="0.7" />
<line x1="403.15" y1="807.00" x2="482.55" y2="825.00" stroke="#b4b4b4" stroke-width="0.7" />
<line x1="406.31" y1="807.00" x2="485.71" y2="825.00" stroke="#b4b4b4" stroke-width="0.7" />
<line x1="408.35" y1="807.00" x2="487.75" y2="825.00" stroke="#b4b4b4" stroke-width="0.7" />
<line x1="410.39" y1="807.00" x2="489.79" y2="825.00" stroke="#b4b4b4" stroke-width="0.7" />
<line x1="414.57" y1="807.00" x2="493.97" y2="825.00" stroke="#b4b4b4" stroke-width="0.7" />
<line x1="416.61" y1="807.00" x2="496.01" y2="825.00" stroke="#b4b4b4" stroke-width="0.7" />
<line x1="421.70" y1="807.00" x2="501.10" y2="825.00" stroke="#b4b4b4" stroke-width="0.7" />
<line x1="425.88" y1="807.00" x2="505.28" y2="825.00" stroke="#b4b4b4" stroke-width="0.7" />
<line x1="428.94" y1="807.00" x2="508.34" y2="825.00" stroke="#b4b4b4" stroke-width="0.7" />
<line x1="432.00" y1="807.00" x2="511.40" y2="825.00" stroke="#b4b4b4" stroke-width="0.7" />
<line x1="435.16" y1="807.00" x2="514.56" y2="825.00" stroke="#b4b4b4" stroke-width="0.7" />
<line x1="442.30" y1="807.00" x2="521.70" y2="825.00" stroke="#b4b4b4" stroke-width="0.7" />
<line x1="445.46" y1="807.00" x2="524.86" y2="825.00" stroke="#b4b4b4" stroke-width="0.7" />
<line x1="451.58" y1="807.00" x2="530.98" y2="825.00" stroke="#b4b4b4" stroke-width="0.7" />
<line x1="463.92" y1="807.00" x2="543.32" y2="825.00" stroke="#b4b4b4" stroke-width="0.7" />
<line x1="466.06" y1="807.00" x2="545.46" y2="825.00" stroke="#b4b4b4" stroke-width="0.7" />
<line x1="468.10" y1="807.00" x2="547.50" y2="825.00" stroke="#b4b4b4" stroke-width="0.7" />
<line x1="470.13" y1="807.00" x2="549.53" y2="825.00" stroke="#b4b4b4" stroke-width="0.7" />
<line x1="473.19" y1="807.00" x2="552.59" y2="825.00" stroke="#b4b4b4" stroke-width="0.7" />
<line x1="476.35" y1="807.00" x2="555.75" y2="825.00" stroke="#b4b4b4" stroke-width="0.7" />
<line x1="480.43" y1="807.00" x2="559.83" y2="825.00" stroke="#b4b4b4" stroke-width="0.7" />
<line x1="483.49" y1="807.00" x2="562.89" y2="825.00" stroke="#b4b4b4" stroke-width="0.7" />
<line x1="485.53" y1="807.00" x2="564.93" y2="825.00" stroke="#b4b4b4" stroke-width="0.7" />
<line x1="488.69" y1="807.00" x2="568.09" y2="825.00" stroke="#b4b4b4" stroke-width="0.7" />
<line x1="490.73" y1="807.00" x2="570.13" y2="825.00" stroke="#b4b4b4" stroke-width="0.7" />
<line x1="496.95" y1="807.00" x2="576.35" y2="825.00" stroke="#b4b4b4" stroke-width="0.7" />
<line x1="501.03" y1="807.00" x2="580.43" y2="825.00" stroke="#b4b4b4" stroke-width="0.7" />
<line x1="505.11" y1="807.00" x2="584.51" y2="825.00" stroke="#b4b4b4" stroke-width="0.7" />
<line x1="507.15" y1="807.00" x2="586.55" y2="825.00" stroke="#b4b4b4" stroke-width="0.7" />
</g>
<rect x="96.50" y="825.00" width="413.00" height="5.80" fill="#66c6ee" />
<rect x="99.47" y="825.00" width="1.30" height="5.80" fill="#2f72aa" />
<rect x="122.52" y="825.00" width="1.30" height="5.80" fill="#2f72aa" />
<rect x="143.98" y="825.00" width="1.60" height="5.80" fill="#2f72aa" />
<rect x="145.92" y="825.00" width="1.60" height="5.80" fill="#2f72aa" />
<rect x="151.12" y="825.00" width="1.60" height="5.80" fill="#2f72aa" />
<rect x="163.91" y="825.00" width="0.90" height="5.80" fill="#2f72aa" />
<rect x="179.86" y="825.00" width="1.00" height="5.80" fill="#2f72aa" />
<rect x="191.44" y="825.00" width="0.90" height="5.80" fill="#2f72aa" />
<rect x="192.36" y="825.00" width="1.30" height="5.80" fill="#3f7fe0" />
<rect x="193.43" y="825.00" width="1.60" height="5.80" fill="#2f72aa" />
<rect x="198.12" y="825.00" width="1.60" height="5.80" fill="#2f72aa" />
<rect x="206.07" y="825.00" width="1.60" height="5.80" fill="#2f72aa" />
<rect x="210.20" y="825.00" width="0.90" height="5.80" fill="#2f72aa" />
<rect x="219.43" y="825.00" width="1.00" height="5.80" fill="#b0d868" />
<rect x="220.70" y="825.00" width="1.30" height="5.80" fill="#b0d868" />
<rect x="222.18" y="825.00" width="1.60" height="5.80" fill="#b0d868" />
<rect x="224.22" y="825.00" width="1.60" height="5.80" fill="#b0d868" />
<rect x="228.14" y="825.00" width="1.10" height="5.80" fill="#b0d868" />
<rect x="239.28" y="825.00" width="1.00" height="5.80" fill="#b0d868" />
<rect x="240.55" y="825.00" width="1.30" height="5.80" fill="#b0d868" />
<rect x="242.03" y="825.00" width="1.60" height="5.80" fill="#b0d868" />
<rect x="244.07" y="825.00" width="1.60" height="5.80" fill="#b0d868" />
<rect x="247.99" y="825.00" width="1.10" height="5.80" fill="#b0d868" />
<rect x="259.13" y="825.00" width="1.00" height="5.80" fill="#b0d868" />
<rect x="260.40" y="825.00" width="1.30" height="5.80" fill="#b0d868" />
<rect x="261.88" y="825.00" width="1.60" height="5.80" fill="#b0d868" />
<rect x="263.92" y="825.00" width="1.60" height="5.80" fill="#b0d868" />
<rect x="267.84" y="825.00" width="1.10" height="5.80" fill="#b0d868" />
<rect x="278.98" y="825.00" width="1.00" height="5.80" fill="#b0d868" />
<rect x="280.25" y="825.00" width="1.30" height="5.80" fill="#b0d868" />
<rect x="281.73" y="825.00" width="1.60" height="5.80" fill="#b0d868" />
<rect x="283.77" y="825.00" width="1.60" height="5.80" fill="#b0d868" />
<rect x="287.69" y="825.00" width="1.10" height="5.80" fill="#b0d868" />
<rect x="298.83" y="825.00" width="1.00" height="5.80" fill="#b0d868" />
<rect x="300.10" y="825.00" width="1.30" height="5.80" fill="#b0d868" />
<rect x="301.58" y="825.00" width="1.60" height="5.80" fill="#b0d868" />
<rect x="303.62" y="825.00" width="1.60" height="5.80" fill="#b0d868" />
<rect x="307.54" y="825.00" width="1.10" height="5.80" fill="#b0d868" />
<rect x="324.98" y="825.00" width="0.90" height="5.80" fill="#2f72aa" />
<rect x="335.79" y="825.00" width="1.10" height="5.80" fill="#2f72aa" />
<rect x="346.85" y="825.00" width="1.60" height="5.80" fill="#3f7fe0" />
<rect x="349.65" y="825.00" width="0.90" height="5.80" fill="#2f72aa" />
<rect x="360.46" y="825.00" width="1.10" height="5.80" fill="#2f72aa" />
<rect x="361.33" y="825.00" width="1.60" height="5.80" fill="#2f72aa" />
<rect x="365.76" y="825.00" width="0.90" height="5.80" fill="#2f72aa" />
<rect x="368.82" y="825.00" width="0.90" height="5.80" fill="#2f72aa" />
<rect x="371.88" y="825.00" width="1.10" height="5.80" fill="#2f72aa" />
<rect x="375.04" y="825.00" width="0.90" height="5.80" fill="#2f72aa" />
<rect x="378.10" y="825.00" width="0.90" height="5.80" fill="#2f72aa" />
<rect x="382.28" y="825.00" width="0.90" height="5.80" fill="#2f72aa" />
<rect x="384.73" y="825.00" width="1.30" height="5.80" fill="#2f72aa" />
<rect x="387.03" y="825.00" width="1.60" height="5.80" fill="#2f72aa" />
<rect x="391.46" y="825.00" width="1.10" height="5.80" fill="#2f72aa" />
<rect x="394.52" y="825.00" width="1.10" height="5.80" fill="#2f72aa" />
<rect x="395.84" y="825.00" width="1.30" height="5.80" fill="#2f72aa" />
<rect x="398.69" y="825.00" width="0.90" height="5.80" fill="#2f72aa" />
<rect x="401.85" y="825.00" width="0.90" height="5.80" fill="#2f72aa" />
<rect x="403.69" y="825.00" width="1.30" height="5.80" fill="#2f72aa" />
<rect x="406.29" y="825.00" width="1.00" height="5.80" fill="#2f72aa" />
<rect x="408.33" y="825.00" width="1.00" height="5.80" fill="#2f72aa" />
<rect x="411.08" y="825.00" width="1.00" height="5.80" fill="#3f7fe0" />
<rect x="414.14" y="825.00" width="1.00" height="5.80" fill="#2f72aa" />
<rect x="417.05" y="825.00" width="1.30" height="5.80" fill="#2f72aa" />
<rect x="419.09" y="825.00" width="1.30" height="5.80" fill="#3f7fe0" />
<rect x="421.43" y="825.00" width="0.90" height="5.80" fill="#2f72aa" />
<rect x="423.12" y="825.00" width="1.60" height="5.80" fill="#2f72aa" />
<rect x="425.51" y="825.00" width="0.90" height="5.80" fill="#2f72aa" />
<rect x="427.96" y="825.00" width="1.30" height="5.80" fill="#3f7fe0" />
<rect x="430.67" y="825.00" width="1.60" height="5.80" fill="#2f72aa" />
<rect x="433.77" y="825.00" width="0.90" height="5.80" fill="#2f72aa" />
<rect x="437.18" y="825.00" width="1.00" height="5.80" fill="#2f72aa" />
<rect x="442.95" y="825.00" width="1.10" height="5.80" fill="#2f72aa" />
<rect x="444.33" y="825.00" width="1.60" height="5.80" fill="#2f72aa" />
<rect x="446.62" y="825.00" width="1.10" height="5.80" fill="#2f72aa" />
<rect x="450.18" y="825.00" width="0.90" height="5.80" fill="#2f72aa" />
<rect x="455.03" y="825.00" width="1.60" height="5.80" fill="#2f72aa" />
<rect x="459.05" y="825.00" width="0.90" height="5.80" fill="#2f72aa" />
<rect x="463.13" y="825.00" width="1.10" height="5.80" fill="#2f72aa" />
<rect x="466.65" y="825.00" width="1.00" height="5.80" fill="#3f7fe0" />
<rect x="469.56" y="825.00" width="1.30" height="5.80" fill="#2f72aa" />
<rect x="473.89" y="825.00" width="1.00" height="5.80" fill="#2f72aa" />
<rect x="477.97" y="825.00" width="1.00" height="5.80" fill="#2f72aa" />
<rect x="482.00" y="825.00" width="1.10" height="5.80" fill="#3f7fe0" />
<rect x="484.91" y="825.00" width="1.60" height="5.80" fill="#2f72aa" />
<rect x="487.25" y="825.00" width="1.00" height="5.80" fill="#2f72aa" />
<rect x="488.99" y="825.00" width="1.60" height="5.80" fill="#2f72aa" />
<rect x="493.32" y="825.00" width="1.30" height="5.80" fill="#3f7fe0" />
<rect x="495.21" y="825.00" width="1.60" height="5.80" fill="#2f72aa" />
<rect x="500.65" y="825.00" width="0.90" height="5.80" fill="#2f72aa" />
<rect x="504.83" y="825.00" width="0.90" height="5.80" fill="#2f72aa" />
<rect x="507.79" y="825.00" width="1.10" height="5.80" fill="#2f72aa" />
<rect x="96.50" y="830.80" width="413.00" height="2.80" fill="#ffffff" />
<rect x="96.50" y="833.60" width="413.00" height="45.10" fill="#f9d49c" />
<path d="M228,878.7 L232,877 L238,875 L244,873 L250,871 L256,868.5 L261,865.5 L266,862.5 L305,862.5 L305,861 L425,861 L425,878.7 Z" fill="#fafafa"/>
<rect x="323.32" y="862.00" width="101.68" height="1.25" fill="#f9d49c" />
<rect x="328.43" y="864.20" width="96.57" height="1.25" fill="#f9d49c" />
<rect x="305.22" y="866.00" width="119.78" height="1.25" fill="#f9d49c" />
<rect x="326.33" y="867.80" width="98.67" height="1.25" fill="#f9d49c" />
<rect x="365.50" y="869.60" width="59.50" height="1.25" fill="#f9d49c" />
<rect x="302.70" y="871.80" width="122.30" height="1.25" fill="#f9d49c" />
<rect x="330.11" y="874.80" width="94.89" height="1.25" fill="#f9d49c" />
<rect x="306.53" y="877.00" width="118.47" height="1.25" fill="#f9d49c" />
<rect x="120.32" y="875.40" width="23.55" height="1.00" fill="#ffffff" />
<rect x="331.45" y="836.30" width="22.15" height="1.00" fill="#ffffff" />
<rect x="320.84" y="839.70" width="16.99" height="1.00" fill="#ffffff" />
<rect x="314.40" y="858.40" width="21.37" height="1.00" fill="#ffffff" />
<rect x="371.35" y="838.00" width="21.71" height="1.00" fill="#ffffff" />
<rect x="383.48" y="858.40" width="23.19" height="1.00" fill="#ffffff" />
<rect x="296.56" y="856.70" width="28.09" height="1.00" fill="#ffffff" />
<rect x="284.14" y="873.70" width="15.21" height="1.00" fill="#ffffff" />
<rect x="410.77" y="838.00" width="13.31" height="1.00" fill="#ffffff" />
<rect x="296.03" y="848.20" width="17.91" height="1.00" fill="#ffffff" />
<rect x="341.91" y="836.30" width="19.87" height="1.00" fill="#ffffff" />
<rect x="472.61" y="851.60" width="33.82" height="1.00" fill="#ffffff" />
<rect x="127.78" y="868.60" width="29.37" height="1.00" fill="#ffffff" />
<rect x="296.66" y="868.60" width="6.13" height="1.00" fill="#ffffff" />
<rect x="377.41" y="836.30" width="26.67" height="1.00" fill="#ffffff" />
<rect x="221.27" y="863.50" width="17.81" height="1.00" fill="#ffffff" />
<rect x="385.30" y="872.00" width="14.76" height="1.00" fill="#ffffff" />
<rect x="475.58" y="849.90" width="22.94" height="1.00" fill="#ffffff" />
<rect x="295.46" y="843.10" width="12.91" height="1.00" fill="#ffffff" />
<rect x="394.06" y="851.60" width="32.42" height="1.00" fill="#ffffff" />
<rect x="296.59" y="841.40" width="16.45" height="1.00" fill="#ffffff" />
<rect x="270.00" y="856.70" width="25.90" height="1.00" fill="#ffffff" />
<rect x="494.05" y="863.50" width="15.45" height="1.00" fill="#ffffff" />
<rect x="157.47" y="834.60" width="29.76" height="1.00" fill="#ffffff" />
<rect x="155.21" y="860.10" width="13.88" height="1.00" fill="#ffffff" />
<rect x="147.07" y="875.40" width="24.30" height="1.00" fill="#ffffff" />
<rect x="394.63" y="853.30" width="31.00" height="1.00" fill="#ffffff" />
<rect x="480.11" y="863.50" width="21.34" height="1.00" fill="#ffffff" />
<rect x="256.92" y="849.90" width="18.93" height="1.00" fill="#ffffff" />
<rect x="257.88" y="841.40" width="34.52" height="1.00" fill="#ffffff" />
<rect x="274.07" y="838.00" width="22.62" height="1.00" fill="#ffffff" />
<rect x="137.76" y="856.70" width="33.42" height="1.00" fill="#ffffff" />
<rect x="343.84" y="836.30" width="10.45" height="1.00" fill="#ffffff" />
<rect x="248.12" y="861.80" width="33.62" height="1.00" fill="#ffffff" />
<rect x="339.22" y="855.00" width="7.58" height="1.00" fill="#ffffff" />
<rect x="293.19" y="875.40" width="18.89" height="1.00" fill="#ffffff" />
<rect x="398.62" y="865.20" width="18.84" height="1.00" fill="#ffffff" />
<rect x="375.40" y="856.70" width="10.36" height="1.00" fill="#ffffff" />
<rect x="480.16" y="849.90" width="25.39" height="1.00" fill="#ffffff" />
<rect x="464.90" y="866.90" width="13.24" height="1.00" fill="#ffffff" />
<rect x="355.60" y="838.00" width="30.21" height="1.00" fill="#ffffff" />
<rect x="305.41" y="873.70" width="15.03" height="1.00" fill="#ffffff" />
<rect x="186.29" y="855.00" width="23.73" height="1.00" fill="#ffffff" />
<rect x="343.63" y="866.90" width="27.51" height="1.00" fill="#ffffff" />
<rect x="257.98" y="868.60" width="10.20" height="1.00" fill="#ffffff" />
<rect x="295.09" y="865.20" width="34.68" height="1.00" fill="#ffffff" />
<rect x="414.92" y="853.30" width="10.00" height="1.00" fill="#ffffff" />
<rect x="340.37" y="848.20" width="29.07" height="1.00" fill="#ffffff" />
<rect x="387.92" y="848.20" width="34.21" height="1.00" fill="#ffffff" />
<rect x="285.94" y="848.20" width="18.96" height="1.00" fill="#ffffff" />
<rect x="493.56" y="860.10" width="4.06" height="1.00" fill="#ffffff" />
<rect x="462.91" y="848.20" width="23.94" height="1.00" fill="#ffffff" />
<rect x="432.86" y="839.70" width="16.04" height="1.00" fill="#ffffff" />
<rect x="383.23" y="843.10" width="31.56" height="1.00" fill="#ffffff" />
<rect x="271.37" y="861.80" width="6.69" height="1.00" fill="#ffffff" />
<rect x="477.80" y="865.20" width="18.36" height="1.00" fill="#ffffff" />
<rect x="396.07" y="838.00" width="8.92" height="1.00" fill="#ffffff" />
<rect x="496.72" y="834.60" width="12.78" height="1.00" fill="#ffffff" />
<rect x="100.00" y="843.50" width="20.00" height="1.20" fill="#ffffff" />
<rect x="106.00" y="860.00" width="25.00" height="1.20" fill="#ffffff" />
<rect x="107.00" y="863.00" width="10.00" height="1.20" fill="#ffffff" />
<rect x="98.00" y="867.00" width="15.00" height="1.20" fill="#ffffff" />
<rect x="97.00" y="871.00" width="14.00" height="1.20" fill="#ffffff" />
<rect x="160.00" y="853.00" width="15.00" height="1.20" fill="#ffffff" />
<rect x="180.00" y="843.00" width="10.00" height="1.20" fill="#ffffff" />
<rect x="99.72" y="833.60" width="0.80" height="45.10" fill="#b9bac6" />
<rect x="122.77" y="833.60" width="0.80" height="45.10" fill="#a2a9bc" />
<rect x="144.38" y="833.60" width="0.80" height="45.10" fill="#a2a9bc" />
<rect x="146.32" y="833.60" width="0.80" height="45.10" fill="#a2a9bc" />
<rect x="151.52" y="833.60" width="0.80" height="45.10" fill="#b9bac6" />
<rect x="163.96" y="833.60" width="0.80" height="45.10" fill="#a2a9bc" />
<rect x="179.96" y="833.60" width="0.80" height="45.10" fill="#a2a9bc" />
<rect x="191.49" y="833.60" width="0.80" height="45.10" fill="#a2a9bc" />
<rect x="192.61" y="833.60" width="0.80" height="45.10" fill="#b9bac6" />
<rect x="193.83" y="833.60" width="0.80" height="45.10" fill="#b9bac6" />
<rect x="198.52" y="833.60" width="0.80" height="45.10" fill="#a2a9bc" />
<rect x="206.47" y="833.60" width="0.80" height="45.10" fill="#a2a9bc" />
<rect x="210.25" y="833.60" width="0.80" height="45.10" fill="#a2a9bc" />
<rect x="219.53" y="833.60" width="0.80" height="45.10" fill="#a2a9bc" />
<rect x="220.95" y="833.60" width="0.80" height="45.10" fill="#a2a9bc" />
<rect x="222.58" y="833.60" width="0.80" height="45.10" fill="#b9bac6" />
<rect x="224.62" y="833.60" width="0.80" height="45.10" fill="#a2a9bc" />
<rect x="228.29" y="833.60" width="0.80" height="45.10" fill="#a2a9bc" />
<rect x="239.38" y="833.60" width="0.80" height="45.10" fill="#a2a9bc" />
<rect x="240.80" y="833.60" width="0.80" height="45.10" fill="#a2a9bc" />
<rect x="242.43" y="833.60" width="0.80" height="45.10" fill="#b9bac6" />
<rect x="244.47" y="833.60" width="0.80" height="45.10" fill="#a2a9bc" />
<rect x="248.14" y="833.60" width="0.80" height="45.10" fill="#a2a9bc" />
<rect x="259.23" y="833.60" width="0.80" height="45.10" fill="#a2a9bc" />
<rect x="260.65" y="833.60" width="0.80" height="45.10" fill="#a2a9bc" />
<rect x="262.28" y="833.60" width="0.80" height="45.10" fill="#b9bac6" />
<rect x="264.32" y="833.60" width="0.80" height="45.10" fill="#a2a9bc" />
<rect x="267.99" y="833.60" width="0.80" height="45.10" fill="#a2a9bc" />
<rect x="279.08" y="833.60" width="0.80" height="45.10" fill="#a2a9bc" />
<rect x="280.50" y="833.60" width="0.80" height="45.10" fill="#a2a9bc" />
<rect x="282.13" y="833.60" width="0.80" height="45.10" fill="#b9bac6" />
<rect x="284.17" y="833.60" width="0.80" height="45.10" fill="#a2a9bc" />
<rect x="287.84" y="833.60" width="0.80" height="45.10" fill="#a2a9bc" />
<rect x="298.93" y="833.60" width="0.80" height="45.10" fill="#a2a9bc" />
<rect x="300.35" y="833.60" width="0.80" height="45.10" fill="#a2a9bc" />
<rect x="301.98" y="833.60" width="0.80" height="45.10" fill="#b9bac6" />
<rect x="304.02" y="833.60" width="0.80" height="45.10" fill="#a2a9bc" />
<rect x="307.69" y="833.60" width="0.80" height="45.10" fill="#a2a9bc" />
<rect x="335.94" y="833.60" width="0.80" height="45.10" fill="#a2a9bc" />
<rect x="347.25" y="833.60" width="0.80" height="45.10" fill="#b9bac6" />
<rect x="349.70" y="833.60" width="0.80" height="45.10" fill="#b9bac6" />
<rect x="372.03" y="833.60" width="0.80" height="45.10" fill="#a2a9bc" />
<rect x="378.15" y="833.60" width="0.80" height="45.10" fill="#a2a9bc" />
<rect x="387.43" y="833.60" width="0.80" height="45.10" fill="#b9bac6" />
<rect x="391.61" y="833.60" width="0.80" height="45.10" fill="#a2a9bc" />
<rect x="394.67" y="833.60" width="0.80" height="45.10" fill="#a2a9bc" />
<rect x="403.94" y="833.60" width="0.80" height="45.10" fill="#b9bac6" />
<rect x="406.39" y="833.60" width="0.80" height="45.10" fill="#b9bac6" />
<rect x="408.43" y="833.60" width="0.80" height="45.10" fill="#a2a9bc" />
<rect x="411.18" y="833.60" width="0.80" height="45.10" fill="#b9bac6" />
<rect x="414.24" y="833.60" width="0.80" height="45.10" fill="#a2a9bc" />
<rect x="417.30" y="833.60" width="0.80" height="45.10" fill="#a2a9bc" />
<rect x="419.34" y="833.60" width="0.80" height="45.10" fill="#b9bac6" />
<rect x="423.52" y="833.60" width="0.80" height="45.10" fill="#a2a9bc" />
<rect x="425.56" y="833.60" width="0.80" height="45.10" fill="#a2a9bc" />
<rect x="428.21" y="833.60" width="0.80" height="45.10" fill="#b9bac6" />
<rect x="431.07" y="833.60" width="0.80" height="45.10" fill="#b9bac6" />
<rect x="433.82" y="833.60" width="0.80" height="45.10" fill="#a2a9bc" />
<rect x="437.28" y="833.60" width="0.80" height="45.10" fill="#a2a9bc" />
<rect x="443.10" y="833.60" width="0.80" height="45.10" fill="#a2a9bc" />
<rect x="450.23" y="833.60" width="0.80" height="45.10" fill="#a2a9bc" />
<rect x="455.43" y="833.60" width="0.80" height="45.10" fill="#b9bac6" />
<rect x="459.10" y="833.60" width="0.80" height="45.10" fill="#b9bac6" />
<rect x="463.28" y="833.60" width="0.80" height="45.10" fill="#b9bac6" />
<rect x="466.75" y="833.60" width="0.80" height="45.10" fill="#b9bac6" />
<rect x="469.81" y="833.60" width="0.80" height="45.10" fill="#b9bac6" />
<rect x="478.07" y="833.60" width="0.80" height="45.10" fill="#b9bac6" />
<rect x="482.15" y="833.60" width="0.80" height="45.10" fill="#b9bac6" />
<rect x="489.39" y="833.60" width="0.80" height="45.10" fill="#a2a9bc" />
<rect x="495.61" y="833.60" width="0.80" height="45.10" fill="#a2a9bc" />
<rect x="500.70" y="833.60" width="0.80" height="45.10" fill="#a2a9bc" />
<rect x="504.88" y="833.60" width="0.80" height="45.10" fill="#a2a9bc" />
<rect x="214.60" y="831.90" width="15.40" height="1.40" fill="#2ee0f5" />
<path d="M229.00,830.40 L233.00,832.60 L229.00,834.80 Z" fill="#2ee0f5"/>
<rect x="234.00" y="831.90" width="15.70" height="1.40" fill="#2a4a8a" />
<path d="M248.70,830.40 L252.70,832.60 L248.70,834.80 Z" fill="#2a4a8a"/>
<rect x="253.30" y="831.90" width="16.10" height="1.40" fill="#2a4a8a" />
<path d="M268.40,830.40 L272.40,832.60 L268.40,834.80 Z" fill="#2a4a8a"/>
<rect x="273.00" y="831.90" width="17.00" height="1.40" fill="#2a4a8a" />
<path d="M289.00,830.40 L293.00,832.60 L289.00,834.80 Z" fill="#2a4a8a"/>
<rect x="293.50" y="831.90" width="16.30" height="1.40" fill="#2a4a8a" />
<path d="M308.80,830.40 L312.80,832.60 L308.80,834.80 Z" fill="#2a4a8a"/>
<text x="94.30" y="761.80" font-size="8.3" fill="#111" text-anchor="end" font-weight="normal"  stroke="#111" stroke-width="0.149">Genes</text>
<text x="94.30" y="780.00" font-size="8.3" fill="#111" text-anchor="end" font-weight="normal"  stroke="#111" stroke-width="0.149">OGM ref. allele</text>
<text x="94.30" y="808.00" font-size="8.3" fill="#111" text-anchor="end" font-weight="normal"  stroke="#111" stroke-width="0.149">Reference chr9*</text>
<text x="94.30" y="831.00" font-size="8.3" fill="#111" text-anchor="end" font-weight="normal"  stroke="#111" stroke-width="0.149">OGM <tspan font-style="italic">PAX5</tspan>-ITM allele</text>
<text x="89.50" y="858.50" font-size="10.2" fill="#111" text-anchor="middle" transform="rotate(-90 89.50 858.50)">Molecules</text>
<line x1="214.25" y1="881.50" x2="233.00" y2="881.50" stroke="#36d0e8" stroke-width="1" />
<line x1="214.25" y1="892.60" x2="233.00" y2="892.60" stroke="#36d0e8" stroke-width="1" />
<line x1="214.25" y1="879.50" x2="214.25" y2="883.50" stroke="#36d0e8" stroke-width="0.8" />
<line x1="214.25" y1="890.60" x2="214.25" y2="894.60" stroke="#36d0e8" stroke-width="0.8" />
<line x1="233.00" y1="881.50" x2="313.75" y2="881.50" stroke="#7a9ad0" stroke-width="1" />
<line x1="233.00" y1="892.60" x2="313.75" y2="892.60" stroke="#7a9ad0" stroke-width="1" />
<line x1="233.00" y1="879.50" x2="233.00" y2="883.50" stroke="#7a9ad0" stroke-width="0.8" />
<line x1="251.75" y1="879.50" x2="251.75" y2="883.50" stroke="#7a9ad0" stroke-width="0.8" />
<line x1="271.75" y1="879.50" x2="271.75" y2="883.50" stroke="#7a9ad0" stroke-width="0.8" />
<line x1="291.75" y1="879.50" x2="291.75" y2="883.50" stroke="#7a9ad0" stroke-width="0.8" />
<line x1="313.75" y1="879.50" x2="313.75" y2="883.50" stroke="#7a9ad0" stroke-width="0.8" />
<line x1="313.75" y1="890.60" x2="313.75" y2="894.60" stroke="#7a9ad0" stroke-width="0.8" />
<text x="223.75" y="891.05" font-size="7.7" fill="#111" text-anchor="middle" font-weight="normal"  stroke="#111" stroke-width="0.139">21.2</text>
<text x="243.25" y="891.05" font-size="7.7" fill="#111" text-anchor="middle" font-weight="normal"  stroke="#111" stroke-width="0.139">21.2</text>
<text x="263.25" y="891.05" font-size="7.7" fill="#111" text-anchor="middle" font-weight="normal"  stroke="#111" stroke-width="0.139">21.2</text>
<text x="283.25" y="891.05" font-size="7.7" fill="#111" text-anchor="middle" font-weight="normal"  stroke="#111" stroke-width="0.139">21.2</text>
<text x="303.75" y="891.05" font-size="7.7" fill="#111" text-anchor="middle" font-weight="normal"  stroke="#111" stroke-width="0.139">21.2</text>
<text x="207.00" y="903.70" font-size="6.95" fill="#111" text-anchor="start" font-weight="normal"  stroke="#111" stroke-width="0.125">Ref. copy</text>
<text x="240.75" y="903.70" font-size="6.95" fill="#111" text-anchor="start" font-weight="normal"  stroke="#111" stroke-width="0.125">4 extra copies: 85 kb insertion</text>
<text x="475.00" y="908.10" font-size="10" fill="#111" text-anchor="start" font-weight="normal"  stroke="#111" stroke-width="0.180">Case 6</text>
<line x1="96.50" y1="912.50" x2="510.00" y2="912.50" stroke="#7f9dd0" stroke-width="1" />
<line x1="96.50" y1="909.50" x2="96.50" y2="915.50" stroke="#7f9dd0" stroke-width="0.8" />
<line x1="510.00" y1="909.50" x2="510.00" y2="915.50" stroke="#7f9dd0" stroke-width="0.8" />
<text x="19.00" y="927.00" font-size="8.35" fill="#111" text-anchor="start" font-weight="normal"  stroke="#111" stroke-width="0.150">*hg38 in silico DLE-1 digestions</text>
<text x="288.75" y="927.50" font-size="8.35" fill="#111" text-anchor="start" font-weight="normal"  stroke="#111" stroke-width="0.150">~500 kb</text>
<rect x="0" y="0" width="1.4" height="938" fill="#000"/>
<rect x="0" y="0" width="520" height="1.5" fill="#000"/>
<rect x="518.5" y="0" width="1.5" height="938" fill="#000"/>
<rect x="0" y="936.1" width="520" height="1.9" fill="#000"/>
</svg>
</body></html>
